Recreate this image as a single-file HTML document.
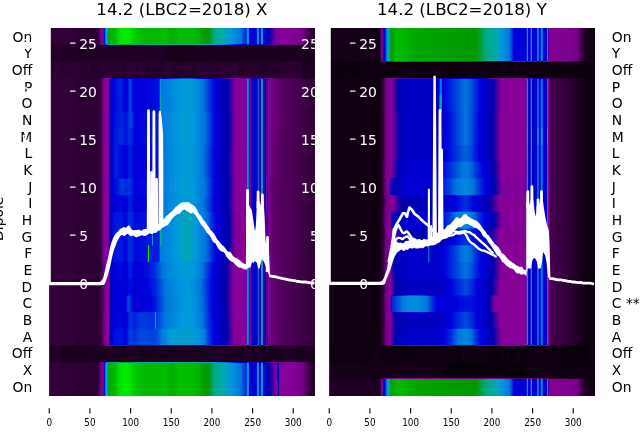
<!DOCTYPE html>
<html lang="en"><head><meta charset="utf-8"><title>14.2 (LBC2=2018)</title>
<style>html,body{margin:0;padding:0;background:#fff;overflow:hidden}svg{display:block}text{font-family:"DejaVu Sans","Liberation Sans",sans-serif}</style></head>
<body>
<svg width="640" height="440" viewBox="0 0 640 440"><defs><linearGradient id="a0" gradientUnits="userSpaceOnUse" x1="48.85" y1="0" x2="314.90" y2="0"><stop offset="0.0000" stop-color="#4c00a0"/><stop offset="0.0019" stop-color="#4c00a0"/><stop offset="0.0038" stop-color="#7b008c"/><stop offset="0.0056" stop-color="#310038"/><stop offset="0.0940" stop-color="#310038"/><stop offset="0.1034" stop-color="#2c0032"/><stop offset="0.1842" stop-color="#2c0032"/><stop offset="0.1917" stop-color="#51005c"/><stop offset="0.1955" stop-color="#770088"/><stop offset="0.2049" stop-color="#870098"/><stop offset="0.2068" stop-color="#2600a5"/><stop offset="0.2086" stop-color="#0000cd"/><stop offset="0.2105" stop-color="#0034dd"/><stop offset="0.2124" stop-color="#007ddd"/><stop offset="0.2143" stop-color="#0092dd"/><stop offset="0.2162" stop-color="#009ecd"/><stop offset="0.2180" stop-color="#00a7b2"/><stop offset="0.2218" stop-color="#00a980"/><stop offset="0.2237" stop-color="#009f2e"/><stop offset="0.2256" stop-color="#009e00"/><stop offset="0.2274" stop-color="#00ae00"/><stop offset="0.2368" stop-color="#00b700"/><stop offset="0.2481" stop-color="#00b800"/><stop offset="0.2650" stop-color="#00df00"/><stop offset="0.2838" stop-color="#00ea00"/><stop offset="0.3008" stop-color="#00e700"/><stop offset="0.3158" stop-color="#00d300"/><stop offset="0.3346" stop-color="#00c200"/><stop offset="0.3647" stop-color="#00b800"/><stop offset="0.3985" stop-color="#00b800"/><stop offset="0.4361" stop-color="#00be00"/><stop offset="0.4624" stop-color="#00ae00"/><stop offset="0.4925" stop-color="#00be00"/><stop offset="0.5376" stop-color="#00bb00"/><stop offset="0.5639" stop-color="#00b200"/><stop offset="0.5789" stop-color="#00a000"/><stop offset="0.5940" stop-color="#009900"/><stop offset="0.6053" stop-color="#009d22"/><stop offset="0.6165" stop-color="#00a66a"/><stop offset="0.6222" stop-color="#00aa84"/><stop offset="0.6241" stop-color="#00aa89"/><stop offset="0.6541" stop-color="#00aaab"/><stop offset="0.6729" stop-color="#009ecd"/><stop offset="0.6861" stop-color="#0098dd"/><stop offset="0.7199" stop-color="#0076dd"/><stop offset="0.7425" stop-color="#0025dd"/><stop offset="0.7444" stop-color="#0086dd"/><stop offset="0.7462" stop-color="#0099dd"/><stop offset="0.7500" stop-color="#0099dd"/><stop offset="0.7519" stop-color="#007add"/><stop offset="0.7538" stop-color="#0000dd"/><stop offset="0.7594" stop-color="#0000db"/><stop offset="0.7613" stop-color="#0000d3"/><stop offset="0.7801" stop-color="#0000d3"/><stop offset="0.7820" stop-color="#002cdd"/><stop offset="0.7838" stop-color="#0092dd"/><stop offset="0.7876" stop-color="#0092dd"/><stop offset="0.7895" stop-color="#006add"/><stop offset="0.7914" stop-color="#0000dd"/><stop offset="0.7951" stop-color="#0000dd"/><stop offset="0.7970" stop-color="#003bdd"/><stop offset="0.7989" stop-color="#0099dd"/><stop offset="0.8045" stop-color="#0099dd"/><stop offset="0.8064" stop-color="#0000ca"/><stop offset="0.8195" stop-color="#0000c9"/><stop offset="0.8308" stop-color="#0000ab"/><stop offset="0.8383" stop-color="#3300a4"/><stop offset="0.8534" stop-color="#79009b"/><stop offset="0.8797" stop-color="#880099"/><stop offset="0.9060" stop-color="#860097"/><stop offset="0.9530" stop-color="#770088"/><stop offset="0.9887" stop-color="#27002c"/><stop offset="1.0000" stop-color="#210026"/></linearGradient><linearGradient id="a1" gradientUnits="userSpaceOnUse" x1="48.85" y1="0" x2="314.90" y2="0"><stop offset="0.0000" stop-color="#4c00a0"/><stop offset="0.0019" stop-color="#4c00a0"/><stop offset="0.0038" stop-color="#7a008b"/><stop offset="0.0056" stop-color="#2d0033"/><stop offset="0.1842" stop-color="#29002e"/><stop offset="0.1917" stop-color="#44004e"/><stop offset="0.1974" stop-color="#710081"/><stop offset="0.1992" stop-color="#780089"/><stop offset="0.2049" stop-color="#800091"/><stop offset="0.2068" stop-color="#79009b"/><stop offset="0.2086" stop-color="#1600a7"/><stop offset="0.2105" stop-color="#0000be"/><stop offset="0.2124" stop-color="#0000db"/><stop offset="0.2162" stop-color="#0060dd"/><stop offset="0.2180" stop-color="#007edd"/><stop offset="0.2199" stop-color="#008ddd"/><stop offset="0.2218" stop-color="#009bd7"/><stop offset="0.2256" stop-color="#00a9ad"/><stop offset="0.2274" stop-color="#00aaa1"/><stop offset="0.2368" stop-color="#00aa9a"/><stop offset="0.2500" stop-color="#00aa96"/><stop offset="0.2575" stop-color="#00aa87"/><stop offset="0.2650" stop-color="#00a456"/><stop offset="0.2669" stop-color="#00a350"/><stop offset="0.2820" stop-color="#00a035"/><stop offset="0.2838" stop-color="#00a035"/><stop offset="0.3008" stop-color="#00a13e"/><stop offset="0.3158" stop-color="#00a879"/><stop offset="0.3195" stop-color="#00aa84"/><stop offset="0.3346" stop-color="#00aa91"/><stop offset="0.3665" stop-color="#00aa99"/><stop offset="0.4361" stop-color="#00aa94"/><stop offset="0.4624" stop-color="#00aaa1"/><stop offset="0.4925" stop-color="#00aa95"/><stop offset="0.5376" stop-color="#00aa97"/><stop offset="0.5639" stop-color="#00aa9d"/><stop offset="0.6053" stop-color="#00a4bd"/><stop offset="0.6165" stop-color="#009dd2"/><stop offset="0.6259" stop-color="#0099dd"/><stop offset="0.6654" stop-color="#0076dd"/><stop offset="0.6748" stop-color="#005add"/><stop offset="0.7124" stop-color="#0000dc"/><stop offset="0.7425" stop-color="#0000b9"/><stop offset="0.7444" stop-color="#0010dd"/><stop offset="0.7462" stop-color="#0042dd"/><stop offset="0.7500" stop-color="#0042dd"/><stop offset="0.7519" stop-color="#0000d7"/><stop offset="0.7538" stop-color="#0000ad"/><stop offset="0.7594" stop-color="#0000ac"/><stop offset="0.7613" stop-color="#0d00a8"/><stop offset="0.7801" stop-color="#0c00a9"/><stop offset="0.7820" stop-color="#0000bb"/><stop offset="0.7838" stop-color="#0031dd"/><stop offset="0.7876" stop-color="#0031dd"/><stop offset="0.7895" stop-color="#0000cf"/><stop offset="0.7914" stop-color="#0000ad"/><stop offset="0.7951" stop-color="#0000ad"/><stop offset="0.7970" stop-color="#0000c0"/><stop offset="0.7989" stop-color="#0043dd"/><stop offset="0.8045" stop-color="#0043dd"/><stop offset="0.8064" stop-color="#1d00a6"/><stop offset="0.8083" stop-color="#2100a6"/><stop offset="0.8195" stop-color="#2100a6"/><stop offset="0.8214" stop-color="#2600a5"/><stop offset="0.8233" stop-color="#3500a3"/><stop offset="0.8383" stop-color="#850099"/><stop offset="0.8402" stop-color="#870098"/><stop offset="0.8534" stop-color="#820093"/><stop offset="0.9060" stop-color="#7f0090"/><stop offset="0.9417" stop-color="#770088"/><stop offset="0.9624" stop-color="#4f005a"/><stop offset="0.9887" stop-color="#240029"/><stop offset="1.0000" stop-color="#200024"/></linearGradient><linearGradient id="a2" gradientUnits="userSpaceOnUse" x1="48.85" y1="0" x2="314.90" y2="0"><stop offset="0.0000" stop-color="#4c00a0"/><stop offset="0.0019" stop-color="#4c00a0"/><stop offset="0.0038" stop-color="#79008a"/><stop offset="0.0056" stop-color="#210025"/><stop offset="0.3214" stop-color="#200025"/><stop offset="0.3383" stop-color="#1e0022"/><stop offset="0.4323" stop-color="#200025"/><stop offset="0.4474" stop-color="#19001c"/><stop offset="0.4850" stop-color="#18001b"/><stop offset="0.5526" stop-color="#19001d"/><stop offset="0.5658" stop-color="#1d0021"/><stop offset="1.0000" stop-color="#1b001e"/></linearGradient><linearGradient id="a3" gradientUnits="userSpaceOnUse" x1="48.85" y1="0" x2="314.90" y2="0"><stop offset="0.0000" stop-color="#4c00a0"/><stop offset="0.0019" stop-color="#4c00a0"/><stop offset="0.0038" stop-color="#7a008b"/><stop offset="0.0056" stop-color="#26002c"/><stop offset="0.0395" stop-color="#28002e"/><stop offset="0.0714" stop-color="#240029"/><stop offset="0.0959" stop-color="#26002c"/><stop offset="0.1447" stop-color="#230028"/><stop offset="0.1466" stop-color="#27002c"/><stop offset="0.1541" stop-color="#27002c"/><stop offset="0.1560" stop-color="#220027"/><stop offset="0.1842" stop-color="#210026"/><stop offset="0.1974" stop-color="#210026"/><stop offset="0.2030" stop-color="#26002b"/><stop offset="0.2895" stop-color="#220027"/><stop offset="0.2914" stop-color="#220027"/><stop offset="0.2932" stop-color="#27002d"/><stop offset="0.3214" stop-color="#26002c"/><stop offset="0.3252" stop-color="#220027"/><stop offset="0.3346" stop-color="#220027"/><stop offset="0.3402" stop-color="#26002c"/><stop offset="0.3609" stop-color="#26002c"/><stop offset="0.3647" stop-color="#210026"/><stop offset="0.4342" stop-color="#220026"/><stop offset="0.4361" stop-color="#25002b"/><stop offset="0.4887" stop-color="#1e0023"/><stop offset="0.5526" stop-color="#1f0023"/><stop offset="0.5658" stop-color="#240029"/><stop offset="0.6372" stop-color="#200025"/><stop offset="0.6391" stop-color="#240029"/><stop offset="0.6654" stop-color="#240029"/><stop offset="0.6673" stop-color="#220026"/><stop offset="0.7068" stop-color="#240029"/><stop offset="0.7086" stop-color="#200024"/><stop offset="0.7368" stop-color="#1f0024"/><stop offset="0.7387" stop-color="#230028"/><stop offset="0.8177" stop-color="#1f0024"/><stop offset="0.9248" stop-color="#240029"/><stop offset="0.9436" stop-color="#240029"/><stop offset="0.9586" stop-color="#1a001e"/><stop offset="1.0000" stop-color="#1a001e"/></linearGradient><linearGradient id="a4" gradientUnits="userSpaceOnUse" x1="48.85" y1="0" x2="314.90" y2="0"><stop offset="0.0000" stop-color="#4c00a0"/><stop offset="0.0019" stop-color="#4c00a0"/><stop offset="0.0038" stop-color="#7a008b"/><stop offset="0.0056" stop-color="#2c0032"/><stop offset="0.0395" stop-color="#2f0035"/><stop offset="0.0414" stop-color="#2a0030"/><stop offset="0.0789" stop-color="#29002f"/><stop offset="0.0808" stop-color="#2d0033"/><stop offset="0.1109" stop-color="#2c0033"/><stop offset="0.1128" stop-color="#29002f"/><stop offset="0.1447" stop-color="#26002b"/><stop offset="0.1466" stop-color="#2d0034"/><stop offset="0.1541" stop-color="#2d0034"/><stop offset="0.1560" stop-color="#25002b"/><stop offset="0.1974" stop-color="#24002a"/><stop offset="0.1992" stop-color="#2c0032"/><stop offset="0.2105" stop-color="#2c0032"/><stop offset="0.2124" stop-color="#29002f"/><stop offset="0.2820" stop-color="#28002e"/><stop offset="0.2838" stop-color="#240029"/><stop offset="0.2914" stop-color="#240029"/><stop offset="0.2932" stop-color="#2e0034"/><stop offset="0.3233" stop-color="#2c0033"/><stop offset="0.3252" stop-color="#26002c"/><stop offset="0.3346" stop-color="#26002c"/><stop offset="0.3365" stop-color="#2d0033"/><stop offset="0.3609" stop-color="#2d0033"/><stop offset="0.3628" stop-color="#240029"/><stop offset="0.3778" stop-color="#240029"/><stop offset="0.3797" stop-color="#26002c"/><stop offset="0.4342" stop-color="#25002a"/><stop offset="0.4361" stop-color="#2c0032"/><stop offset="0.4605" stop-color="#2c0032"/><stop offset="0.4624" stop-color="#27002d"/><stop offset="0.4887" stop-color="#25002a"/><stop offset="0.5132" stop-color="#25002a"/><stop offset="0.5150" stop-color="#28002d"/><stop offset="0.5602" stop-color="#25002a"/><stop offset="0.5620" stop-color="#2b0032"/><stop offset="0.6372" stop-color="#25002b"/><stop offset="0.6391" stop-color="#2d0033"/><stop offset="0.6654" stop-color="#2d0033"/><stop offset="0.6673" stop-color="#28002d"/><stop offset="0.6917" stop-color="#28002d"/><stop offset="0.6936" stop-color="#2b0032"/><stop offset="0.7068" stop-color="#2b0032"/><stop offset="0.7086" stop-color="#240029"/><stop offset="0.7368" stop-color="#240029"/><stop offset="0.7387" stop-color="#2b0031"/><stop offset="0.7500" stop-color="#2b0031"/><stop offset="0.7519" stop-color="#26002b"/><stop offset="0.7951" stop-color="#27002c"/><stop offset="0.7970" stop-color="#230029"/><stop offset="0.8177" stop-color="#230028"/><stop offset="0.8195" stop-color="#28002e"/><stop offset="0.8741" stop-color="#25002a"/><stop offset="0.8759" stop-color="#2a0030"/><stop offset="0.9248" stop-color="#2c0032"/><stop offset="0.9436" stop-color="#2b0031"/><stop offset="0.9492" stop-color="#27002c"/><stop offset="0.9511" stop-color="#1e0023"/><stop offset="0.9586" stop-color="#1a001d"/><stop offset="1.0000" stop-color="#1a001e"/></linearGradient><linearGradient id="a5" gradientUnits="userSpaceOnUse" x1="48.85" y1="0" x2="314.90" y2="0"><stop offset="0.0000" stop-color="#4c00a0"/><stop offset="0.0019" stop-color="#4c00a0"/><stop offset="0.0038" stop-color="#7b008c"/><stop offset="0.0056" stop-color="#300036"/><stop offset="0.0940" stop-color="#300037"/><stop offset="0.1128" stop-color="#2b0031"/><stop offset="0.1842" stop-color="#2a0030"/><stop offset="0.1955" stop-color="#380040"/><stop offset="0.2030" stop-color="#5b0068"/><stop offset="0.2049" stop-color="#6e007e"/><stop offset="0.2068" stop-color="#79008a"/><stop offset="0.2124" stop-color="#800091"/><stop offset="0.2274" stop-color="#860097"/><stop offset="0.2293" stop-color="#7b009b"/><stop offset="0.2312" stop-color="#59009f"/><stop offset="0.2331" stop-color="#3d00a2"/><stop offset="0.2368" stop-color="#0e00a8"/><stop offset="0.2387" stop-color="#0300aa"/><stop offset="0.2406" stop-color="#0000ab"/><stop offset="0.2688" stop-color="#0000ba"/><stop offset="0.2744" stop-color="#0000b9"/><stop offset="0.2838" stop-color="#0000ad"/><stop offset="0.2914" stop-color="#0000ab"/><stop offset="0.2951" stop-color="#0000ae"/><stop offset="0.3008" stop-color="#0000c0"/><stop offset="0.3045" stop-color="#0000c6"/><stop offset="0.3064" stop-color="#0000c5"/><stop offset="0.3139" stop-color="#0000b5"/><stop offset="0.3252" stop-color="#0000ab"/><stop offset="0.4117" stop-color="#0000b3"/><stop offset="0.4154" stop-color="#0000b9"/><stop offset="0.4173" stop-color="#001cdd"/><stop offset="0.4192" stop-color="#002fdd"/><stop offset="0.4211" stop-color="#002fdd"/><stop offset="0.4229" stop-color="#0000da"/><stop offset="0.4248" stop-color="#0000d1"/><stop offset="0.4380" stop-color="#0000dd"/><stop offset="0.4850" stop-color="#0039dd"/><stop offset="0.5188" stop-color="#0058dd"/><stop offset="0.5489" stop-color="#0034dd"/><stop offset="0.5714" stop-color="#0000dc"/><stop offset="0.6259" stop-color="#0000ab"/><stop offset="0.6429" stop-color="#1a00a7"/><stop offset="0.6729" stop-color="#59009f"/><stop offset="0.6861" stop-color="#880099"/><stop offset="0.7030" stop-color="#810092"/><stop offset="0.7425" stop-color="#800091"/><stop offset="0.7444" stop-color="#0000c3"/><stop offset="0.7462" stop-color="#0034dd"/><stop offset="0.7500" stop-color="#0034dd"/><stop offset="0.7519" stop-color="#0000ad"/><stop offset="0.7538" stop-color="#810092"/><stop offset="0.7575" stop-color="#810092"/><stop offset="0.7594" stop-color="#860097"/><stop offset="0.7613" stop-color="#1400a8"/><stop offset="0.7820" stop-color="#1300a8"/><stop offset="0.7838" stop-color="#1700a7"/><stop offset="0.7857" stop-color="#0000dc"/><stop offset="0.7876" stop-color="#0000dc"/><stop offset="0.7895" stop-color="#0f00a8"/><stop offset="0.7914" stop-color="#84009a"/><stop offset="0.7951" stop-color="#84009a"/><stop offset="0.7970" stop-color="#4000a2"/><stop offset="0.7989" stop-color="#0033dd"/><stop offset="0.8045" stop-color="#0033dd"/><stop offset="0.8064" stop-color="#2900a5"/><stop offset="0.8083" stop-color="#3d00a2"/><stop offset="0.8102" stop-color="#7c009b"/><stop offset="0.8120" stop-color="#870098"/><stop offset="0.8139" stop-color="#71009c"/><stop offset="0.8158" stop-color="#3d00a2"/><stop offset="0.8177" stop-color="#850096"/><stop offset="0.8195" stop-color="#870098"/><stop offset="0.8214" stop-color="#3c00a3"/><stop offset="0.8233" stop-color="#820093"/><stop offset="0.8289" stop-color="#830094"/><stop offset="0.8327" stop-color="#710081"/><stop offset="0.8383" stop-color="#660074"/><stop offset="0.8684" stop-color="#4d0058"/><stop offset="1.0000" stop-color="#2a0030"/></linearGradient><linearGradient id="a6" gradientUnits="userSpaceOnUse" x1="48.85" y1="0" x2="314.90" y2="0"><stop offset="0.0000" stop-color="#4c00a0"/><stop offset="0.0019" stop-color="#4c00a0"/><stop offset="0.0038" stop-color="#7b008c"/><stop offset="0.0056" stop-color="#310038"/><stop offset="0.0940" stop-color="#310038"/><stop offset="0.1034" stop-color="#2c0032"/><stop offset="0.1842" stop-color="#2c0032"/><stop offset="0.1955" stop-color="#3e0047"/><stop offset="0.1974" stop-color="#480052"/><stop offset="0.2049" stop-color="#79008a"/><stop offset="0.2124" stop-color="#860097"/><stop offset="0.2218" stop-color="#880099"/><stop offset="0.2237" stop-color="#80009a"/><stop offset="0.2274" stop-color="#57009f"/><stop offset="0.2312" stop-color="#0000ab"/><stop offset="0.2368" stop-color="#0000d0"/><stop offset="0.2444" stop-color="#0001dd"/><stop offset="0.2613" stop-color="#001edd"/><stop offset="0.2688" stop-color="#0023dd"/><stop offset="0.2744" stop-color="#0020dd"/><stop offset="0.2820" stop-color="#0003dd"/><stop offset="0.2838" stop-color="#0000dc"/><stop offset="0.2932" stop-color="#0000d8"/><stop offset="0.2951" stop-color="#0000dc"/><stop offset="0.2970" stop-color="#000ddd"/><stop offset="0.2989" stop-color="#0023dd"/><stop offset="0.3008" stop-color="#0034dd"/><stop offset="0.3026" stop-color="#0041dd"/><stop offset="0.3045" stop-color="#0048dd"/><stop offset="0.3064" stop-color="#0046dd"/><stop offset="0.3139" stop-color="#0014dd"/><stop offset="0.3195" stop-color="#0000dc"/><stop offset="0.3233" stop-color="#0000d9"/><stop offset="0.3553" stop-color="#0000dd"/><stop offset="0.4117" stop-color="#000fdd"/><stop offset="0.4135" stop-color="#0012dd"/><stop offset="0.4154" stop-color="#0021dd"/><stop offset="0.4173" stop-color="#008add"/><stop offset="0.4192" stop-color="#0091dd"/><stop offset="0.4211" stop-color="#0091dd"/><stop offset="0.4229" stop-color="#007cdd"/><stop offset="0.4248" stop-color="#006edd"/><stop offset="0.4267" stop-color="#0078dd"/><stop offset="0.4549" stop-color="#0087dd"/><stop offset="0.4981" stop-color="#0099dd"/><stop offset="0.5188" stop-color="#009cd3"/><stop offset="0.5357" stop-color="#0099dd"/><stop offset="0.5489" stop-color="#0093dd"/><stop offset="0.5808" stop-color="#0076dd"/><stop offset="0.5977" stop-color="#004add"/><stop offset="0.6203" stop-color="#0003dd"/><stop offset="0.6222" stop-color="#0000dc"/><stop offset="0.6729" stop-color="#0000ab"/><stop offset="0.6748" stop-color="#0600a9"/><stop offset="0.6842" stop-color="#3300a4"/><stop offset="0.6955" stop-color="#6f009c"/><stop offset="0.7030" stop-color="#880099"/><stop offset="0.7425" stop-color="#870098"/><stop offset="0.7444" stop-color="#0040dd"/><stop offset="0.7462" stop-color="#0092dd"/><stop offset="0.7500" stop-color="#0092dd"/><stop offset="0.7519" stop-color="#0000db"/><stop offset="0.7538" stop-color="#880099"/><stop offset="0.7575" stop-color="#880099"/><stop offset="0.7594" stop-color="#4e00a0"/><stop offset="0.7613" stop-color="#0000ce"/><stop offset="0.7838" stop-color="#0000cc"/><stop offset="0.7857" stop-color="#007edd"/><stop offset="0.7876" stop-color="#007edd"/><stop offset="0.7895" stop-color="#0000d0"/><stop offset="0.7914" stop-color="#3600a3"/><stop offset="0.7951" stop-color="#3600a3"/><stop offset="0.7970" stop-color="#0000b8"/><stop offset="0.7989" stop-color="#0092dd"/><stop offset="0.8045" stop-color="#0092dd"/><stop offset="0.8064" stop-color="#0000c4"/><stop offset="0.8083" stop-color="#0000b9"/><stop offset="0.8102" stop-color="#2b00a5"/><stop offset="0.8120" stop-color="#4400a2"/><stop offset="0.8139" stop-color="#1c00a6"/><stop offset="0.8158" stop-color="#0000b9"/><stop offset="0.8177" stop-color="#5c009e"/><stop offset="0.8195" stop-color="#4700a1"/><stop offset="0.8214" stop-color="#0000b9"/><stop offset="0.8233" stop-color="#79009b"/><stop offset="0.8252" stop-color="#6d009c"/><stop offset="0.8289" stop-color="#6d009c"/><stop offset="0.8308" stop-color="#7c008d"/><stop offset="0.8402" stop-color="#770088"/><stop offset="0.8703" stop-color="#5a0066"/><stop offset="1.0000" stop-color="#300037"/></linearGradient><linearGradient id="a7" gradientUnits="userSpaceOnUse" x1="48.85" y1="0" x2="314.90" y2="0"><stop offset="0.0000" stop-color="#4c00a0"/><stop offset="0.0019" stop-color="#4c00a0"/><stop offset="0.0038" stop-color="#7b008c"/><stop offset="0.0056" stop-color="#310038"/><stop offset="0.0940" stop-color="#310038"/><stop offset="0.1034" stop-color="#2c0032"/><stop offset="0.1842" stop-color="#2c0032"/><stop offset="0.1955" stop-color="#3e0047"/><stop offset="0.1974" stop-color="#480052"/><stop offset="0.2049" stop-color="#79008a"/><stop offset="0.2124" stop-color="#860097"/><stop offset="0.2218" stop-color="#880099"/><stop offset="0.2237" stop-color="#80009a"/><stop offset="0.2274" stop-color="#57009f"/><stop offset="0.2312" stop-color="#0000ab"/><stop offset="0.2368" stop-color="#0000d0"/><stop offset="0.2444" stop-color="#0001dd"/><stop offset="0.2613" stop-color="#001ddd"/><stop offset="0.2688" stop-color="#0022dd"/><stop offset="0.2744" stop-color="#001fdd"/><stop offset="0.2820" stop-color="#0002dd"/><stop offset="0.2932" stop-color="#0000d8"/><stop offset="0.2951" stop-color="#0000dc"/><stop offset="0.2970" stop-color="#000ddd"/><stop offset="0.2989" stop-color="#0023dd"/><stop offset="0.3008" stop-color="#0034dd"/><stop offset="0.3026" stop-color="#0041dd"/><stop offset="0.3045" stop-color="#0048dd"/><stop offset="0.3064" stop-color="#0046dd"/><stop offset="0.3139" stop-color="#0014dd"/><stop offset="0.3195" stop-color="#0000dc"/><stop offset="0.3233" stop-color="#0000d9"/><stop offset="0.3553" stop-color="#0000dd"/><stop offset="0.4117" stop-color="#000fdd"/><stop offset="0.4135" stop-color="#0012dd"/><stop offset="0.4154" stop-color="#0021dd"/><stop offset="0.4173" stop-color="#0091dd"/><stop offset="0.4192" stop-color="#0099dc"/><stop offset="0.4211" stop-color="#0099dc"/><stop offset="0.4229" stop-color="#007fdd"/><stop offset="0.4248" stop-color="#006edd"/><stop offset="0.4267" stop-color="#0078dd"/><stop offset="0.4549" stop-color="#0087dd"/><stop offset="0.4981" stop-color="#0099dd"/><stop offset="0.5188" stop-color="#009cd3"/><stop offset="0.5357" stop-color="#0099dd"/><stop offset="0.5489" stop-color="#0093dd"/><stop offset="0.5808" stop-color="#0076dd"/><stop offset="0.5977" stop-color="#004add"/><stop offset="0.6203" stop-color="#0003dd"/><stop offset="0.6222" stop-color="#0000dc"/><stop offset="0.6729" stop-color="#0000ab"/><stop offset="0.6748" stop-color="#0600a9"/><stop offset="0.6842" stop-color="#3300a4"/><stop offset="0.6955" stop-color="#6f009c"/><stop offset="0.7030" stop-color="#880099"/><stop offset="0.7425" stop-color="#870098"/><stop offset="0.7444" stop-color="#0040dd"/><stop offset="0.7462" stop-color="#0092dd"/><stop offset="0.7500" stop-color="#0092dd"/><stop offset="0.7519" stop-color="#0000db"/><stop offset="0.7538" stop-color="#880099"/><stop offset="0.7575" stop-color="#880099"/><stop offset="0.7594" stop-color="#4e00a0"/><stop offset="0.7613" stop-color="#0000ce"/><stop offset="0.7838" stop-color="#0000cc"/><stop offset="0.7857" stop-color="#007edd"/><stop offset="0.7876" stop-color="#007edd"/><stop offset="0.7895" stop-color="#0000d0"/><stop offset="0.7914" stop-color="#3600a3"/><stop offset="0.7951" stop-color="#3600a3"/><stop offset="0.7970" stop-color="#0000b8"/><stop offset="0.7989" stop-color="#0092dd"/><stop offset="0.8045" stop-color="#0092dd"/><stop offset="0.8064" stop-color="#0000c4"/><stop offset="0.8083" stop-color="#0000b9"/><stop offset="0.8102" stop-color="#2b00a5"/><stop offset="0.8120" stop-color="#4400a2"/><stop offset="0.8139" stop-color="#1c00a6"/><stop offset="0.8158" stop-color="#0000b9"/><stop offset="0.8177" stop-color="#5c009e"/><stop offset="0.8195" stop-color="#4700a1"/><stop offset="0.8214" stop-color="#0000b9"/><stop offset="0.8233" stop-color="#79009b"/><stop offset="0.8252" stop-color="#6d009c"/><stop offset="0.8289" stop-color="#6d009c"/><stop offset="0.8308" stop-color="#7c008d"/><stop offset="0.8402" stop-color="#770088"/><stop offset="0.8703" stop-color="#5a0066"/><stop offset="1.0000" stop-color="#300037"/></linearGradient><linearGradient id="a8" gradientUnits="userSpaceOnUse" x1="48.85" y1="0" x2="314.90" y2="0"><stop offset="0.0000" stop-color="#4c00a0"/><stop offset="0.0019" stop-color="#4c00a0"/><stop offset="0.0038" stop-color="#7b008c"/><stop offset="0.0056" stop-color="#310038"/><stop offset="0.0940" stop-color="#310038"/><stop offset="0.1034" stop-color="#2c0032"/><stop offset="0.1842" stop-color="#2c0032"/><stop offset="0.1955" stop-color="#3e0047"/><stop offset="0.1974" stop-color="#480052"/><stop offset="0.2049" stop-color="#79008a"/><stop offset="0.2124" stop-color="#860097"/><stop offset="0.2218" stop-color="#880099"/><stop offset="0.2237" stop-color="#80009a"/><stop offset="0.2274" stop-color="#57009f"/><stop offset="0.2312" stop-color="#0000ab"/><stop offset="0.2368" stop-color="#0000d0"/><stop offset="0.2444" stop-color="#0001dd"/><stop offset="0.2613" stop-color="#001add"/><stop offset="0.2688" stop-color="#001edd"/><stop offset="0.2744" stop-color="#001cdd"/><stop offset="0.2820" stop-color="#0001dd"/><stop offset="0.2932" stop-color="#0000d8"/><stop offset="0.2951" stop-color="#0000dc"/><stop offset="0.2970" stop-color="#000ddd"/><stop offset="0.2989" stop-color="#0023dd"/><stop offset="0.3008" stop-color="#0034dd"/><stop offset="0.3026" stop-color="#0041dd"/><stop offset="0.3045" stop-color="#0048dd"/><stop offset="0.3064" stop-color="#0046dd"/><stop offset="0.3139" stop-color="#0014dd"/><stop offset="0.3195" stop-color="#0000dc"/><stop offset="0.3233" stop-color="#0000d9"/><stop offset="0.3553" stop-color="#0000dd"/><stop offset="0.4117" stop-color="#000fdd"/><stop offset="0.4135" stop-color="#0012dd"/><stop offset="0.4154" stop-color="#0021dd"/><stop offset="0.4173" stop-color="#00a7b2"/><stop offset="0.4192" stop-color="#00aaa0"/><stop offset="0.4211" stop-color="#00aaa0"/><stop offset="0.4229" stop-color="#008fdd"/><stop offset="0.4248" stop-color="#006edd"/><stop offset="0.4267" stop-color="#0078dd"/><stop offset="0.4981" stop-color="#0099dd"/><stop offset="0.5188" stop-color="#009cd3"/><stop offset="0.5357" stop-color="#0099dd"/><stop offset="0.5489" stop-color="#0093dd"/><stop offset="0.5808" stop-color="#0076dd"/><stop offset="0.5977" stop-color="#004add"/><stop offset="0.6203" stop-color="#0003dd"/><stop offset="0.6222" stop-color="#0000dc"/><stop offset="0.6729" stop-color="#0000ab"/><stop offset="0.6748" stop-color="#0600a9"/><stop offset="0.6842" stop-color="#3300a4"/><stop offset="0.6955" stop-color="#6f009c"/><stop offset="0.7030" stop-color="#880099"/><stop offset="0.7425" stop-color="#870098"/><stop offset="0.7444" stop-color="#0040dd"/><stop offset="0.7462" stop-color="#0092dd"/><stop offset="0.7500" stop-color="#0092dd"/><stop offset="0.7519" stop-color="#0000db"/><stop offset="0.7538" stop-color="#880099"/><stop offset="0.7575" stop-color="#880099"/><stop offset="0.7594" stop-color="#4e00a0"/><stop offset="0.7613" stop-color="#0000ce"/><stop offset="0.7838" stop-color="#0000cc"/><stop offset="0.7857" stop-color="#007edd"/><stop offset="0.7876" stop-color="#007edd"/><stop offset="0.7895" stop-color="#0000d0"/><stop offset="0.7914" stop-color="#3600a3"/><stop offset="0.7951" stop-color="#3600a3"/><stop offset="0.7970" stop-color="#0000b8"/><stop offset="0.7989" stop-color="#0092dd"/><stop offset="0.8045" stop-color="#0092dd"/><stop offset="0.8064" stop-color="#0000c4"/><stop offset="0.8083" stop-color="#0000b9"/><stop offset="0.8102" stop-color="#2b00a5"/><stop offset="0.8120" stop-color="#4400a2"/><stop offset="0.8139" stop-color="#1c00a6"/><stop offset="0.8158" stop-color="#0000b9"/><stop offset="0.8177" stop-color="#5c009e"/><stop offset="0.8195" stop-color="#4700a1"/><stop offset="0.8214" stop-color="#0000b9"/><stop offset="0.8233" stop-color="#79009b"/><stop offset="0.8252" stop-color="#6d009c"/><stop offset="0.8289" stop-color="#6d009c"/><stop offset="0.8308" stop-color="#7c008d"/><stop offset="0.8402" stop-color="#770088"/><stop offset="0.8703" stop-color="#5a0066"/><stop offset="1.0000" stop-color="#300037"/></linearGradient><linearGradient id="a9" gradientUnits="userSpaceOnUse" x1="48.85" y1="0" x2="314.90" y2="0"><stop offset="0.0000" stop-color="#4c00a0"/><stop offset="0.0019" stop-color="#4c00a0"/><stop offset="0.0038" stop-color="#7b008c"/><stop offset="0.0056" stop-color="#310038"/><stop offset="0.0940" stop-color="#310038"/><stop offset="0.1034" stop-color="#2c0032"/><stop offset="0.1842" stop-color="#2c0032"/><stop offset="0.1955" stop-color="#3e0047"/><stop offset="0.2049" stop-color="#79008a"/><stop offset="0.2124" stop-color="#860097"/><stop offset="0.2199" stop-color="#870099"/><stop offset="0.2218" stop-color="#860099"/><stop offset="0.2237" stop-color="#7e009a"/><stop offset="0.2274" stop-color="#55009f"/><stop offset="0.2312" stop-color="#0000ac"/><stop offset="0.2368" stop-color="#0000d2"/><stop offset="0.2425" stop-color="#0000dc"/><stop offset="0.2613" stop-color="#001add"/><stop offset="0.2726" stop-color="#0021dd"/><stop offset="0.2763" stop-color="#001cdd"/><stop offset="0.2820" stop-color="#000add"/><stop offset="0.2932" stop-color="#0001dd"/><stop offset="0.2951" stop-color="#000add"/><stop offset="0.2970" stop-color="#0018dd"/><stop offset="0.2989" stop-color="#002bdd"/><stop offset="0.3008" stop-color="#0038dd"/><stop offset="0.3045" stop-color="#0047dd"/><stop offset="0.3064" stop-color="#0047dd"/><stop offset="0.3083" stop-color="#0041dd"/><stop offset="0.3195" stop-color="#0005dd"/><stop offset="0.3214" stop-color="#0000db"/><stop offset="0.3440" stop-color="#0000dd"/><stop offset="0.4117" stop-color="#0013dd"/><stop offset="0.4135" stop-color="#0015dd"/><stop offset="0.4154" stop-color="#0025dd"/><stop offset="0.4173" stop-color="#009fcb"/><stop offset="0.4192" stop-color="#00a5b8"/><stop offset="0.4211" stop-color="#00a5b8"/><stop offset="0.4229" stop-color="#0088dd"/><stop offset="0.4248" stop-color="#0073dd"/><stop offset="0.4267" stop-color="#0079dd"/><stop offset="0.4944" stop-color="#0099dd"/><stop offset="0.5188" stop-color="#009dd0"/><stop offset="0.5376" stop-color="#0099dc"/><stop offset="0.5489" stop-color="#0094dd"/><stop offset="0.5827" stop-color="#0076dd"/><stop offset="0.5977" stop-color="#004edd"/><stop offset="0.6203" stop-color="#0006dd"/><stop offset="0.6241" stop-color="#0000dc"/><stop offset="0.6729" stop-color="#0000ac"/><stop offset="0.6748" stop-color="#0300aa"/><stop offset="0.6955" stop-color="#6d009c"/><stop offset="0.7030" stop-color="#880099"/><stop offset="0.7425" stop-color="#870098"/><stop offset="0.7444" stop-color="#0040dd"/><stop offset="0.7462" stop-color="#0092dd"/><stop offset="0.7500" stop-color="#0092dd"/><stop offset="0.7519" stop-color="#0000db"/><stop offset="0.7538" stop-color="#880099"/><stop offset="0.7575" stop-color="#880099"/><stop offset="0.7594" stop-color="#4d00a0"/><stop offset="0.7613" stop-color="#0000ce"/><stop offset="0.7838" stop-color="#0000cc"/><stop offset="0.7857" stop-color="#007edd"/><stop offset="0.7876" stop-color="#007edd"/><stop offset="0.7895" stop-color="#0000d0"/><stop offset="0.7914" stop-color="#3600a3"/><stop offset="0.7951" stop-color="#3600a3"/><stop offset="0.7970" stop-color="#0000b8"/><stop offset="0.7989" stop-color="#0092dd"/><stop offset="0.8045" stop-color="#0092dd"/><stop offset="0.8064" stop-color="#0000c4"/><stop offset="0.8083" stop-color="#0000b9"/><stop offset="0.8102" stop-color="#2b00a5"/><stop offset="0.8120" stop-color="#4400a2"/><stop offset="0.8139" stop-color="#1c00a7"/><stop offset="0.8158" stop-color="#0000b9"/><stop offset="0.8177" stop-color="#5c009f"/><stop offset="0.8195" stop-color="#4600a1"/><stop offset="0.8214" stop-color="#0000b9"/><stop offset="0.8233" stop-color="#79009b"/><stop offset="0.8252" stop-color="#6d009c"/><stop offset="0.8289" stop-color="#6d009c"/><stop offset="0.8308" stop-color="#7c008d"/><stop offset="0.8421" stop-color="#760087"/><stop offset="0.8703" stop-color="#5a0067"/><stop offset="1.0000" stop-color="#300037"/></linearGradient><linearGradient id="a10" gradientUnits="userSpaceOnUse" x1="48.85" y1="0" x2="314.90" y2="0"><stop offset="0.0000" stop-color="#4c00a0"/><stop offset="0.0019" stop-color="#4c00a0"/><stop offset="0.0038" stop-color="#7b008c"/><stop offset="0.0056" stop-color="#310038"/><stop offset="0.0940" stop-color="#310038"/><stop offset="0.1034" stop-color="#2c0032"/><stop offset="0.1842" stop-color="#2c0032"/><stop offset="0.1955" stop-color="#3f0047"/><stop offset="0.2049" stop-color="#79008a"/><stop offset="0.2086" stop-color="#820093"/><stop offset="0.2162" stop-color="#880099"/><stop offset="0.2218" stop-color="#83009a"/><stop offset="0.2237" stop-color="#7b009b"/><stop offset="0.2274" stop-color="#5200a0"/><stop offset="0.2293" stop-color="#2600a5"/><stop offset="0.2312" stop-color="#0000ad"/><stop offset="0.2368" stop-color="#0000d4"/><stop offset="0.2425" stop-color="#0003dd"/><stop offset="0.2462" stop-color="#000ddd"/><stop offset="0.2744" stop-color="#0027dd"/><stop offset="0.2820" stop-color="#0017dd"/><stop offset="0.2932" stop-color="#0012dd"/><stop offset="0.2951" stop-color="#001add"/><stop offset="0.2989" stop-color="#0037dd"/><stop offset="0.3008" stop-color="#003edd"/><stop offset="0.3083" stop-color="#0048dd"/><stop offset="0.3120" stop-color="#0042dd"/><stop offset="0.3214" stop-color="#0003dd"/><stop offset="0.3233" stop-color="#0000dd"/><stop offset="0.4117" stop-color="#0018dd"/><stop offset="0.4135" stop-color="#001bdd"/><stop offset="0.4154" stop-color="#002add"/><stop offset="0.4173" stop-color="#008edd"/><stop offset="0.4192" stop-color="#0096dd"/><stop offset="0.4211" stop-color="#0096dd"/><stop offset="0.4229" stop-color="#007fdd"/><stop offset="0.4248" stop-color="#0078dd"/><stop offset="0.4549" stop-color="#008add"/><stop offset="0.4868" stop-color="#0099dd"/><stop offset="0.5188" stop-color="#009ecd"/><stop offset="0.5432" stop-color="#0099dd"/><stop offset="0.5846" stop-color="#0077dd"/><stop offset="0.5977" stop-color="#0054dd"/><stop offset="0.6203" stop-color="#000bdd"/><stop offset="0.6259" stop-color="#0000dc"/><stop offset="0.6748" stop-color="#0000ab"/><stop offset="0.6842" stop-color="#2d00a4"/><stop offset="0.6955" stop-color="#6a009d"/><stop offset="0.7030" stop-color="#860099"/><stop offset="0.7425" stop-color="#870098"/><stop offset="0.7444" stop-color="#0041dd"/><stop offset="0.7462" stop-color="#0092dd"/><stop offset="0.7500" stop-color="#0092dd"/><stop offset="0.7519" stop-color="#0000dc"/><stop offset="0.7538" stop-color="#880099"/><stop offset="0.7575" stop-color="#880099"/><stop offset="0.7594" stop-color="#4d00a0"/><stop offset="0.7613" stop-color="#0000ce"/><stop offset="0.7838" stop-color="#0000cc"/><stop offset="0.7857" stop-color="#007edd"/><stop offset="0.7876" stop-color="#007edd"/><stop offset="0.7895" stop-color="#0000d0"/><stop offset="0.7914" stop-color="#3600a3"/><stop offset="0.7951" stop-color="#3600a3"/><stop offset="0.7970" stop-color="#0000b8"/><stop offset="0.7989" stop-color="#0092dd"/><stop offset="0.8045" stop-color="#0092dd"/><stop offset="0.8064" stop-color="#0000c4"/><stop offset="0.8083" stop-color="#0000b9"/><stop offset="0.8102" stop-color="#2a00a5"/><stop offset="0.8120" stop-color="#4400a2"/><stop offset="0.8139" stop-color="#1c00a7"/><stop offset="0.8158" stop-color="#0000b9"/><stop offset="0.8177" stop-color="#5c009f"/><stop offset="0.8195" stop-color="#4600a1"/><stop offset="0.8214" stop-color="#0000b9"/><stop offset="0.8233" stop-color="#79009b"/><stop offset="0.8252" stop-color="#6d009c"/><stop offset="0.8289" stop-color="#6d009c"/><stop offset="0.8308" stop-color="#7d008d"/><stop offset="0.8421" stop-color="#770088"/><stop offset="0.8703" stop-color="#5b0067"/><stop offset="1.0000" stop-color="#300037"/></linearGradient><linearGradient id="a11" gradientUnits="userSpaceOnUse" x1="48.85" y1="0" x2="314.90" y2="0"><stop offset="0.0000" stop-color="#4c00a0"/><stop offset="0.0019" stop-color="#4c00a0"/><stop offset="0.0038" stop-color="#7b008c"/><stop offset="0.0056" stop-color="#310038"/><stop offset="0.0940" stop-color="#310038"/><stop offset="0.1034" stop-color="#2c0032"/><stop offset="0.1842" stop-color="#2c0032"/><stop offset="0.1955" stop-color="#3f0047"/><stop offset="0.2049" stop-color="#79008a"/><stop offset="0.2086" stop-color="#820093"/><stop offset="0.2162" stop-color="#880099"/><stop offset="0.2218" stop-color="#83009a"/><stop offset="0.2237" stop-color="#7b009b"/><stop offset="0.2274" stop-color="#5200a0"/><stop offset="0.2293" stop-color="#2600a5"/><stop offset="0.2312" stop-color="#0000ad"/><stop offset="0.2368" stop-color="#0000d4"/><stop offset="0.2406" stop-color="#0000dd"/><stop offset="0.2462" stop-color="#0011dd"/><stop offset="0.2744" stop-color="#002bdd"/><stop offset="0.2820" stop-color="#0019dd"/><stop offset="0.2932" stop-color="#0011dd"/><stop offset="0.2951" stop-color="#0018dd"/><stop offset="0.2989" stop-color="#0030dd"/><stop offset="0.3008" stop-color="#0033dd"/><stop offset="0.3120" stop-color="#002edd"/><stop offset="0.3214" stop-color="#0001dd"/><stop offset="0.3233" stop-color="#0000dc"/><stop offset="0.4117" stop-color="#0018dd"/><stop offset="0.4135" stop-color="#001bdd"/><stop offset="0.4154" stop-color="#002add"/><stop offset="0.4173" stop-color="#0090dd"/><stop offset="0.4192" stop-color="#0098dd"/><stop offset="0.4211" stop-color="#0098dd"/><stop offset="0.4229" stop-color="#0080dd"/><stop offset="0.4248" stop-color="#0078dd"/><stop offset="0.4549" stop-color="#008add"/><stop offset="0.4868" stop-color="#0099dd"/><stop offset="0.5188" stop-color="#009ecd"/><stop offset="0.5432" stop-color="#0099dd"/><stop offset="0.5846" stop-color="#0077dd"/><stop offset="0.5977" stop-color="#0054dd"/><stop offset="0.6203" stop-color="#000bdd"/><stop offset="0.6259" stop-color="#0000dc"/><stop offset="0.6748" stop-color="#0000ab"/><stop offset="0.6842" stop-color="#2d00a4"/><stop offset="0.6955" stop-color="#6a009d"/><stop offset="0.7030" stop-color="#860099"/><stop offset="0.7425" stop-color="#870098"/><stop offset="0.7444" stop-color="#0041dd"/><stop offset="0.7462" stop-color="#0092dd"/><stop offset="0.7500" stop-color="#0092dd"/><stop offset="0.7519" stop-color="#0000dc"/><stop offset="0.7538" stop-color="#880099"/><stop offset="0.7575" stop-color="#880099"/><stop offset="0.7594" stop-color="#4d00a0"/><stop offset="0.7613" stop-color="#0000ce"/><stop offset="0.7838" stop-color="#0000cc"/><stop offset="0.7857" stop-color="#007edd"/><stop offset="0.7876" stop-color="#007edd"/><stop offset="0.7895" stop-color="#0000cf"/><stop offset="0.7914" stop-color="#3600a3"/><stop offset="0.7951" stop-color="#3600a3"/><stop offset="0.7970" stop-color="#0000b7"/><stop offset="0.7989" stop-color="#0092dd"/><stop offset="0.8045" stop-color="#0092dd"/><stop offset="0.8064" stop-color="#0000c3"/><stop offset="0.8083" stop-color="#0000b9"/><stop offset="0.8102" stop-color="#2c00a5"/><stop offset="0.8120" stop-color="#4400a2"/><stop offset="0.8139" stop-color="#1e00a6"/><stop offset="0.8158" stop-color="#0000b9"/><stop offset="0.8177" stop-color="#5e009e"/><stop offset="0.8195" stop-color="#4800a1"/><stop offset="0.8214" stop-color="#0000b9"/><stop offset="0.8233" stop-color="#7b009b"/><stop offset="0.8252" stop-color="#6d009c"/><stop offset="0.8289" stop-color="#6d009c"/><stop offset="0.8308" stop-color="#7b008c"/><stop offset="0.8365" stop-color="#770088"/><stop offset="0.8496" stop-color="#680076"/><stop offset="0.8684" stop-color="#590065"/><stop offset="1.0000" stop-color="#300037"/></linearGradient><linearGradient id="a12" gradientUnits="userSpaceOnUse" x1="48.85" y1="0" x2="314.90" y2="0"><stop offset="0.0000" stop-color="#4c00a0"/><stop offset="0.0019" stop-color="#4c00a0"/><stop offset="0.0038" stop-color="#7b008c"/><stop offset="0.0056" stop-color="#310038"/><stop offset="0.0940" stop-color="#310038"/><stop offset="0.1034" stop-color="#2c0032"/><stop offset="0.1842" stop-color="#2c0032"/><stop offset="0.1955" stop-color="#3f0047"/><stop offset="0.2049" stop-color="#79008a"/><stop offset="0.2086" stop-color="#820093"/><stop offset="0.2162" stop-color="#880099"/><stop offset="0.2218" stop-color="#83009a"/><stop offset="0.2237" stop-color="#7b009b"/><stop offset="0.2274" stop-color="#5200a0"/><stop offset="0.2293" stop-color="#2600a5"/><stop offset="0.2312" stop-color="#0000ad"/><stop offset="0.2368" stop-color="#0000d4"/><stop offset="0.2406" stop-color="#0000dd"/><stop offset="0.2444" stop-color="#000fdd"/><stop offset="0.2462" stop-color="#0013dd"/><stop offset="0.2632" stop-color="#0026dd"/><stop offset="0.2744" stop-color="#002edd"/><stop offset="0.2820" stop-color="#001add"/><stop offset="0.2932" stop-color="#0010dd"/><stop offset="0.2989" stop-color="#002cdd"/><stop offset="0.3008" stop-color="#002ddd"/><stop offset="0.3120" stop-color="#0025dd"/><stop offset="0.3214" stop-color="#0000dd"/><stop offset="0.4117" stop-color="#0018dd"/><stop offset="0.4135" stop-color="#001bdd"/><stop offset="0.4154" stop-color="#002add"/><stop offset="0.4173" stop-color="#0091dd"/><stop offset="0.4192" stop-color="#0099dd"/><stop offset="0.4211" stop-color="#0099dd"/><stop offset="0.4229" stop-color="#0081dd"/><stop offset="0.4248" stop-color="#0078dd"/><stop offset="0.4549" stop-color="#008add"/><stop offset="0.4868" stop-color="#0099dd"/><stop offset="0.5188" stop-color="#009ecd"/><stop offset="0.5432" stop-color="#0099dd"/><stop offset="0.5846" stop-color="#0077dd"/><stop offset="0.5977" stop-color="#0054dd"/><stop offset="0.6203" stop-color="#000bdd"/><stop offset="0.6259" stop-color="#0000dc"/><stop offset="0.6748" stop-color="#0000ab"/><stop offset="0.6842" stop-color="#2d00a4"/><stop offset="0.6955" stop-color="#6a009d"/><stop offset="0.7030" stop-color="#860099"/><stop offset="0.7425" stop-color="#870098"/><stop offset="0.7444" stop-color="#0041dd"/><stop offset="0.7462" stop-color="#0092dd"/><stop offset="0.7500" stop-color="#0092dd"/><stop offset="0.7519" stop-color="#0000dc"/><stop offset="0.7538" stop-color="#880099"/><stop offset="0.7575" stop-color="#880099"/><stop offset="0.7594" stop-color="#4e00a0"/><stop offset="0.7613" stop-color="#0000ce"/><stop offset="0.7838" stop-color="#0000cc"/><stop offset="0.7857" stop-color="#007edd"/><stop offset="0.7876" stop-color="#007edd"/><stop offset="0.7895" stop-color="#0000cf"/><stop offset="0.7914" stop-color="#3600a3"/><stop offset="0.7951" stop-color="#3600a3"/><stop offset="0.7970" stop-color="#0000b7"/><stop offset="0.7989" stop-color="#0092dd"/><stop offset="0.8045" stop-color="#0092dd"/><stop offset="0.8064" stop-color="#0000c3"/><stop offset="0.8083" stop-color="#0000b9"/><stop offset="0.8102" stop-color="#2d00a4"/><stop offset="0.8120" stop-color="#4400a2"/><stop offset="0.8139" stop-color="#1f00a6"/><stop offset="0.8158" stop-color="#0000b9"/><stop offset="0.8177" stop-color="#5f009e"/><stop offset="0.8195" stop-color="#4900a1"/><stop offset="0.8214" stop-color="#0000b9"/><stop offset="0.8233" stop-color="#7c009a"/><stop offset="0.8252" stop-color="#6d009c"/><stop offset="0.8289" stop-color="#6d009c"/><stop offset="0.8308" stop-color="#7b008c"/><stop offset="0.8496" stop-color="#640073"/><stop offset="0.8684" stop-color="#570064"/><stop offset="1.0000" stop-color="#300037"/></linearGradient><linearGradient id="a13" gradientUnits="userSpaceOnUse" x1="48.85" y1="0" x2="314.90" y2="0"><stop offset="0.0000" stop-color="#4c00a0"/><stop offset="0.0019" stop-color="#4c00a0"/><stop offset="0.0038" stop-color="#7b008c"/><stop offset="0.0056" stop-color="#310038"/><stop offset="0.0940" stop-color="#310038"/><stop offset="0.1034" stop-color="#2c0032"/><stop offset="0.1842" stop-color="#2c0032"/><stop offset="0.1955" stop-color="#3f0047"/><stop offset="0.2049" stop-color="#79008a"/><stop offset="0.2124" stop-color="#870098"/><stop offset="0.2180" stop-color="#870099"/><stop offset="0.2218" stop-color="#84009a"/><stop offset="0.2237" stop-color="#7c009b"/><stop offset="0.2274" stop-color="#5200a0"/><stop offset="0.2293" stop-color="#2600a5"/><stop offset="0.2312" stop-color="#0000ad"/><stop offset="0.2368" stop-color="#0000d4"/><stop offset="0.2406" stop-color="#0000dd"/><stop offset="0.2444" stop-color="#000fdd"/><stop offset="0.2462" stop-color="#0013dd"/><stop offset="0.2594" stop-color="#0021dd"/><stop offset="0.2744" stop-color="#002add"/><stop offset="0.2820" stop-color="#0017dd"/><stop offset="0.2932" stop-color="#000edd"/><stop offset="0.2989" stop-color="#002add"/><stop offset="0.3008" stop-color="#002cdd"/><stop offset="0.3120" stop-color="#0024dd"/><stop offset="0.3214" stop-color="#0000dd"/><stop offset="0.4117" stop-color="#0017dd"/><stop offset="0.4135" stop-color="#001add"/><stop offset="0.4154" stop-color="#002add"/><stop offset="0.4173" stop-color="#0091dd"/><stop offset="0.4192" stop-color="#0099dd"/><stop offset="0.4211" stop-color="#0099dd"/><stop offset="0.4229" stop-color="#0080dd"/><stop offset="0.4248" stop-color="#0077dd"/><stop offset="0.4549" stop-color="#008add"/><stop offset="0.4887" stop-color="#0099dd"/><stop offset="0.5188" stop-color="#009ecd"/><stop offset="0.5414" stop-color="#0099dc"/><stop offset="0.5489" stop-color="#0096dd"/><stop offset="0.5846" stop-color="#0076dd"/><stop offset="0.5977" stop-color="#0053dd"/><stop offset="0.6203" stop-color="#000bdd"/><stop offset="0.6259" stop-color="#0000dc"/><stop offset="0.6748" stop-color="#0000aa"/><stop offset="0.6842" stop-color="#2d00a4"/><stop offset="0.6955" stop-color="#6a009d"/><stop offset="0.7030" stop-color="#860099"/><stop offset="0.7425" stop-color="#870098"/><stop offset="0.7444" stop-color="#0041dd"/><stop offset="0.7462" stop-color="#0092dd"/><stop offset="0.7500" stop-color="#0092dd"/><stop offset="0.7519" stop-color="#0000db"/><stop offset="0.7538" stop-color="#880099"/><stop offset="0.7575" stop-color="#880099"/><stop offset="0.7594" stop-color="#4e00a0"/><stop offset="0.7613" stop-color="#0000ce"/><stop offset="0.7838" stop-color="#0000cc"/><stop offset="0.7857" stop-color="#007edd"/><stop offset="0.7876" stop-color="#007edd"/><stop offset="0.7895" stop-color="#0000cf"/><stop offset="0.7914" stop-color="#3600a3"/><stop offset="0.7951" stop-color="#3600a3"/><stop offset="0.7970" stop-color="#0000b7"/><stop offset="0.7989" stop-color="#0092dd"/><stop offset="0.8045" stop-color="#0092dd"/><stop offset="0.8064" stop-color="#0000c3"/><stop offset="0.8083" stop-color="#0000b9"/><stop offset="0.8102" stop-color="#2d00a4"/><stop offset="0.8120" stop-color="#4400a2"/><stop offset="0.8139" stop-color="#1f00a6"/><stop offset="0.8158" stop-color="#0000b9"/><stop offset="0.8177" stop-color="#5f009e"/><stop offset="0.8195" stop-color="#4900a1"/><stop offset="0.8214" stop-color="#0000b9"/><stop offset="0.8233" stop-color="#7c009a"/><stop offset="0.8252" stop-color="#6d009c"/><stop offset="0.8289" stop-color="#6d009c"/><stop offset="0.8308" stop-color="#7b008c"/><stop offset="0.8496" stop-color="#640072"/><stop offset="0.8684" stop-color="#570064"/><stop offset="1.0000" stop-color="#300037"/></linearGradient><linearGradient id="a14" gradientUnits="userSpaceOnUse" x1="48.85" y1="0" x2="314.90" y2="0"><stop offset="0.0000" stop-color="#4c00a0"/><stop offset="0.0019" stop-color="#4c00a0"/><stop offset="0.0038" stop-color="#7b008c"/><stop offset="0.0056" stop-color="#310038"/><stop offset="0.0940" stop-color="#310038"/><stop offset="0.1034" stop-color="#2c0032"/><stop offset="0.1842" stop-color="#2c0032"/><stop offset="0.1955" stop-color="#3e0047"/><stop offset="0.1974" stop-color="#480052"/><stop offset="0.2049" stop-color="#79008a"/><stop offset="0.2124" stop-color="#860097"/><stop offset="0.2218" stop-color="#870099"/><stop offset="0.2237" stop-color="#80009a"/><stop offset="0.2274" stop-color="#57009f"/><stop offset="0.2312" stop-color="#0000ab"/><stop offset="0.2368" stop-color="#0000d1"/><stop offset="0.2406" stop-color="#0000dc"/><stop offset="0.2425" stop-color="#0007dd"/><stop offset="0.2462" stop-color="#0017dd"/><stop offset="0.2538" stop-color="#001fdd"/><stop offset="0.2669" stop-color="#000ddd"/><stop offset="0.2744" stop-color="#000bdd"/><stop offset="0.2801" stop-color="#0000dc"/><stop offset="0.2932" stop-color="#0000d9"/><stop offset="0.2951" stop-color="#0000dd"/><stop offset="0.2989" stop-color="#0018dd"/><stop offset="0.3008" stop-color="#001bdd"/><stop offset="0.3120" stop-color="#001add"/><stop offset="0.3195" stop-color="#0000dd"/><stop offset="0.3233" stop-color="#0000d9"/><stop offset="0.3534" stop-color="#0000dd"/><stop offset="0.4117" stop-color="#0010dd"/><stop offset="0.4135" stop-color="#0012dd"/><stop offset="0.4154" stop-color="#0022dd"/><stop offset="0.4173" stop-color="#0090dd"/><stop offset="0.4192" stop-color="#0099dd"/><stop offset="0.4211" stop-color="#0099dd"/><stop offset="0.4229" stop-color="#007fdd"/><stop offset="0.4248" stop-color="#006fdd"/><stop offset="0.4267" stop-color="#0078dd"/><stop offset="0.4549" stop-color="#0087dd"/><stop offset="0.4962" stop-color="#0099dd"/><stop offset="0.5188" stop-color="#009dd2"/><stop offset="0.5357" stop-color="#0099dd"/><stop offset="0.5489" stop-color="#0093dd"/><stop offset="0.5808" stop-color="#0077dd"/><stop offset="0.5977" stop-color="#004bdd"/><stop offset="0.6222" stop-color="#0000dd"/><stop offset="0.6729" stop-color="#0000ab"/><stop offset="0.6748" stop-color="#0500a9"/><stop offset="0.6842" stop-color="#3200a4"/><stop offset="0.6955" stop-color="#6e009c"/><stop offset="0.7030" stop-color="#880099"/><stop offset="0.7425" stop-color="#870098"/><stop offset="0.7444" stop-color="#0040dd"/><stop offset="0.7462" stop-color="#0092dd"/><stop offset="0.7500" stop-color="#0092dd"/><stop offset="0.7519" stop-color="#0000db"/><stop offset="0.7538" stop-color="#880099"/><stop offset="0.7575" stop-color="#880099"/><stop offset="0.7594" stop-color="#4e00a0"/><stop offset="0.7613" stop-color="#0000ce"/><stop offset="0.7838" stop-color="#0000cc"/><stop offset="0.7857" stop-color="#007edd"/><stop offset="0.7876" stop-color="#007edd"/><stop offset="0.7895" stop-color="#0000cf"/><stop offset="0.7914" stop-color="#3600a3"/><stop offset="0.7951" stop-color="#3600a3"/><stop offset="0.7970" stop-color="#0000b7"/><stop offset="0.7989" stop-color="#0092dd"/><stop offset="0.8045" stop-color="#0092dd"/><stop offset="0.8064" stop-color="#0000c2"/><stop offset="0.8083" stop-color="#0000b9"/><stop offset="0.8102" stop-color="#2d00a4"/><stop offset="0.8120" stop-color="#4400a2"/><stop offset="0.8139" stop-color="#1f00a6"/><stop offset="0.8158" stop-color="#0000b9"/><stop offset="0.8177" stop-color="#5f009e"/><stop offset="0.8195" stop-color="#4900a1"/><stop offset="0.8214" stop-color="#0000b9"/><stop offset="0.8233" stop-color="#7d009a"/><stop offset="0.8252" stop-color="#6d009c"/><stop offset="0.8289" stop-color="#6d009c"/><stop offset="0.8308" stop-color="#7a008b"/><stop offset="0.8346" stop-color="#770088"/><stop offset="0.8402" stop-color="#6c007c"/><stop offset="0.8496" stop-color="#630071"/><stop offset="0.8684" stop-color="#570063"/><stop offset="1.0000" stop-color="#300037"/></linearGradient><linearGradient id="a15" gradientUnits="userSpaceOnUse" x1="48.85" y1="0" x2="314.90" y2="0"><stop offset="0.0000" stop-color="#4c00a0"/><stop offset="0.0019" stop-color="#4c00a0"/><stop offset="0.0038" stop-color="#7b008c"/><stop offset="0.0056" stop-color="#310038"/><stop offset="0.0940" stop-color="#310038"/><stop offset="0.1034" stop-color="#2c0032"/><stop offset="0.1842" stop-color="#2c0032"/><stop offset="0.1955" stop-color="#3e0047"/><stop offset="0.1974" stop-color="#480052"/><stop offset="0.2049" stop-color="#79008a"/><stop offset="0.2124" stop-color="#860097"/><stop offset="0.2218" stop-color="#880099"/><stop offset="0.2237" stop-color="#80009a"/><stop offset="0.2274" stop-color="#57009f"/><stop offset="0.2312" stop-color="#0000ab"/><stop offset="0.2368" stop-color="#0000d1"/><stop offset="0.2406" stop-color="#0000dc"/><stop offset="0.2425" stop-color="#0007dd"/><stop offset="0.2462" stop-color="#0017dd"/><stop offset="0.2519" stop-color="#001fdd"/><stop offset="0.2575" stop-color="#001cdd"/><stop offset="0.2688" stop-color="#0008dd"/><stop offset="0.2744" stop-color="#0008dd"/><stop offset="0.2782" stop-color="#0000dd"/><stop offset="0.2838" stop-color="#0000d8"/><stop offset="0.2932" stop-color="#0000d8"/><stop offset="0.2951" stop-color="#0000dc"/><stop offset="0.2989" stop-color="#0016dd"/><stop offset="0.3008" stop-color="#0019dd"/><stop offset="0.3120" stop-color="#0019dd"/><stop offset="0.3195" stop-color="#0000dc"/><stop offset="0.3233" stop-color="#0000d9"/><stop offset="0.3553" stop-color="#0000dd"/><stop offset="0.4117" stop-color="#000fdd"/><stop offset="0.4135" stop-color="#0012dd"/><stop offset="0.4154" stop-color="#0021dd"/><stop offset="0.4173" stop-color="#0090dd"/><stop offset="0.4192" stop-color="#0099dd"/><stop offset="0.4211" stop-color="#0099dd"/><stop offset="0.4229" stop-color="#007fdd"/><stop offset="0.4248" stop-color="#006edd"/><stop offset="0.4267" stop-color="#0078dd"/><stop offset="0.4549" stop-color="#0087dd"/><stop offset="0.4981" stop-color="#0099dd"/><stop offset="0.5188" stop-color="#009cd3"/><stop offset="0.5357" stop-color="#0099dd"/><stop offset="0.5489" stop-color="#0093dd"/><stop offset="0.5808" stop-color="#0076dd"/><stop offset="0.5977" stop-color="#004add"/><stop offset="0.6203" stop-color="#0003dd"/><stop offset="0.6222" stop-color="#0000dc"/><stop offset="0.6729" stop-color="#0000ab"/><stop offset="0.6748" stop-color="#0600a9"/><stop offset="0.6842" stop-color="#3300a4"/><stop offset="0.6955" stop-color="#6f009c"/><stop offset="0.7030" stop-color="#880099"/><stop offset="0.7425" stop-color="#870098"/><stop offset="0.7444" stop-color="#0040dd"/><stop offset="0.7462" stop-color="#0092dd"/><stop offset="0.7500" stop-color="#0092dd"/><stop offset="0.7519" stop-color="#0000db"/><stop offset="0.7538" stop-color="#880099"/><stop offset="0.7575" stop-color="#880099"/><stop offset="0.7594" stop-color="#4e00a0"/><stop offset="0.7613" stop-color="#0000ce"/><stop offset="0.7838" stop-color="#0000cc"/><stop offset="0.7857" stop-color="#007edd"/><stop offset="0.7876" stop-color="#007edd"/><stop offset="0.7895" stop-color="#0000cf"/><stop offset="0.7914" stop-color="#3600a3"/><stop offset="0.7951" stop-color="#3600a3"/><stop offset="0.7970" stop-color="#0000b7"/><stop offset="0.7989" stop-color="#0092dd"/><stop offset="0.8045" stop-color="#0092dd"/><stop offset="0.8064" stop-color="#0000c2"/><stop offset="0.8083" stop-color="#0000b9"/><stop offset="0.8102" stop-color="#2d00a4"/><stop offset="0.8120" stop-color="#4400a2"/><stop offset="0.8139" stop-color="#1f00a6"/><stop offset="0.8158" stop-color="#0000b9"/><stop offset="0.8177" stop-color="#5f009e"/><stop offset="0.8195" stop-color="#4a00a1"/><stop offset="0.8214" stop-color="#0000b9"/><stop offset="0.8233" stop-color="#7d009a"/><stop offset="0.8252" stop-color="#6d009c"/><stop offset="0.8289" stop-color="#6d009c"/><stop offset="0.8308" stop-color="#7a008b"/><stop offset="0.8346" stop-color="#770088"/><stop offset="0.8402" stop-color="#6c007c"/><stop offset="0.8496" stop-color="#630071"/><stop offset="0.8684" stop-color="#570063"/><stop offset="1.0000" stop-color="#300037"/></linearGradient><linearGradient id="a16" gradientUnits="userSpaceOnUse" x1="48.85" y1="0" x2="314.90" y2="0"><stop offset="0.0000" stop-color="#4c00a0"/><stop offset="0.0019" stop-color="#4c00a0"/><stop offset="0.0038" stop-color="#7b008c"/><stop offset="0.0056" stop-color="#310038"/><stop offset="0.0940" stop-color="#310038"/><stop offset="0.1034" stop-color="#2c0032"/><stop offset="0.1842" stop-color="#2c0032"/><stop offset="0.1955" stop-color="#3e0047"/><stop offset="0.2049" stop-color="#79008a"/><stop offset="0.2124" stop-color="#860097"/><stop offset="0.2199" stop-color="#870099"/><stop offset="0.2218" stop-color="#850099"/><stop offset="0.2237" stop-color="#7d009a"/><stop offset="0.2274" stop-color="#54009f"/><stop offset="0.2312" stop-color="#0000ac"/><stop offset="0.2368" stop-color="#0000d3"/><stop offset="0.2406" stop-color="#0000db"/><stop offset="0.2425" stop-color="#0004dd"/><stop offset="0.2462" stop-color="#000fdd"/><stop offset="0.2669" stop-color="#001ddd"/><stop offset="0.2744" stop-color="#0025dd"/><stop offset="0.2820" stop-color="#0017dd"/><stop offset="0.2932" stop-color="#000fdd"/><stop offset="0.2989" stop-color="#002add"/><stop offset="0.3008" stop-color="#002bdd"/><stop offset="0.3120" stop-color="#0020dd"/><stop offset="0.3195" stop-color="#0003dd"/><stop offset="0.3214" stop-color="#0000db"/><stop offset="0.3383" stop-color="#0000dd"/><stop offset="0.4117" stop-color="#0014dd"/><stop offset="0.4135" stop-color="#0017dd"/><stop offset="0.4154" stop-color="#0026dd"/><stop offset="0.4173" stop-color="#0091dd"/><stop offset="0.4192" stop-color="#0099dd"/><stop offset="0.4211" stop-color="#0099dd"/><stop offset="0.4229" stop-color="#0080dd"/><stop offset="0.4248" stop-color="#0074dd"/><stop offset="0.4267" stop-color="#007add"/><stop offset="0.4906" stop-color="#0099dd"/><stop offset="0.5188" stop-color="#009ecf"/><stop offset="0.5395" stop-color="#0099dd"/><stop offset="0.5489" stop-color="#0095dd"/><stop offset="0.5827" stop-color="#0077dd"/><stop offset="0.5977" stop-color="#0050dd"/><stop offset="0.6203" stop-color="#0008dd"/><stop offset="0.6241" stop-color="#0000dd"/><stop offset="0.6748" stop-color="#0100aa"/><stop offset="0.6955" stop-color="#6c009d"/><stop offset="0.7030" stop-color="#880099"/><stop offset="0.7425" stop-color="#870098"/><stop offset="0.7444" stop-color="#0040dd"/><stop offset="0.7462" stop-color="#0092dd"/><stop offset="0.7500" stop-color="#0092dd"/><stop offset="0.7519" stop-color="#0000db"/><stop offset="0.7538" stop-color="#880099"/><stop offset="0.7575" stop-color="#880099"/><stop offset="0.7594" stop-color="#4e00a0"/><stop offset="0.7613" stop-color="#0000ce"/><stop offset="0.7838" stop-color="#0000cc"/><stop offset="0.7857" stop-color="#007edd"/><stop offset="0.7876" stop-color="#007edd"/><stop offset="0.7895" stop-color="#0000cf"/><stop offset="0.7914" stop-color="#3600a3"/><stop offset="0.7951" stop-color="#3600a3"/><stop offset="0.7970" stop-color="#0000b7"/><stop offset="0.7989" stop-color="#0092dd"/><stop offset="0.8045" stop-color="#0092dd"/><stop offset="0.8064" stop-color="#0000c2"/><stop offset="0.8083" stop-color="#0000b9"/><stop offset="0.8102" stop-color="#2f00a4"/><stop offset="0.8120" stop-color="#4400a2"/><stop offset="0.8139" stop-color="#2100a6"/><stop offset="0.8158" stop-color="#0000b9"/><stop offset="0.8177" stop-color="#61009e"/><stop offset="0.8195" stop-color="#4b00a1"/><stop offset="0.8214" stop-color="#0000b9"/><stop offset="0.8233" stop-color="#7e009a"/><stop offset="0.8252" stop-color="#6d009c"/><stop offset="0.8289" stop-color="#6d009c"/><stop offset="0.8308" stop-color="#79008a"/><stop offset="0.8383" stop-color="#690077"/><stop offset="0.8496" stop-color="#5e006c"/><stop offset="0.8684" stop-color="#550061"/><stop offset="0.9060" stop-color="#4d0058"/><stop offset="1.0000" stop-color="#300037"/></linearGradient><linearGradient id="a17" gradientUnits="userSpaceOnUse" x1="48.85" y1="0" x2="314.90" y2="0"><stop offset="0.0000" stop-color="#4c00a0"/><stop offset="0.0019" stop-color="#4c00a0"/><stop offset="0.0038" stop-color="#7b008c"/><stop offset="0.0056" stop-color="#310038"/><stop offset="0.0940" stop-color="#310038"/><stop offset="0.1034" stop-color="#2c0032"/><stop offset="0.1842" stop-color="#2c0032"/><stop offset="0.1955" stop-color="#3f0047"/><stop offset="0.2049" stop-color="#79008a"/><stop offset="0.2086" stop-color="#820093"/><stop offset="0.2162" stop-color="#880099"/><stop offset="0.2218" stop-color="#83009a"/><stop offset="0.2237" stop-color="#7b009b"/><stop offset="0.2274" stop-color="#5200a0"/><stop offset="0.2293" stop-color="#2600a5"/><stop offset="0.2312" stop-color="#0000ad"/><stop offset="0.2368" stop-color="#0000d4"/><stop offset="0.2425" stop-color="#0002dd"/><stop offset="0.2444" stop-color="#0008dd"/><stop offset="0.2556" stop-color="#0012dd"/><stop offset="0.2744" stop-color="#003add"/><stop offset="0.2932" stop-color="#0022dd"/><stop offset="0.2989" stop-color="#0038dd"/><stop offset="0.3008" stop-color="#0037dd"/><stop offset="0.3120" stop-color="#0024dd"/><stop offset="0.3214" stop-color="#0000dd"/><stop offset="0.4117" stop-color="#0018dd"/><stop offset="0.4135" stop-color="#001bdd"/><stop offset="0.4154" stop-color="#002add"/><stop offset="0.4173" stop-color="#0091dd"/><stop offset="0.4192" stop-color="#0099dd"/><stop offset="0.4211" stop-color="#0099dd"/><stop offset="0.4229" stop-color="#0081dd"/><stop offset="0.4248" stop-color="#0078dd"/><stop offset="0.4549" stop-color="#008add"/><stop offset="0.4868" stop-color="#0099dd"/><stop offset="0.5188" stop-color="#009ecd"/><stop offset="0.5432" stop-color="#0099dd"/><stop offset="0.5846" stop-color="#0077dd"/><stop offset="0.5977" stop-color="#0054dd"/><stop offset="0.6203" stop-color="#000bdd"/><stop offset="0.6259" stop-color="#0000dc"/><stop offset="0.6748" stop-color="#0000ab"/><stop offset="0.6842" stop-color="#2d00a4"/><stop offset="0.6955" stop-color="#6a009d"/><stop offset="0.7030" stop-color="#860099"/><stop offset="0.7425" stop-color="#870098"/><stop offset="0.7444" stop-color="#0041dd"/><stop offset="0.7462" stop-color="#0092dd"/><stop offset="0.7500" stop-color="#0092dd"/><stop offset="0.7519" stop-color="#0000db"/><stop offset="0.7538" stop-color="#880099"/><stop offset="0.7575" stop-color="#880099"/><stop offset="0.7594" stop-color="#4e00a0"/><stop offset="0.7613" stop-color="#0000ce"/><stop offset="0.7838" stop-color="#0000cc"/><stop offset="0.7857" stop-color="#007edd"/><stop offset="0.7876" stop-color="#007edd"/><stop offset="0.7895" stop-color="#0000cf"/><stop offset="0.7914" stop-color="#3600a3"/><stop offset="0.7951" stop-color="#3600a3"/><stop offset="0.7970" stop-color="#0000b6"/><stop offset="0.7989" stop-color="#0092dd"/><stop offset="0.8045" stop-color="#0092dd"/><stop offset="0.8064" stop-color="#0000c1"/><stop offset="0.8083" stop-color="#0000b9"/><stop offset="0.8102" stop-color="#3000a4"/><stop offset="0.8120" stop-color="#4400a2"/><stop offset="0.8139" stop-color="#2200a6"/><stop offset="0.8158" stop-color="#0000b9"/><stop offset="0.8177" stop-color="#62009e"/><stop offset="0.8195" stop-color="#4c00a0"/><stop offset="0.8214" stop-color="#0000b9"/><stop offset="0.8233" stop-color="#80009a"/><stop offset="0.8252" stop-color="#6d009c"/><stop offset="0.8289" stop-color="#6d009c"/><stop offset="0.8308" stop-color="#79008a"/><stop offset="0.8327" stop-color="#6f007e"/><stop offset="0.8383" stop-color="#640072"/><stop offset="0.8496" stop-color="#5a0067"/><stop offset="0.8684" stop-color="#53005f"/><stop offset="0.9060" stop-color="#4d0058"/><stop offset="1.0000" stop-color="#300037"/></linearGradient><linearGradient id="a18" gradientUnits="userSpaceOnUse" x1="48.85" y1="0" x2="314.90" y2="0"><stop offset="0.0000" stop-color="#4c00a0"/><stop offset="0.0019" stop-color="#4c00a0"/><stop offset="0.0038" stop-color="#7b008c"/><stop offset="0.0056" stop-color="#310038"/><stop offset="0.0940" stop-color="#310038"/><stop offset="0.1034" stop-color="#2c0032"/><stop offset="0.1842" stop-color="#2c0032"/><stop offset="0.1955" stop-color="#3e0047"/><stop offset="0.1974" stop-color="#480052"/><stop offset="0.2049" stop-color="#79008a"/><stop offset="0.2124" stop-color="#860097"/><stop offset="0.2218" stop-color="#870099"/><stop offset="0.2237" stop-color="#7f009a"/><stop offset="0.2274" stop-color="#56009f"/><stop offset="0.2312" stop-color="#0000ab"/><stop offset="0.2368" stop-color="#0000d1"/><stop offset="0.2444" stop-color="#0001dd"/><stop offset="0.2744" stop-color="#0010dd"/><stop offset="0.2820" stop-color="#0000dd"/><stop offset="0.2932" stop-color="#0000dc"/><stop offset="0.2951" stop-color="#0005dd"/><stop offset="0.2989" stop-color="#001bdd"/><stop offset="0.3008" stop-color="#001edd"/><stop offset="0.3120" stop-color="#001bdd"/><stop offset="0.3195" stop-color="#0000dd"/><stop offset="0.3233" stop-color="#0000d9"/><stop offset="0.3515" stop-color="#0000dd"/><stop offset="0.4117" stop-color="#0011dd"/><stop offset="0.4135" stop-color="#0013dd"/><stop offset="0.4154" stop-color="#0023dd"/><stop offset="0.4173" stop-color="#0091dd"/><stop offset="0.4192" stop-color="#0099dd"/><stop offset="0.4211" stop-color="#0099dd"/><stop offset="0.4229" stop-color="#007fdd"/><stop offset="0.4248" stop-color="#0070dd"/><stop offset="0.4267" stop-color="#0078dd"/><stop offset="0.4549" stop-color="#0087dd"/><stop offset="0.4962" stop-color="#0099dd"/><stop offset="0.5188" stop-color="#009dd2"/><stop offset="0.5357" stop-color="#0099dd"/><stop offset="0.5489" stop-color="#0093dd"/><stop offset="0.5808" stop-color="#0077dd"/><stop offset="0.5977" stop-color="#004bdd"/><stop offset="0.6222" stop-color="#0000dd"/><stop offset="0.6729" stop-color="#0000ab"/><stop offset="0.6748" stop-color="#0400a9"/><stop offset="0.6842" stop-color="#3200a4"/><stop offset="0.6955" stop-color="#6e009c"/><stop offset="0.7030" stop-color="#880099"/><stop offset="0.7425" stop-color="#870098"/><stop offset="0.7444" stop-color="#0040dd"/><stop offset="0.7462" stop-color="#0092dd"/><stop offset="0.7500" stop-color="#0092dd"/><stop offset="0.7519" stop-color="#0000db"/><stop offset="0.7538" stop-color="#880099"/><stop offset="0.7575" stop-color="#880099"/><stop offset="0.7594" stop-color="#4f00a0"/><stop offset="0.7613" stop-color="#0000ce"/><stop offset="0.7838" stop-color="#0000cc"/><stop offset="0.7857" stop-color="#007edd"/><stop offset="0.7876" stop-color="#007edd"/><stop offset="0.7895" stop-color="#0000ce"/><stop offset="0.7914" stop-color="#3600a3"/><stop offset="0.7951" stop-color="#3600a3"/><stop offset="0.7970" stop-color="#0000b6"/><stop offset="0.7989" stop-color="#0092dd"/><stop offset="0.8045" stop-color="#0092dd"/><stop offset="0.8064" stop-color="#0000c1"/><stop offset="0.8083" stop-color="#0000b9"/><stop offset="0.8102" stop-color="#3000a4"/><stop offset="0.8120" stop-color="#4400a2"/><stop offset="0.8139" stop-color="#2200a6"/><stop offset="0.8158" stop-color="#0000b9"/><stop offset="0.8177" stop-color="#62009e"/><stop offset="0.8195" stop-color="#4c00a0"/><stop offset="0.8214" stop-color="#0000b9"/><stop offset="0.8233" stop-color="#80009a"/><stop offset="0.8252" stop-color="#6d009c"/><stop offset="0.8289" stop-color="#6d009c"/><stop offset="0.8308" stop-color="#79008a"/><stop offset="0.8327" stop-color="#6e007d"/><stop offset="0.8383" stop-color="#630071"/><stop offset="0.8496" stop-color="#5a0067"/><stop offset="0.8684" stop-color="#53005e"/><stop offset="0.9060" stop-color="#4c0057"/><stop offset="1.0000" stop-color="#300037"/></linearGradient><linearGradient id="a19" gradientUnits="userSpaceOnUse" x1="48.85" y1="0" x2="314.90" y2="0"><stop offset="0.0000" stop-color="#4c00a0"/><stop offset="0.0019" stop-color="#4c00a0"/><stop offset="0.0038" stop-color="#7b008c"/><stop offset="0.0056" stop-color="#310038"/><stop offset="0.0940" stop-color="#310038"/><stop offset="0.1034" stop-color="#2c0032"/><stop offset="0.1842" stop-color="#2c0032"/><stop offset="0.1955" stop-color="#3e0047"/><stop offset="0.1974" stop-color="#480052"/><stop offset="0.2049" stop-color="#79008a"/><stop offset="0.2124" stop-color="#860097"/><stop offset="0.2218" stop-color="#880099"/><stop offset="0.2237" stop-color="#80009a"/><stop offset="0.2274" stop-color="#57009f"/><stop offset="0.2312" stop-color="#0000ab"/><stop offset="0.2368" stop-color="#0000d0"/><stop offset="0.2444" stop-color="#0000dd"/><stop offset="0.2744" stop-color="#0008dd"/><stop offset="0.2782" stop-color="#0000dd"/><stop offset="0.2838" stop-color="#0000d8"/><stop offset="0.2932" stop-color="#0000d8"/><stop offset="0.2951" stop-color="#0000dc"/><stop offset="0.2989" stop-color="#0016dd"/><stop offset="0.3008" stop-color="#0019dd"/><stop offset="0.3120" stop-color="#0019dd"/><stop offset="0.3195" stop-color="#0000dc"/><stop offset="0.3233" stop-color="#0000d9"/><stop offset="0.3553" stop-color="#0000dd"/><stop offset="0.4117" stop-color="#000fdd"/><stop offset="0.4135" stop-color="#0012dd"/><stop offset="0.4154" stop-color="#0021dd"/><stop offset="0.4173" stop-color="#0090dd"/><stop offset="0.4192" stop-color="#0099dd"/><stop offset="0.4211" stop-color="#0099dd"/><stop offset="0.4229" stop-color="#007fdd"/><stop offset="0.4248" stop-color="#006edd"/><stop offset="0.4267" stop-color="#0078dd"/><stop offset="0.4549" stop-color="#0087dd"/><stop offset="0.4981" stop-color="#0099dd"/><stop offset="0.5188" stop-color="#009cd3"/><stop offset="0.5357" stop-color="#0099dd"/><stop offset="0.5489" stop-color="#0093dd"/><stop offset="0.5808" stop-color="#0076dd"/><stop offset="0.5977" stop-color="#004add"/><stop offset="0.6203" stop-color="#0003dd"/><stop offset="0.6222" stop-color="#0000dc"/><stop offset="0.6729" stop-color="#0000ab"/><stop offset="0.6748" stop-color="#0600a9"/><stop offset="0.6842" stop-color="#3300a4"/><stop offset="0.6955" stop-color="#6f009c"/><stop offset="0.7030" stop-color="#880099"/><stop offset="0.7425" stop-color="#870098"/><stop offset="0.7444" stop-color="#0040dd"/><stop offset="0.7462" stop-color="#0092dd"/><stop offset="0.7500" stop-color="#0092dd"/><stop offset="0.7519" stop-color="#0000db"/><stop offset="0.7538" stop-color="#880099"/><stop offset="0.7575" stop-color="#880099"/><stop offset="0.7594" stop-color="#4f00a0"/><stop offset="0.7613" stop-color="#0000ce"/><stop offset="0.7838" stop-color="#0000cc"/><stop offset="0.7857" stop-color="#007edd"/><stop offset="0.7876" stop-color="#007edd"/><stop offset="0.7895" stop-color="#0000ce"/><stop offset="0.7914" stop-color="#3600a3"/><stop offset="0.7951" stop-color="#3600a3"/><stop offset="0.7970" stop-color="#0000b6"/><stop offset="0.7989" stop-color="#0092dd"/><stop offset="0.8045" stop-color="#0092dd"/><stop offset="0.8064" stop-color="#0000c1"/><stop offset="0.8083" stop-color="#0000b9"/><stop offset="0.8102" stop-color="#3000a4"/><stop offset="0.8120" stop-color="#4400a2"/><stop offset="0.8139" stop-color="#2200a6"/><stop offset="0.8158" stop-color="#0000b9"/><stop offset="0.8177" stop-color="#62009e"/><stop offset="0.8195" stop-color="#4d00a0"/><stop offset="0.8214" stop-color="#0000b9"/><stop offset="0.8233" stop-color="#80009a"/><stop offset="0.8252" stop-color="#6d009c"/><stop offset="0.8289" stop-color="#6d009c"/><stop offset="0.8308" stop-color="#79008a"/><stop offset="0.8327" stop-color="#6d007d"/><stop offset="0.8383" stop-color="#630071"/><stop offset="0.8496" stop-color="#5a0066"/><stop offset="0.8684" stop-color="#52005e"/><stop offset="0.9060" stop-color="#4c0057"/><stop offset="1.0000" stop-color="#300037"/></linearGradient><linearGradient id="a20" gradientUnits="userSpaceOnUse" x1="48.85" y1="0" x2="314.90" y2="0"><stop offset="0.0000" stop-color="#4c00a0"/><stop offset="0.0019" stop-color="#4c00a0"/><stop offset="0.0038" stop-color="#7b008c"/><stop offset="0.0056" stop-color="#310038"/><stop offset="0.0940" stop-color="#310038"/><stop offset="0.1034" stop-color="#2c0032"/><stop offset="0.1842" stop-color="#2c0032"/><stop offset="0.1955" stop-color="#3e0047"/><stop offset="0.2049" stop-color="#79008a"/><stop offset="0.2124" stop-color="#860097"/><stop offset="0.2199" stop-color="#870099"/><stop offset="0.2218" stop-color="#850099"/><stop offset="0.2237" stop-color="#7e009a"/><stop offset="0.2274" stop-color="#55009f"/><stop offset="0.2312" stop-color="#0000ac"/><stop offset="0.2368" stop-color="#0000d2"/><stop offset="0.2425" stop-color="#0000dc"/><stop offset="0.2444" stop-color="#0004dd"/><stop offset="0.2744" stop-color="#000ddd"/><stop offset="0.2801" stop-color="#0000dd"/><stop offset="0.2932" stop-color="#0000da"/><stop offset="0.2951" stop-color="#0002dd"/><stop offset="0.2989" stop-color="#001add"/><stop offset="0.3008" stop-color="#001edd"/><stop offset="0.3120" stop-color="#001edd"/><stop offset="0.3195" stop-color="#0003dd"/><stop offset="0.3214" stop-color="#0000db"/><stop offset="0.3402" stop-color="#0000dd"/><stop offset="0.4117" stop-color="#0014dd"/><stop offset="0.4135" stop-color="#0016dd"/><stop offset="0.4154" stop-color="#0026dd"/><stop offset="0.4173" stop-color="#0091dd"/><stop offset="0.4192" stop-color="#0099dd"/><stop offset="0.4211" stop-color="#0099dd"/><stop offset="0.4229" stop-color="#0080dd"/><stop offset="0.4248" stop-color="#0073dd"/><stop offset="0.4267" stop-color="#0079dd"/><stop offset="0.4906" stop-color="#0099dd"/><stop offset="0.5188" stop-color="#009fca"/><stop offset="0.5414" stop-color="#0099dd"/><stop offset="0.5827" stop-color="#0077dd"/><stop offset="0.5977" stop-color="#004fdd"/><stop offset="0.6203" stop-color="#0007dd"/><stop offset="0.6241" stop-color="#0000dc"/><stop offset="0.6748" stop-color="#0200aa"/><stop offset="0.6955" stop-color="#6c009c"/><stop offset="0.7030" stop-color="#880099"/><stop offset="0.7425" stop-color="#870098"/><stop offset="0.7444" stop-color="#0040dd"/><stop offset="0.7462" stop-color="#0092dd"/><stop offset="0.7500" stop-color="#0092dd"/><stop offset="0.7519" stop-color="#0000db"/><stop offset="0.7538" stop-color="#880099"/><stop offset="0.7575" stop-color="#880099"/><stop offset="0.7594" stop-color="#4f00a0"/><stop offset="0.7613" stop-color="#0000ce"/><stop offset="0.7838" stop-color="#0000cc"/><stop offset="0.7857" stop-color="#007edd"/><stop offset="0.7876" stop-color="#007edd"/><stop offset="0.7895" stop-color="#0000ce"/><stop offset="0.7914" stop-color="#3600a3"/><stop offset="0.7951" stop-color="#3600a3"/><stop offset="0.7970" stop-color="#0000b6"/><stop offset="0.7989" stop-color="#0092dd"/><stop offset="0.8045" stop-color="#0092dd"/><stop offset="0.8064" stop-color="#0000c1"/><stop offset="0.8083" stop-color="#0000b9"/><stop offset="0.8102" stop-color="#3000a4"/><stop offset="0.8120" stop-color="#4400a2"/><stop offset="0.8139" stop-color="#2200a6"/><stop offset="0.8158" stop-color="#0000b9"/><stop offset="0.8177" stop-color="#62009e"/><stop offset="0.8195" stop-color="#4c00a0"/><stop offset="0.8214" stop-color="#0000b9"/><stop offset="0.8233" stop-color="#80009a"/><stop offset="0.8252" stop-color="#6d009c"/><stop offset="0.8289" stop-color="#6d009c"/><stop offset="0.8308" stop-color="#79008a"/><stop offset="0.8327" stop-color="#6e007e"/><stop offset="0.8383" stop-color="#640072"/><stop offset="0.8496" stop-color="#5a0067"/><stop offset="0.8684" stop-color="#53005f"/><stop offset="0.9060" stop-color="#4d0057"/><stop offset="1.0000" stop-color="#300037"/></linearGradient><linearGradient id="a21" gradientUnits="userSpaceOnUse" x1="48.85" y1="0" x2="314.90" y2="0"><stop offset="0.0000" stop-color="#4c00a0"/><stop offset="0.0019" stop-color="#4c00a0"/><stop offset="0.0038" stop-color="#7b008c"/><stop offset="0.0056" stop-color="#310038"/><stop offset="0.0940" stop-color="#310038"/><stop offset="0.1034" stop-color="#2c0032"/><stop offset="0.1842" stop-color="#2c0032"/><stop offset="0.1955" stop-color="#3f0048"/><stop offset="0.2049" stop-color="#79008a"/><stop offset="0.2124" stop-color="#870098"/><stop offset="0.2218" stop-color="#7f009a"/><stop offset="0.2237" stop-color="#77009b"/><stop offset="0.2274" stop-color="#4c00a0"/><stop offset="0.2293" stop-color="#1f00a6"/><stop offset="0.2312" stop-color="#0000b0"/><stop offset="0.2368" stop-color="#0000d7"/><stop offset="0.2406" stop-color="#0004dd"/><stop offset="0.2444" stop-color="#0011dd"/><stop offset="0.2462" stop-color="#0013dd"/><stop offset="0.2744" stop-color="#001add"/><stop offset="0.2820" stop-color="#0007dd"/><stop offset="0.2932" stop-color="#0006dd"/><stop offset="0.2989" stop-color="#0028dd"/><stop offset="0.3008" stop-color="#002bdd"/><stop offset="0.3120" stop-color="#002bdd"/><stop offset="0.3214" stop-color="#0008dd"/><stop offset="0.3233" stop-color="#0007dd"/><stop offset="0.4117" stop-color="#0021dd"/><stop offset="0.4135" stop-color="#0024dd"/><stop offset="0.4154" stop-color="#0034dd"/><stop offset="0.4173" stop-color="#0091dd"/><stop offset="0.4192" stop-color="#0099dd"/><stop offset="0.4211" stop-color="#0099dd"/><stop offset="0.4229" stop-color="#0083dd"/><stop offset="0.4248" stop-color="#007bdd"/><stop offset="0.4793" stop-color="#0099dd"/><stop offset="0.5188" stop-color="#00a7b2"/><stop offset="0.5282" stop-color="#00a4bb"/><stop offset="0.5508" stop-color="#0099dc"/><stop offset="0.5677" stop-color="#0087dd"/><stop offset="0.5883" stop-color="#0077dd"/><stop offset="0.5977" stop-color="#005edd"/><stop offset="0.6203" stop-color="#0014dd"/><stop offset="0.6297" stop-color="#0000dd"/><stop offset="0.6767" stop-color="#0100aa"/><stop offset="0.6955" stop-color="#65009d"/><stop offset="0.7030" stop-color="#82009a"/><stop offset="0.7425" stop-color="#880099"/><stop offset="0.7444" stop-color="#0042dd"/><stop offset="0.7462" stop-color="#0092dd"/><stop offset="0.7500" stop-color="#0092dd"/><stop offset="0.7519" stop-color="#0000dc"/><stop offset="0.7538" stop-color="#880099"/><stop offset="0.7575" stop-color="#880099"/><stop offset="0.7594" stop-color="#4e00a0"/><stop offset="0.7613" stop-color="#0000ce"/><stop offset="0.7838" stop-color="#0000cc"/><stop offset="0.7857" stop-color="#007edd"/><stop offset="0.7876" stop-color="#007edd"/><stop offset="0.7895" stop-color="#0000cf"/><stop offset="0.7914" stop-color="#3600a3"/><stop offset="0.7951" stop-color="#3600a3"/><stop offset="0.7970" stop-color="#0000b7"/><stop offset="0.7989" stop-color="#0092dd"/><stop offset="0.8045" stop-color="#0092dd"/><stop offset="0.8064" stop-color="#0000c2"/><stop offset="0.8083" stop-color="#0000b9"/><stop offset="0.8102" stop-color="#2f00a4"/><stop offset="0.8120" stop-color="#4400a2"/><stop offset="0.8139" stop-color="#2100a6"/><stop offset="0.8158" stop-color="#0000b9"/><stop offset="0.8177" stop-color="#62009e"/><stop offset="0.8195" stop-color="#4c00a1"/><stop offset="0.8214" stop-color="#0000b9"/><stop offset="0.8233" stop-color="#7f009a"/><stop offset="0.8252" stop-color="#6d009c"/><stop offset="0.8289" stop-color="#6d009c"/><stop offset="0.8308" stop-color="#79008a"/><stop offset="0.8327" stop-color="#700080"/><stop offset="0.8383" stop-color="#650074"/><stop offset="0.8496" stop-color="#5b0068"/><stop offset="0.8684" stop-color="#540060"/><stop offset="0.9060" stop-color="#4e0059"/><stop offset="1.0000" stop-color="#300037"/></linearGradient><linearGradient id="a22" gradientUnits="userSpaceOnUse" x1="48.85" y1="0" x2="314.90" y2="0"><stop offset="0.0000" stop-color="#4c00a0"/><stop offset="0.0019" stop-color="#4c00a0"/><stop offset="0.0038" stop-color="#7b008c"/><stop offset="0.0056" stop-color="#310038"/><stop offset="0.0940" stop-color="#310038"/><stop offset="0.1034" stop-color="#2c0032"/><stop offset="0.1842" stop-color="#2c0032"/><stop offset="0.1955" stop-color="#3f0048"/><stop offset="0.2049" stop-color="#79008a"/><stop offset="0.2124" stop-color="#870098"/><stop offset="0.2218" stop-color="#7f009a"/><stop offset="0.2237" stop-color="#77009b"/><stop offset="0.2274" stop-color="#4c00a0"/><stop offset="0.2293" stop-color="#1f00a6"/><stop offset="0.2312" stop-color="#0000b0"/><stop offset="0.2368" stop-color="#0000d7"/><stop offset="0.2406" stop-color="#0004dd"/><stop offset="0.2444" stop-color="#0011dd"/><stop offset="0.2462" stop-color="#0013dd"/><stop offset="0.2744" stop-color="#001add"/><stop offset="0.2820" stop-color="#0007dd"/><stop offset="0.2932" stop-color="#0006dd"/><stop offset="0.2989" stop-color="#0028dd"/><stop offset="0.3008" stop-color="#002bdd"/><stop offset="0.3120" stop-color="#002bdd"/><stop offset="0.3214" stop-color="#0008dd"/><stop offset="0.3233" stop-color="#0007dd"/><stop offset="0.4117" stop-color="#0021dd"/><stop offset="0.4135" stop-color="#0024dd"/><stop offset="0.4154" stop-color="#0034dd"/><stop offset="0.4173" stop-color="#009fcc"/><stop offset="0.4192" stop-color="#00a4bb"/><stop offset="0.4211" stop-color="#00a4bb"/><stop offset="0.4229" stop-color="#008bdd"/><stop offset="0.4248" stop-color="#007bdd"/><stop offset="0.4793" stop-color="#0099dd"/><stop offset="0.5188" stop-color="#00a7b2"/><stop offset="0.5282" stop-color="#00a4bb"/><stop offset="0.5508" stop-color="#0099dc"/><stop offset="0.5677" stop-color="#0087dd"/><stop offset="0.5883" stop-color="#0077dd"/><stop offset="0.5977" stop-color="#005edd"/><stop offset="0.6203" stop-color="#0014dd"/><stop offset="0.6297" stop-color="#0000dd"/><stop offset="0.6767" stop-color="#0100aa"/><stop offset="0.6955" stop-color="#65009d"/><stop offset="0.7030" stop-color="#82009a"/><stop offset="0.7425" stop-color="#880099"/><stop offset="0.7444" stop-color="#0042dd"/><stop offset="0.7462" stop-color="#0092dd"/><stop offset="0.7500" stop-color="#0092dd"/><stop offset="0.7519" stop-color="#0000dc"/><stop offset="0.7538" stop-color="#880099"/><stop offset="0.7575" stop-color="#880099"/><stop offset="0.7594" stop-color="#4e00a0"/><stop offset="0.7613" stop-color="#0000ce"/><stop offset="0.7838" stop-color="#0000cc"/><stop offset="0.7857" stop-color="#007edd"/><stop offset="0.7876" stop-color="#007edd"/><stop offset="0.7895" stop-color="#0000cf"/><stop offset="0.7914" stop-color="#3600a3"/><stop offset="0.7951" stop-color="#3600a3"/><stop offset="0.7970" stop-color="#0000b7"/><stop offset="0.7989" stop-color="#0092dd"/><stop offset="0.8045" stop-color="#0092dd"/><stop offset="0.8064" stop-color="#0000c2"/><stop offset="0.8083" stop-color="#0000b9"/><stop offset="0.8102" stop-color="#2f00a4"/><stop offset="0.8120" stop-color="#4400a2"/><stop offset="0.8139" stop-color="#2100a6"/><stop offset="0.8158" stop-color="#0000b9"/><stop offset="0.8177" stop-color="#62009e"/><stop offset="0.8195" stop-color="#4c00a1"/><stop offset="0.8214" stop-color="#0000b9"/><stop offset="0.8233" stop-color="#7f009a"/><stop offset="0.8252" stop-color="#6d009c"/><stop offset="0.8289" stop-color="#6d009c"/><stop offset="0.8308" stop-color="#79008a"/><stop offset="0.8327" stop-color="#700080"/><stop offset="0.8383" stop-color="#650074"/><stop offset="0.8496" stop-color="#5b0068"/><stop offset="0.8684" stop-color="#540060"/><stop offset="0.9060" stop-color="#4e0059"/><stop offset="1.0000" stop-color="#300037"/></linearGradient><linearGradient id="a23" gradientUnits="userSpaceOnUse" x1="48.85" y1="0" x2="314.90" y2="0"><stop offset="0.0000" stop-color="#4c00a0"/><stop offset="0.0019" stop-color="#4c00a0"/><stop offset="0.0038" stop-color="#7b008c"/><stop offset="0.0056" stop-color="#310038"/><stop offset="0.0940" stop-color="#310038"/><stop offset="0.1034" stop-color="#2c0032"/><stop offset="0.1842" stop-color="#2c0032"/><stop offset="0.1955" stop-color="#3f0048"/><stop offset="0.2049" stop-color="#79008a"/><stop offset="0.2124" stop-color="#870098"/><stop offset="0.2218" stop-color="#7f009a"/><stop offset="0.2237" stop-color="#77009b"/><stop offset="0.2274" stop-color="#4c00a0"/><stop offset="0.2293" stop-color="#1f00a6"/><stop offset="0.2312" stop-color="#0000b0"/><stop offset="0.2368" stop-color="#0000d7"/><stop offset="0.2387" stop-color="#0000dc"/><stop offset="0.2444" stop-color="#0011dd"/><stop offset="0.2462" stop-color="#0013dd"/><stop offset="0.2744" stop-color="#001add"/><stop offset="0.2820" stop-color="#0007dd"/><stop offset="0.2932" stop-color="#0006dd"/><stop offset="0.2989" stop-color="#0028dd"/><stop offset="0.3008" stop-color="#002bdd"/><stop offset="0.3120" stop-color="#002bdd"/><stop offset="0.3214" stop-color="#0008dd"/><stop offset="0.3233" stop-color="#0007dd"/><stop offset="0.4117" stop-color="#0021dd"/><stop offset="0.4135" stop-color="#0024dd"/><stop offset="0.4154" stop-color="#0034dd"/><stop offset="0.4173" stop-color="#00aaa6"/><stop offset="0.4192" stop-color="#00aa96"/><stop offset="0.4211" stop-color="#00aa96"/><stop offset="0.4229" stop-color="#0096dd"/><stop offset="0.4248" stop-color="#007bdd"/><stop offset="0.4793" stop-color="#0099dd"/><stop offset="0.5188" stop-color="#00a7b2"/><stop offset="0.5282" stop-color="#00a4bb"/><stop offset="0.5508" stop-color="#0099dc"/><stop offset="0.5677" stop-color="#0087dd"/><stop offset="0.5883" stop-color="#0077dd"/><stop offset="0.5977" stop-color="#005edd"/><stop offset="0.6203" stop-color="#0014dd"/><stop offset="0.6297" stop-color="#0000dd"/><stop offset="0.6767" stop-color="#0100aa"/><stop offset="0.6955" stop-color="#65009d"/><stop offset="0.7030" stop-color="#82009a"/><stop offset="0.7425" stop-color="#880099"/><stop offset="0.7444" stop-color="#0042dd"/><stop offset="0.7462" stop-color="#0092dd"/><stop offset="0.7500" stop-color="#0092dd"/><stop offset="0.7519" stop-color="#0000dc"/><stop offset="0.7538" stop-color="#880099"/><stop offset="0.7575" stop-color="#880099"/><stop offset="0.7594" stop-color="#4e00a0"/><stop offset="0.7613" stop-color="#0000ce"/><stop offset="0.7838" stop-color="#0000cc"/><stop offset="0.7857" stop-color="#007edd"/><stop offset="0.7876" stop-color="#007edd"/><stop offset="0.7895" stop-color="#0000cf"/><stop offset="0.7914" stop-color="#3600a3"/><stop offset="0.7951" stop-color="#3600a3"/><stop offset="0.7970" stop-color="#0000b7"/><stop offset="0.7989" stop-color="#0092dd"/><stop offset="0.8045" stop-color="#0092dd"/><stop offset="0.8064" stop-color="#0000c2"/><stop offset="0.8083" stop-color="#0000b9"/><stop offset="0.8102" stop-color="#2f00a4"/><stop offset="0.8120" stop-color="#4400a2"/><stop offset="0.8139" stop-color="#2100a6"/><stop offset="0.8158" stop-color="#0000b9"/><stop offset="0.8177" stop-color="#62009e"/><stop offset="0.8195" stop-color="#4c00a1"/><stop offset="0.8214" stop-color="#0000b9"/><stop offset="0.8233" stop-color="#7f009a"/><stop offset="0.8252" stop-color="#6d009c"/><stop offset="0.8289" stop-color="#6d009c"/><stop offset="0.8308" stop-color="#79008a"/><stop offset="0.8327" stop-color="#700080"/><stop offset="0.8383" stop-color="#650074"/><stop offset="0.8496" stop-color="#5b0068"/><stop offset="0.8684" stop-color="#540060"/><stop offset="0.9060" stop-color="#4e0059"/><stop offset="1.0000" stop-color="#300037"/></linearGradient><linearGradient id="a24" gradientUnits="userSpaceOnUse" x1="48.85" y1="0" x2="314.90" y2="0"><stop offset="0.0000" stop-color="#4c00a0"/><stop offset="0.0019" stop-color="#4c00a0"/><stop offset="0.0038" stop-color="#7b008c"/><stop offset="0.0056" stop-color="#310038"/><stop offset="0.0940" stop-color="#310038"/><stop offset="0.1034" stop-color="#2c0032"/><stop offset="0.1842" stop-color="#2c0032"/><stop offset="0.1955" stop-color="#3f0048"/><stop offset="0.2049" stop-color="#79008a"/><stop offset="0.2124" stop-color="#870098"/><stop offset="0.2218" stop-color="#7f009a"/><stop offset="0.2237" stop-color="#77009b"/><stop offset="0.2274" stop-color="#4c00a0"/><stop offset="0.2293" stop-color="#1f00a6"/><stop offset="0.2312" stop-color="#0000b0"/><stop offset="0.2368" stop-color="#0000d7"/><stop offset="0.2406" stop-color="#0004dd"/><stop offset="0.2444" stop-color="#0011dd"/><stop offset="0.2462" stop-color="#0013dd"/><stop offset="0.2744" stop-color="#001add"/><stop offset="0.2820" stop-color="#0007dd"/><stop offset="0.2932" stop-color="#0006dd"/><stop offset="0.2989" stop-color="#0028dd"/><stop offset="0.3008" stop-color="#002bdd"/><stop offset="0.3120" stop-color="#002bdd"/><stop offset="0.3214" stop-color="#0008dd"/><stop offset="0.3233" stop-color="#0007dd"/><stop offset="0.4117" stop-color="#0021dd"/><stop offset="0.4135" stop-color="#0024dd"/><stop offset="0.4154" stop-color="#0034dd"/><stop offset="0.4173" stop-color="#0091dd"/><stop offset="0.4192" stop-color="#0099dd"/><stop offset="0.4211" stop-color="#0099dd"/><stop offset="0.4229" stop-color="#0083dd"/><stop offset="0.4248" stop-color="#007bdd"/><stop offset="0.4793" stop-color="#0099dd"/><stop offset="0.5188" stop-color="#00a7b2"/><stop offset="0.5282" stop-color="#00a4bb"/><stop offset="0.5508" stop-color="#0099dc"/><stop offset="0.5677" stop-color="#0087dd"/><stop offset="0.5883" stop-color="#0077dd"/><stop offset="0.5977" stop-color="#005edd"/><stop offset="0.6203" stop-color="#0014dd"/><stop offset="0.6297" stop-color="#0000dd"/><stop offset="0.6767" stop-color="#0100aa"/><stop offset="0.6955" stop-color="#65009d"/><stop offset="0.7030" stop-color="#82009a"/><stop offset="0.7425" stop-color="#880099"/><stop offset="0.7444" stop-color="#0042dd"/><stop offset="0.7462" stop-color="#0092dd"/><stop offset="0.7500" stop-color="#0092dd"/><stop offset="0.7519" stop-color="#0000dc"/><stop offset="0.7538" stop-color="#880099"/><stop offset="0.7575" stop-color="#880099"/><stop offset="0.7594" stop-color="#4e00a0"/><stop offset="0.7613" stop-color="#0000ce"/><stop offset="0.7838" stop-color="#0000cc"/><stop offset="0.7857" stop-color="#007edd"/><stop offset="0.7876" stop-color="#007edd"/><stop offset="0.7895" stop-color="#0000cf"/><stop offset="0.7914" stop-color="#3600a3"/><stop offset="0.7951" stop-color="#3600a3"/><stop offset="0.7970" stop-color="#0000b7"/><stop offset="0.7989" stop-color="#0092dd"/><stop offset="0.8045" stop-color="#0092dd"/><stop offset="0.8064" stop-color="#0000c2"/><stop offset="0.8083" stop-color="#0000b9"/><stop offset="0.8102" stop-color="#2f00a4"/><stop offset="0.8120" stop-color="#4400a2"/><stop offset="0.8139" stop-color="#2100a6"/><stop offset="0.8158" stop-color="#0000b9"/><stop offset="0.8177" stop-color="#62009e"/><stop offset="0.8195" stop-color="#4c00a1"/><stop offset="0.8214" stop-color="#0000b9"/><stop offset="0.8233" stop-color="#7f009a"/><stop offset="0.8252" stop-color="#6d009c"/><stop offset="0.8289" stop-color="#6d009c"/><stop offset="0.8308" stop-color="#79008a"/><stop offset="0.8327" stop-color="#700080"/><stop offset="0.8383" stop-color="#650074"/><stop offset="0.8496" stop-color="#5b0068"/><stop offset="0.8684" stop-color="#540060"/><stop offset="0.9060" stop-color="#4e0059"/><stop offset="1.0000" stop-color="#300037"/></linearGradient><linearGradient id="a25" gradientUnits="userSpaceOnUse" x1="48.85" y1="0" x2="314.90" y2="0"><stop offset="0.0000" stop-color="#4c00a0"/><stop offset="0.0019" stop-color="#4c00a0"/><stop offset="0.0038" stop-color="#7b008c"/><stop offset="0.0056" stop-color="#310038"/><stop offset="0.0940" stop-color="#310038"/><stop offset="0.1034" stop-color="#2c0032"/><stop offset="0.1842" stop-color="#2c0032"/><stop offset="0.1955" stop-color="#3f0048"/><stop offset="0.2049" stop-color="#79008a"/><stop offset="0.2124" stop-color="#870098"/><stop offset="0.2218" stop-color="#7f009a"/><stop offset="0.2237" stop-color="#77009b"/><stop offset="0.2274" stop-color="#4c00a0"/><stop offset="0.2293" stop-color="#1f00a6"/><stop offset="0.2312" stop-color="#0000b0"/><stop offset="0.2368" stop-color="#0000d7"/><stop offset="0.2406" stop-color="#0004dd"/><stop offset="0.2444" stop-color="#0011dd"/><stop offset="0.2462" stop-color="#0013dd"/><stop offset="0.2744" stop-color="#001add"/><stop offset="0.2820" stop-color="#0007dd"/><stop offset="0.2932" stop-color="#0006dd"/><stop offset="0.2989" stop-color="#0028dd"/><stop offset="0.3008" stop-color="#002bdd"/><stop offset="0.3120" stop-color="#002bdd"/><stop offset="0.3214" stop-color="#0008dd"/><stop offset="0.3233" stop-color="#0007dd"/><stop offset="0.4117" stop-color="#0021dd"/><stop offset="0.4135" stop-color="#0024dd"/><stop offset="0.4154" stop-color="#0034dd"/><stop offset="0.4173" stop-color="#007add"/><stop offset="0.4192" stop-color="#007edd"/><stop offset="0.4229" stop-color="#0079dd"/><stop offset="0.4267" stop-color="#007edd"/><stop offset="0.4793" stop-color="#0099dd"/><stop offset="0.5188" stop-color="#00a7b2"/><stop offset="0.5282" stop-color="#00a4bb"/><stop offset="0.5508" stop-color="#0099dc"/><stop offset="0.5677" stop-color="#0087dd"/><stop offset="0.5883" stop-color="#0077dd"/><stop offset="0.5977" stop-color="#005edd"/><stop offset="0.6203" stop-color="#0014dd"/><stop offset="0.6297" stop-color="#0000dd"/><stop offset="0.6767" stop-color="#0100aa"/><stop offset="0.6955" stop-color="#65009d"/><stop offset="0.7030" stop-color="#82009a"/><stop offset="0.7425" stop-color="#880099"/><stop offset="0.7444" stop-color="#0042dd"/><stop offset="0.7462" stop-color="#0092dd"/><stop offset="0.7500" stop-color="#0092dd"/><stop offset="0.7519" stop-color="#0000dc"/><stop offset="0.7538" stop-color="#880099"/><stop offset="0.7575" stop-color="#880099"/><stop offset="0.7594" stop-color="#4e00a0"/><stop offset="0.7613" stop-color="#0000ce"/><stop offset="0.7838" stop-color="#0000cc"/><stop offset="0.7857" stop-color="#007edd"/><stop offset="0.7876" stop-color="#007edd"/><stop offset="0.7895" stop-color="#0000cf"/><stop offset="0.7914" stop-color="#3600a3"/><stop offset="0.7951" stop-color="#3600a3"/><stop offset="0.7970" stop-color="#0000b7"/><stop offset="0.7989" stop-color="#0092dd"/><stop offset="0.8045" stop-color="#0092dd"/><stop offset="0.8064" stop-color="#0000c2"/><stop offset="0.8083" stop-color="#0000b9"/><stop offset="0.8102" stop-color="#2f00a4"/><stop offset="0.8120" stop-color="#4400a2"/><stop offset="0.8139" stop-color="#2100a6"/><stop offset="0.8158" stop-color="#0000b9"/><stop offset="0.8177" stop-color="#62009e"/><stop offset="0.8195" stop-color="#4c00a1"/><stop offset="0.8214" stop-color="#0000b9"/><stop offset="0.8233" stop-color="#7f009a"/><stop offset="0.8252" stop-color="#6d009c"/><stop offset="0.8289" stop-color="#6d009c"/><stop offset="0.8308" stop-color="#79008a"/><stop offset="0.8327" stop-color="#700080"/><stop offset="0.8383" stop-color="#650074"/><stop offset="0.8496" stop-color="#5b0068"/><stop offset="0.8684" stop-color="#540060"/><stop offset="0.9060" stop-color="#4e0059"/><stop offset="1.0000" stop-color="#300037"/></linearGradient><linearGradient id="a26" gradientUnits="userSpaceOnUse" x1="48.85" y1="0" x2="314.90" y2="0"><stop offset="0.0000" stop-color="#4c00a0"/><stop offset="0.0019" stop-color="#4c00a0"/><stop offset="0.0038" stop-color="#7b008c"/><stop offset="0.0056" stop-color="#310038"/><stop offset="0.0940" stop-color="#310038"/><stop offset="0.1034" stop-color="#2c0032"/><stop offset="0.1842" stop-color="#2c0032"/><stop offset="0.1955" stop-color="#3e0047"/><stop offset="0.2049" stop-color="#79008a"/><stop offset="0.2124" stop-color="#860097"/><stop offset="0.2180" stop-color="#870099"/><stop offset="0.2218" stop-color="#82009a"/><stop offset="0.2237" stop-color="#79009b"/><stop offset="0.2274" stop-color="#4e00a0"/><stop offset="0.2293" stop-color="#2100a6"/><stop offset="0.2312" stop-color="#0000af"/><stop offset="0.2368" stop-color="#0000d6"/><stop offset="0.2406" stop-color="#0003dd"/><stop offset="0.2444" stop-color="#000fdd"/><stop offset="0.2462" stop-color="#0011dd"/><stop offset="0.2744" stop-color="#0018dd"/><stop offset="0.2820" stop-color="#0006dd"/><stop offset="0.2932" stop-color="#0005dd"/><stop offset="0.2989" stop-color="#0026dd"/><stop offset="0.3008" stop-color="#002add"/><stop offset="0.3120" stop-color="#002add"/><stop offset="0.3214" stop-color="#0007dd"/><stop offset="0.3233" stop-color="#0005dd"/><stop offset="0.4117" stop-color="#0025dd"/><stop offset="0.4135" stop-color="#0027dd"/><stop offset="0.4154" stop-color="#0037dd"/><stop offset="0.4173" stop-color="#0079dd"/><stop offset="0.4192" stop-color="#007ddd"/><stop offset="0.4229" stop-color="#0078dd"/><stop offset="0.4267" stop-color="#007ddd"/><stop offset="0.4793" stop-color="#0099dd"/><stop offset="0.5188" stop-color="#00a6b5"/><stop offset="0.5282" stop-color="#00a3be"/><stop offset="0.5508" stop-color="#0099dd"/><stop offset="0.5865" stop-color="#0078dd"/><stop offset="0.5977" stop-color="#005bdd"/><stop offset="0.6203" stop-color="#0012dd"/><stop offset="0.6278" stop-color="#0001dd"/><stop offset="0.6748" stop-color="#0000ac"/><stop offset="0.6767" stop-color="#0400a9"/><stop offset="0.6955" stop-color="#67009d"/><stop offset="0.7030" stop-color="#83009a"/><stop offset="0.7425" stop-color="#880099"/><stop offset="0.7444" stop-color="#0042dd"/><stop offset="0.7462" stop-color="#0092dd"/><stop offset="0.7500" stop-color="#0092dd"/><stop offset="0.7519" stop-color="#0000dc"/><stop offset="0.7538" stop-color="#880099"/><stop offset="0.7575" stop-color="#880099"/><stop offset="0.7594" stop-color="#4e00a0"/><stop offset="0.7613" stop-color="#0000ce"/><stop offset="0.7838" stop-color="#0000cc"/><stop offset="0.7857" stop-color="#007edd"/><stop offset="0.7876" stop-color="#007edd"/><stop offset="0.7895" stop-color="#0000cf"/><stop offset="0.7914" stop-color="#3600a3"/><stop offset="0.7951" stop-color="#3600a3"/><stop offset="0.7970" stop-color="#0000b7"/><stop offset="0.7989" stop-color="#0092dd"/><stop offset="0.8045" stop-color="#0092dd"/><stop offset="0.8064" stop-color="#0000c2"/><stop offset="0.8083" stop-color="#0000b9"/><stop offset="0.8102" stop-color="#2f00a4"/><stop offset="0.8120" stop-color="#4400a2"/><stop offset="0.8139" stop-color="#2100a6"/><stop offset="0.8158" stop-color="#0000b9"/><stop offset="0.8177" stop-color="#61009e"/><stop offset="0.8195" stop-color="#4c00a1"/><stop offset="0.8214" stop-color="#0000b9"/><stop offset="0.8233" stop-color="#7f009a"/><stop offset="0.8252" stop-color="#6d009c"/><stop offset="0.8289" stop-color="#6d009c"/><stop offset="0.8308" stop-color="#79008a"/><stop offset="0.8327" stop-color="#710081"/><stop offset="0.8383" stop-color="#660074"/><stop offset="0.8515" stop-color="#5b0068"/><stop offset="0.8684" stop-color="#540060"/><stop offset="0.9060" stop-color="#4d0058"/><stop offset="1.0000" stop-color="#300037"/></linearGradient><linearGradient id="a27" gradientUnits="userSpaceOnUse" x1="48.85" y1="0" x2="314.90" y2="0"><stop offset="0.0000" stop-color="#4c00a0"/><stop offset="0.0019" stop-color="#4c00a0"/><stop offset="0.0038" stop-color="#7b008c"/><stop offset="0.0056" stop-color="#310038"/><stop offset="0.0940" stop-color="#310038"/><stop offset="0.1034" stop-color="#2c0032"/><stop offset="0.1842" stop-color="#2c0032"/><stop offset="0.1880" stop-color="#2e0035"/><stop offset="0.1955" stop-color="#3a0042"/><stop offset="0.2030" stop-color="#5b0068"/><stop offset="0.2068" stop-color="#750085"/><stop offset="0.2237" stop-color="#870098"/><stop offset="0.2256" stop-color="#7e009a"/><stop offset="0.2274" stop-color="#63009e"/><stop offset="0.2293" stop-color="#3700a3"/><stop offset="0.2312" stop-color="#0100aa"/><stop offset="0.2368" stop-color="#0000d1"/><stop offset="0.2444" stop-color="#0001dd"/><stop offset="0.2744" stop-color="#000add"/><stop offset="0.2801" stop-color="#0000dc"/><stop offset="0.2932" stop-color="#0000d9"/><stop offset="0.2951" stop-color="#0000dd"/><stop offset="0.2989" stop-color="#0017dd"/><stop offset="0.3008" stop-color="#001bdd"/><stop offset="0.3120" stop-color="#001bdd"/><stop offset="0.3195" stop-color="#0000dd"/><stop offset="0.3233" stop-color="#0000d9"/><stop offset="0.3477" stop-color="#0001dd"/><stop offset="0.3722" stop-color="#0010dd"/><stop offset="0.3985" stop-color="#002fdd"/><stop offset="0.4135" stop-color="#004edd"/><stop offset="0.4154" stop-color="#0053dd"/><stop offset="0.4173" stop-color="#005edd"/><stop offset="0.4286" stop-color="#0078dd"/><stop offset="0.4568" stop-color="#008bdd"/><stop offset="0.4925" stop-color="#0099dd"/><stop offset="0.5188" stop-color="#009dd0"/><stop offset="0.5376" stop-color="#0099dd"/><stop offset="0.5489" stop-color="#0093dd"/><stop offset="0.5789" stop-color="#0077dd"/><stop offset="0.6147" stop-color="#0006dd"/><stop offset="0.6184" stop-color="#0000dc"/><stop offset="0.6673" stop-color="#0000ac"/><stop offset="0.6692" stop-color="#0300aa"/><stop offset="0.6786" stop-color="#3000a4"/><stop offset="0.6898" stop-color="#6b009d"/><stop offset="0.6974" stop-color="#880099"/><stop offset="0.7425" stop-color="#870098"/><stop offset="0.7444" stop-color="#0040dd"/><stop offset="0.7462" stop-color="#0092dd"/><stop offset="0.7500" stop-color="#0092dd"/><stop offset="0.7519" stop-color="#0000db"/><stop offset="0.7538" stop-color="#880099"/><stop offset="0.7575" stop-color="#880099"/><stop offset="0.7594" stop-color="#4f00a0"/><stop offset="0.7613" stop-color="#0000ce"/><stop offset="0.7838" stop-color="#0000cc"/><stop offset="0.7857" stop-color="#007edd"/><stop offset="0.7876" stop-color="#007edd"/><stop offset="0.7895" stop-color="#0000cf"/><stop offset="0.7914" stop-color="#3600a3"/><stop offset="0.7951" stop-color="#3600a3"/><stop offset="0.7970" stop-color="#0000b7"/><stop offset="0.7989" stop-color="#0092dd"/><stop offset="0.8045" stop-color="#0092dd"/><stop offset="0.8064" stop-color="#0000c2"/><stop offset="0.8083" stop-color="#0000b9"/><stop offset="0.8102" stop-color="#2e00a4"/><stop offset="0.8120" stop-color="#4400a2"/><stop offset="0.8139" stop-color="#2000a6"/><stop offset="0.8158" stop-color="#0000b9"/><stop offset="0.8177" stop-color="#60009e"/><stop offset="0.8195" stop-color="#4a00a1"/><stop offset="0.8214" stop-color="#0000b9"/><stop offset="0.8233" stop-color="#7e009a"/><stop offset="0.8252" stop-color="#6d009c"/><stop offset="0.8289" stop-color="#6d009c"/><stop offset="0.8308" stop-color="#7a008b"/><stop offset="0.8402" stop-color="#690078"/><stop offset="0.8684" stop-color="#550062"/><stop offset="1.0000" stop-color="#300037"/></linearGradient><linearGradient id="a28" gradientUnits="userSpaceOnUse" x1="48.85" y1="0" x2="314.90" y2="0"><stop offset="0.0000" stop-color="#4c00a0"/><stop offset="0.0019" stop-color="#4c00a0"/><stop offset="0.0038" stop-color="#7b008c"/><stop offset="0.0056" stop-color="#310038"/><stop offset="0.0940" stop-color="#310038"/><stop offset="0.1034" stop-color="#2c0032"/><stop offset="0.1861" stop-color="#2c0032"/><stop offset="0.1955" stop-color="#3a0042"/><stop offset="0.2030" stop-color="#590066"/><stop offset="0.2068" stop-color="#700080"/><stop offset="0.2086" stop-color="#780089"/><stop offset="0.2237" stop-color="#870098"/><stop offset="0.2256" stop-color="#80009a"/><stop offset="0.2274" stop-color="#65009d"/><stop offset="0.2293" stop-color="#3900a3"/><stop offset="0.2312" stop-color="#0300aa"/><stop offset="0.2368" stop-color="#0000d0"/><stop offset="0.2444" stop-color="#0000dd"/><stop offset="0.2744" stop-color="#0008dd"/><stop offset="0.2782" stop-color="#0000dd"/><stop offset="0.2838" stop-color="#0000d8"/><stop offset="0.2932" stop-color="#0000d8"/><stop offset="0.2951" stop-color="#0000dc"/><stop offset="0.2989" stop-color="#0016dd"/><stop offset="0.3008" stop-color="#0019dd"/><stop offset="0.3120" stop-color="#0019dd"/><stop offset="0.3195" stop-color="#0000dc"/><stop offset="0.3233" stop-color="#0000d9"/><stop offset="0.3496" stop-color="#0001dd"/><stop offset="0.3722" stop-color="#000fdd"/><stop offset="0.3985" stop-color="#0030dd"/><stop offset="0.4286" stop-color="#0077dd"/><stop offset="0.4680" stop-color="#0090dd"/><stop offset="0.4962" stop-color="#0099dd"/><stop offset="0.5188" stop-color="#009cd3"/><stop offset="0.5357" stop-color="#0099dd"/><stop offset="0.5489" stop-color="#0093dd"/><stop offset="0.5771" stop-color="#0078dd"/><stop offset="0.6147" stop-color="#0003dd"/><stop offset="0.6165" stop-color="#0000dc"/><stop offset="0.6673" stop-color="#0000ab"/><stop offset="0.6692" stop-color="#0600a9"/><stop offset="0.6786" stop-color="#3300a4"/><stop offset="0.6898" stop-color="#6f009c"/><stop offset="0.6974" stop-color="#880099"/><stop offset="0.7425" stop-color="#870098"/><stop offset="0.7444" stop-color="#0040dd"/><stop offset="0.7462" stop-color="#0092dd"/><stop offset="0.7500" stop-color="#0092dd"/><stop offset="0.7519" stop-color="#0000db"/><stop offset="0.7538" stop-color="#880099"/><stop offset="0.7575" stop-color="#880099"/><stop offset="0.7594" stop-color="#4f00a0"/><stop offset="0.7613" stop-color="#0000ce"/><stop offset="0.7838" stop-color="#0000cc"/><stop offset="0.7857" stop-color="#007edd"/><stop offset="0.7876" stop-color="#007edd"/><stop offset="0.7895" stop-color="#0000cf"/><stop offset="0.7914" stop-color="#3600a3"/><stop offset="0.7951" stop-color="#3600a3"/><stop offset="0.7970" stop-color="#0000b7"/><stop offset="0.7989" stop-color="#0092dd"/><stop offset="0.8045" stop-color="#0092dd"/><stop offset="0.8064" stop-color="#0000c2"/><stop offset="0.8083" stop-color="#0000b9"/><stop offset="0.8102" stop-color="#2e00a4"/><stop offset="0.8120" stop-color="#4400a2"/><stop offset="0.8139" stop-color="#2000a6"/><stop offset="0.8158" stop-color="#0000b9"/><stop offset="0.8177" stop-color="#60009e"/><stop offset="0.8195" stop-color="#4a00a1"/><stop offset="0.8214" stop-color="#0000b9"/><stop offset="0.8233" stop-color="#7e009a"/><stop offset="0.8252" stop-color="#6d009c"/><stop offset="0.8289" stop-color="#6d009c"/><stop offset="0.8308" stop-color="#7a008b"/><stop offset="0.8402" stop-color="#6a0079"/><stop offset="0.8684" stop-color="#560062"/><stop offset="1.0000" stop-color="#300037"/></linearGradient><linearGradient id="a29" gradientUnits="userSpaceOnUse" x1="48.85" y1="0" x2="314.90" y2="0"><stop offset="0.0000" stop-color="#4c00a0"/><stop offset="0.0019" stop-color="#4c00a0"/><stop offset="0.0038" stop-color="#7b008c"/><stop offset="0.0056" stop-color="#310038"/><stop offset="0.0940" stop-color="#310038"/><stop offset="0.1034" stop-color="#2c0032"/><stop offset="0.1861" stop-color="#2c0032"/><stop offset="0.1955" stop-color="#390042"/><stop offset="0.2030" stop-color="#590066"/><stop offset="0.2086" stop-color="#780089"/><stop offset="0.2237" stop-color="#870098"/><stop offset="0.2256" stop-color="#83009a"/><stop offset="0.2274" stop-color="#67009d"/><stop offset="0.2293" stop-color="#3c00a2"/><stop offset="0.2312" stop-color="#0600a9"/><stop offset="0.2331" stop-color="#0000b7"/><stop offset="0.2368" stop-color="#0000ce"/><stop offset="0.2444" stop-color="#0000db"/><stop offset="0.2744" stop-color="#0004dd"/><stop offset="0.2763" stop-color="#0000dd"/><stop offset="0.2838" stop-color="#0000d7"/><stop offset="0.2932" stop-color="#0000d7"/><stop offset="0.2951" stop-color="#0000da"/><stop offset="0.2970" stop-color="#0005dd"/><stop offset="0.2989" stop-color="#0011dd"/><stop offset="0.3008" stop-color="#0014dd"/><stop offset="0.3120" stop-color="#0014dd"/><stop offset="0.3177" stop-color="#0001dd"/><stop offset="0.3195" stop-color="#0000da"/><stop offset="0.3233" stop-color="#0000d7"/><stop offset="0.3553" stop-color="#0000dd"/><stop offset="0.3722" stop-color="#000bdd"/><stop offset="0.3985" stop-color="#002cdd"/><stop offset="0.4323" stop-color="#0078dd"/><stop offset="0.4699" stop-color="#008fdd"/><stop offset="0.5038" stop-color="#0099dd"/><stop offset="0.5188" stop-color="#009bd6"/><stop offset="0.5320" stop-color="#0098dd"/><stop offset="0.5489" stop-color="#0091dd"/><stop offset="0.5752" stop-color="#0078dd"/><stop offset="0.6147" stop-color="#0000dc"/><stop offset="0.6673" stop-color="#0100aa"/><stop offset="0.6786" stop-color="#3600a3"/><stop offset="0.6898" stop-color="#71009c"/><stop offset="0.6955" stop-color="#860099"/><stop offset="0.7425" stop-color="#870098"/><stop offset="0.7444" stop-color="#003fdd"/><stop offset="0.7462" stop-color="#0092dd"/><stop offset="0.7500" stop-color="#0092dd"/><stop offset="0.7519" stop-color="#0000db"/><stop offset="0.7538" stop-color="#880099"/><stop offset="0.7575" stop-color="#880099"/><stop offset="0.7594" stop-color="#4f00a0"/><stop offset="0.7613" stop-color="#0000ce"/><stop offset="0.7838" stop-color="#0000cc"/><stop offset="0.7857" stop-color="#007edd"/><stop offset="0.7876" stop-color="#007edd"/><stop offset="0.7895" stop-color="#0000cf"/><stop offset="0.7914" stop-color="#3600a3"/><stop offset="0.7951" stop-color="#3600a3"/><stop offset="0.7970" stop-color="#0000b7"/><stop offset="0.7989" stop-color="#0092dd"/><stop offset="0.8045" stop-color="#0092dd"/><stop offset="0.8064" stop-color="#0000c2"/><stop offset="0.8083" stop-color="#0000b9"/><stop offset="0.8102" stop-color="#2e00a4"/><stop offset="0.8120" stop-color="#4400a2"/><stop offset="0.8139" stop-color="#2000a6"/><stop offset="0.8158" stop-color="#0000b9"/><stop offset="0.8177" stop-color="#60009e"/><stop offset="0.8195" stop-color="#4a00a1"/><stop offset="0.8214" stop-color="#0000b9"/><stop offset="0.8233" stop-color="#7e009a"/><stop offset="0.8252" stop-color="#6d009c"/><stop offset="0.8289" stop-color="#6d009c"/><stop offset="0.8308" stop-color="#7a008b"/><stop offset="0.8402" stop-color="#690078"/><stop offset="0.8684" stop-color="#550061"/><stop offset="1.0000" stop-color="#300036"/></linearGradient><linearGradient id="a30" gradientUnits="userSpaceOnUse" x1="48.85" y1="0" x2="314.90" y2="0"><stop offset="0.0000" stop-color="#4c00a0"/><stop offset="0.0019" stop-color="#4c00a0"/><stop offset="0.0038" stop-color="#7b008c"/><stop offset="0.0056" stop-color="#310038"/><stop offset="0.0940" stop-color="#310038"/><stop offset="0.1034" stop-color="#2c0032"/><stop offset="0.1861" stop-color="#2c0032"/><stop offset="0.1955" stop-color="#390041"/><stop offset="0.2030" stop-color="#580064"/><stop offset="0.2086" stop-color="#770088"/><stop offset="0.2256" stop-color="#870099"/><stop offset="0.2274" stop-color="#6d009c"/><stop offset="0.2293" stop-color="#4200a2"/><stop offset="0.2312" stop-color="#0d00a8"/><stop offset="0.2331" stop-color="#0000b4"/><stop offset="0.2368" stop-color="#0000cb"/><stop offset="0.2444" stop-color="#0000d7"/><stop offset="0.2744" stop-color="#0000db"/><stop offset="0.2820" stop-color="#0000d4"/><stop offset="0.2932" stop-color="#0000d3"/><stop offset="0.2970" stop-color="#0000dc"/><stop offset="0.2989" stop-color="#0008dd"/><stop offset="0.3008" stop-color="#000bdd"/><stop offset="0.3120" stop-color="#000bdd"/><stop offset="0.3158" stop-color="#0000dd"/><stop offset="0.3233" stop-color="#0000d3"/><stop offset="0.3703" stop-color="#0001dd"/><stop offset="0.4004" stop-color="#0025dd"/><stop offset="0.4380" stop-color="#0078dd"/><stop offset="0.4718" stop-color="#008add"/><stop offset="0.5188" stop-color="#009adc"/><stop offset="0.5489" stop-color="#008ddd"/><stop offset="0.5733" stop-color="#0075dd"/><stop offset="0.6109" stop-color="#0001dd"/><stop offset="0.6128" stop-color="#0000db"/><stop offset="0.6635" stop-color="#0000ab"/><stop offset="0.6673" stop-color="#0800a9"/><stop offset="0.6692" stop-color="#1000a8"/><stop offset="0.6898" stop-color="#76009b"/><stop offset="0.6955" stop-color="#880099"/><stop offset="0.7425" stop-color="#860097"/><stop offset="0.7444" stop-color="#003edd"/><stop offset="0.7462" stop-color="#0092dd"/><stop offset="0.7500" stop-color="#0092dd"/><stop offset="0.7519" stop-color="#0000db"/><stop offset="0.7538" stop-color="#880099"/><stop offset="0.7575" stop-color="#880099"/><stop offset="0.7594" stop-color="#5000a0"/><stop offset="0.7613" stop-color="#0000ce"/><stop offset="0.7838" stop-color="#0000cc"/><stop offset="0.7857" stop-color="#007edd"/><stop offset="0.7876" stop-color="#007edd"/><stop offset="0.7895" stop-color="#0000cf"/><stop offset="0.7914" stop-color="#3600a3"/><stop offset="0.7951" stop-color="#3600a3"/><stop offset="0.7970" stop-color="#0000b6"/><stop offset="0.7989" stop-color="#0092dd"/><stop offset="0.8045" stop-color="#0092dd"/><stop offset="0.8064" stop-color="#0000c2"/><stop offset="0.8083" stop-color="#0000b9"/><stop offset="0.8102" stop-color="#2f00a4"/><stop offset="0.8120" stop-color="#4400a2"/><stop offset="0.8139" stop-color="#2100a6"/><stop offset="0.8158" stop-color="#0000b9"/><stop offset="0.8177" stop-color="#61009e"/><stop offset="0.8195" stop-color="#4b00a1"/><stop offset="0.8214" stop-color="#0000b9"/><stop offset="0.8233" stop-color="#7e009a"/><stop offset="0.8252" stop-color="#6d009c"/><stop offset="0.8289" stop-color="#6d009c"/><stop offset="0.8308" stop-color="#7a008b"/><stop offset="0.8383" stop-color="#6a0079"/><stop offset="0.8496" stop-color="#5f006d"/><stop offset="0.8684" stop-color="#540060"/><stop offset="1.0000" stop-color="#300036"/></linearGradient><linearGradient id="a31" gradientUnits="userSpaceOnUse" x1="48.85" y1="0" x2="314.90" y2="0"><stop offset="0.0000" stop-color="#4c00a0"/><stop offset="0.0019" stop-color="#4c00a0"/><stop offset="0.0038" stop-color="#7b008c"/><stop offset="0.0056" stop-color="#310038"/><stop offset="0.0940" stop-color="#310038"/><stop offset="0.1034" stop-color="#2c0032"/><stop offset="0.1861" stop-color="#2c0032"/><stop offset="0.1955" stop-color="#390041"/><stop offset="0.2030" stop-color="#580065"/><stop offset="0.2086" stop-color="#770088"/><stop offset="0.2256" stop-color="#860099"/><stop offset="0.2274" stop-color="#6b009d"/><stop offset="0.2293" stop-color="#4000a2"/><stop offset="0.2312" stop-color="#0b00a9"/><stop offset="0.2331" stop-color="#0000b5"/><stop offset="0.2368" stop-color="#0000cc"/><stop offset="0.2444" stop-color="#0000d8"/><stop offset="0.2744" stop-color="#0000dc"/><stop offset="0.2838" stop-color="#0000d4"/><stop offset="0.2914" stop-color="#0001dd"/><stop offset="0.2932" stop-color="#0007dd"/><stop offset="0.2989" stop-color="#002ddd"/><stop offset="0.3008" stop-color="#002cdd"/><stop offset="0.3083" stop-color="#0015dd"/><stop offset="0.3177" stop-color="#0000db"/><stop offset="0.3233" stop-color="#0000d4"/><stop offset="0.3759" stop-color="#0000dd"/><stop offset="0.3985" stop-color="#001bdd"/><stop offset="0.4398" stop-color="#0077dd"/><stop offset="0.4850" stop-color="#008fdd"/><stop offset="0.5132" stop-color="#0099dd"/><stop offset="0.5188" stop-color="#009ada"/><stop offset="0.5244" stop-color="#0099dd"/><stop offset="0.5489" stop-color="#008edd"/><stop offset="0.5733" stop-color="#0078dd"/><stop offset="0.6128" stop-color="#0000dc"/><stop offset="0.6654" stop-color="#0100aa"/><stop offset="0.6692" stop-color="#0e00a8"/><stop offset="0.6786" stop-color="#3a00a3"/><stop offset="0.6898" stop-color="#75009b"/><stop offset="0.6955" stop-color="#880099"/><stop offset="0.7425" stop-color="#860097"/><stop offset="0.7444" stop-color="#003edd"/><stop offset="0.7462" stop-color="#0092dd"/><stop offset="0.7500" stop-color="#0092dd"/><stop offset="0.7519" stop-color="#0000db"/><stop offset="0.7538" stop-color="#880099"/><stop offset="0.7575" stop-color="#880099"/><stop offset="0.7594" stop-color="#5000a0"/><stop offset="0.7613" stop-color="#0000ce"/><stop offset="0.7838" stop-color="#0000cc"/><stop offset="0.7857" stop-color="#007edd"/><stop offset="0.7876" stop-color="#007edd"/><stop offset="0.7895" stop-color="#0000cf"/><stop offset="0.7914" stop-color="#3600a3"/><stop offset="0.7951" stop-color="#3600a3"/><stop offset="0.7970" stop-color="#0000b7"/><stop offset="0.7989" stop-color="#0092dd"/><stop offset="0.8045" stop-color="#0092dd"/><stop offset="0.8064" stop-color="#0000c2"/><stop offset="0.8083" stop-color="#0000b9"/><stop offset="0.8102" stop-color="#2f00a4"/><stop offset="0.8120" stop-color="#4400a2"/><stop offset="0.8139" stop-color="#2000a6"/><stop offset="0.8158" stop-color="#0000b9"/><stop offset="0.8177" stop-color="#61009e"/><stop offset="0.8195" stop-color="#4b00a1"/><stop offset="0.8214" stop-color="#0000b9"/><stop offset="0.8233" stop-color="#7e009a"/><stop offset="0.8252" stop-color="#6d009c"/><stop offset="0.8289" stop-color="#6d009c"/><stop offset="0.8308" stop-color="#7a008b"/><stop offset="0.8383" stop-color="#6a0079"/><stop offset="0.8496" stop-color="#5f006d"/><stop offset="0.8684" stop-color="#550061"/><stop offset="1.0000" stop-color="#300036"/></linearGradient><linearGradient id="a32" gradientUnits="userSpaceOnUse" x1="48.85" y1="0" x2="314.90" y2="0"><stop offset="0.0000" stop-color="#4c00a0"/><stop offset="0.0019" stop-color="#4c00a0"/><stop offset="0.0038" stop-color="#7b008c"/><stop offset="0.0056" stop-color="#310038"/><stop offset="0.0940" stop-color="#310038"/><stop offset="0.1034" stop-color="#2c0032"/><stop offset="0.1861" stop-color="#2c0032"/><stop offset="0.1955" stop-color="#390041"/><stop offset="0.2030" stop-color="#580065"/><stop offset="0.2086" stop-color="#770088"/><stop offset="0.2237" stop-color="#860097"/><stop offset="0.2256" stop-color="#850099"/><stop offset="0.2274" stop-color="#6a009d"/><stop offset="0.2293" stop-color="#3f00a2"/><stop offset="0.2312" stop-color="#0a00a9"/><stop offset="0.2331" stop-color="#0000b6"/><stop offset="0.2368" stop-color="#0000cd"/><stop offset="0.2444" stop-color="#0000d9"/><stop offset="0.2744" stop-color="#0000dd"/><stop offset="0.2838" stop-color="#0000d5"/><stop offset="0.2876" stop-color="#0000dc"/><stop offset="0.2932" stop-color="#001ddd"/><stop offset="0.2970" stop-color="#003cdd"/><stop offset="0.2989" stop-color="#0047dd"/><stop offset="0.3008" stop-color="#0044dd"/><stop offset="0.3102" stop-color="#0014dd"/><stop offset="0.3177" stop-color="#0000dc"/><stop offset="0.3233" stop-color="#0000d5"/><stop offset="0.3816" stop-color="#0000dd"/><stop offset="0.3985" stop-color="#0016dd"/><stop offset="0.4417" stop-color="#0077dd"/><stop offset="0.5113" stop-color="#0099dd"/><stop offset="0.5188" stop-color="#009ad9"/><stop offset="0.5263" stop-color="#0099dd"/><stop offset="0.5489" stop-color="#008fdd"/><stop offset="0.5752" stop-color="#0075dd"/><stop offset="0.6128" stop-color="#0000dd"/><stop offset="0.6654" stop-color="#0000aa"/><stop offset="0.6692" stop-color="#0d00a8"/><stop offset="0.6898" stop-color="#74009c"/><stop offset="0.6955" stop-color="#880099"/><stop offset="0.7425" stop-color="#860097"/><stop offset="0.7444" stop-color="#003fdd"/><stop offset="0.7462" stop-color="#0092dd"/><stop offset="0.7500" stop-color="#0092dd"/><stop offset="0.7519" stop-color="#0000db"/><stop offset="0.7538" stop-color="#880099"/><stop offset="0.7575" stop-color="#880099"/><stop offset="0.7594" stop-color="#4f00a0"/><stop offset="0.7613" stop-color="#0000ce"/><stop offset="0.7838" stop-color="#0000cc"/><stop offset="0.7857" stop-color="#007edd"/><stop offset="0.7876" stop-color="#007edd"/><stop offset="0.7895" stop-color="#0000cf"/><stop offset="0.7914" stop-color="#3600a3"/><stop offset="0.7951" stop-color="#3600a3"/><stop offset="0.7970" stop-color="#0000b7"/><stop offset="0.7989" stop-color="#0092dd"/><stop offset="0.8045" stop-color="#0092dd"/><stop offset="0.8064" stop-color="#0000c2"/><stop offset="0.8083" stop-color="#0000b9"/><stop offset="0.8102" stop-color="#2f00a4"/><stop offset="0.8120" stop-color="#4400a2"/><stop offset="0.8139" stop-color="#2000a6"/><stop offset="0.8158" stop-color="#0000b9"/><stop offset="0.8177" stop-color="#60009e"/><stop offset="0.8195" stop-color="#4b00a1"/><stop offset="0.8214" stop-color="#0000b9"/><stop offset="0.8233" stop-color="#7e009a"/><stop offset="0.8252" stop-color="#6d009c"/><stop offset="0.8289" stop-color="#6d009c"/><stop offset="0.8308" stop-color="#7a008b"/><stop offset="0.8383" stop-color="#6a007a"/><stop offset="0.8496" stop-color="#60006d"/><stop offset="0.8684" stop-color="#550061"/><stop offset="1.0000" stop-color="#300036"/></linearGradient><linearGradient id="a33" gradientUnits="userSpaceOnUse" x1="48.85" y1="0" x2="314.90" y2="0"><stop offset="0.0000" stop-color="#4c00a0"/><stop offset="0.0019" stop-color="#4c00a0"/><stop offset="0.0038" stop-color="#7b008c"/><stop offset="0.0056" stop-color="#310038"/><stop offset="0.0940" stop-color="#310038"/><stop offset="0.1034" stop-color="#2c0032"/><stop offset="0.1861" stop-color="#2c0032"/><stop offset="0.1955" stop-color="#390042"/><stop offset="0.2030" stop-color="#590066"/><stop offset="0.2068" stop-color="#700080"/><stop offset="0.2086" stop-color="#780089"/><stop offset="0.2237" stop-color="#870098"/><stop offset="0.2256" stop-color="#81009a"/><stop offset="0.2274" stop-color="#66009d"/><stop offset="0.2293" stop-color="#3a00a3"/><stop offset="0.2312" stop-color="#0400aa"/><stop offset="0.2331" stop-color="#0000b8"/><stop offset="0.2368" stop-color="#0000d0"/><stop offset="0.2444" stop-color="#0000dc"/><stop offset="0.2744" stop-color="#0007dd"/><stop offset="0.2782" stop-color="#0000dc"/><stop offset="0.2838" stop-color="#0000d8"/><stop offset="0.2932" stop-color="#0000dd"/><stop offset="0.2989" stop-color="#0026dd"/><stop offset="0.3008" stop-color="#002add"/><stop offset="0.3120" stop-color="#002edd"/><stop offset="0.3214" stop-color="#0017dd"/><stop offset="0.3365" stop-color="#0027dd"/><stop offset="0.3496" stop-color="#0030dd"/><stop offset="0.3590" stop-color="#0031dd"/><stop offset="0.3741" stop-color="#002bdd"/><stop offset="0.3966" stop-color="#002fdd"/><stop offset="0.4079" stop-color="#003edd"/><stop offset="0.4380" stop-color="#0077dd"/><stop offset="0.5019" stop-color="#0099dd"/><stop offset="0.5188" stop-color="#009cd4"/><stop offset="0.5338" stop-color="#0099dd"/><stop offset="0.5489" stop-color="#0092dd"/><stop offset="0.5771" stop-color="#0077dd"/><stop offset="0.6147" stop-color="#0001dd"/><stop offset="0.6165" stop-color="#0000dc"/><stop offset="0.6673" stop-color="#0000ab"/><stop offset="0.6786" stop-color="#3400a4"/><stop offset="0.6898" stop-color="#6f009c"/><stop offset="0.6955" stop-color="#840099"/><stop offset="0.6974" stop-color="#880099"/><stop offset="0.7425" stop-color="#870098"/><stop offset="0.7444" stop-color="#0040dd"/><stop offset="0.7462" stop-color="#0092dd"/><stop offset="0.7500" stop-color="#0092dd"/><stop offset="0.7519" stop-color="#0000db"/><stop offset="0.7538" stop-color="#880099"/><stop offset="0.7575" stop-color="#880099"/><stop offset="0.7594" stop-color="#4f00a0"/><stop offset="0.7613" stop-color="#0000ce"/><stop offset="0.7838" stop-color="#0000cc"/><stop offset="0.7857" stop-color="#007edd"/><stop offset="0.7876" stop-color="#007edd"/><stop offset="0.7895" stop-color="#0000cf"/><stop offset="0.7914" stop-color="#3600a3"/><stop offset="0.7951" stop-color="#3600a3"/><stop offset="0.7970" stop-color="#0000b7"/><stop offset="0.7989" stop-color="#0092dd"/><stop offset="0.8045" stop-color="#0092dd"/><stop offset="0.8064" stop-color="#0000c2"/><stop offset="0.8083" stop-color="#0000b9"/><stop offset="0.8102" stop-color="#2e00a4"/><stop offset="0.8120" stop-color="#4400a2"/><stop offset="0.8139" stop-color="#2000a6"/><stop offset="0.8158" stop-color="#0000b9"/><stop offset="0.8177" stop-color="#60009e"/><stop offset="0.8195" stop-color="#4a00a1"/><stop offset="0.8214" stop-color="#0000b9"/><stop offset="0.8233" stop-color="#7e009a"/><stop offset="0.8252" stop-color="#6d009c"/><stop offset="0.8289" stop-color="#6d009c"/><stop offset="0.8308" stop-color="#7a008b"/><stop offset="0.8402" stop-color="#690078"/><stop offset="0.8684" stop-color="#550062"/><stop offset="1.0000" stop-color="#300036"/></linearGradient><linearGradient id="a34" gradientUnits="userSpaceOnUse" x1="48.85" y1="0" x2="314.90" y2="0"><stop offset="0.0000" stop-color="#4c00a0"/><stop offset="0.0019" stop-color="#4c00a0"/><stop offset="0.0038" stop-color="#7b008c"/><stop offset="0.0056" stop-color="#310038"/><stop offset="0.0940" stop-color="#310038"/><stop offset="0.1034" stop-color="#2c0032"/><stop offset="0.1861" stop-color="#2c0032"/><stop offset="0.1955" stop-color="#3a0042"/><stop offset="0.2030" stop-color="#590066"/><stop offset="0.2068" stop-color="#700080"/><stop offset="0.2086" stop-color="#780089"/><stop offset="0.2237" stop-color="#870098"/><stop offset="0.2256" stop-color="#80009a"/><stop offset="0.2274" stop-color="#65009d"/><stop offset="0.2293" stop-color="#3900a3"/><stop offset="0.2312" stop-color="#0300aa"/><stop offset="0.2368" stop-color="#0000d0"/><stop offset="0.2444" stop-color="#0000dd"/><stop offset="0.2744" stop-color="#0008dd"/><stop offset="0.2782" stop-color="#0000dd"/><stop offset="0.2838" stop-color="#0000d8"/><stop offset="0.2932" stop-color="#0000da"/><stop offset="0.2951" stop-color="#0004dd"/><stop offset="0.2989" stop-color="#0020dd"/><stop offset="0.3008" stop-color="#0025dd"/><stop offset="0.3120" stop-color="#0033dd"/><stop offset="0.3214" stop-color="#001fdd"/><stop offset="0.3365" stop-color="#0032dd"/><stop offset="0.3496" stop-color="#003cdd"/><stop offset="0.3590" stop-color="#003cdd"/><stop offset="0.3741" stop-color="#0035dd"/><stop offset="0.3985" stop-color="#0035dd"/><stop offset="0.4098" stop-color="#0044dd"/><stop offset="0.4361" stop-color="#0077dd"/><stop offset="0.5019" stop-color="#0099dd"/><stop offset="0.5188" stop-color="#009cd3"/><stop offset="0.5357" stop-color="#0099dd"/><stop offset="0.5489" stop-color="#0093dd"/><stop offset="0.5771" stop-color="#0078dd"/><stop offset="0.6147" stop-color="#0003dd"/><stop offset="0.6165" stop-color="#0000dc"/><stop offset="0.6673" stop-color="#0000ab"/><stop offset="0.6692" stop-color="#0600a9"/><stop offset="0.6786" stop-color="#3300a4"/><stop offset="0.6898" stop-color="#6f009c"/><stop offset="0.6974" stop-color="#880099"/><stop offset="0.7425" stop-color="#870098"/><stop offset="0.7444" stop-color="#0040dd"/><stop offset="0.7462" stop-color="#0092dd"/><stop offset="0.7500" stop-color="#0092dd"/><stop offset="0.7519" stop-color="#0000db"/><stop offset="0.7538" stop-color="#880099"/><stop offset="0.7575" stop-color="#880099"/><stop offset="0.7594" stop-color="#4f00a0"/><stop offset="0.7613" stop-color="#0000ce"/><stop offset="0.7838" stop-color="#0000cc"/><stop offset="0.7857" stop-color="#007edd"/><stop offset="0.7876" stop-color="#007edd"/><stop offset="0.7895" stop-color="#0000cf"/><stop offset="0.7914" stop-color="#3600a3"/><stop offset="0.7951" stop-color="#3600a3"/><stop offset="0.7970" stop-color="#0000b7"/><stop offset="0.7989" stop-color="#0092dd"/><stop offset="0.8045" stop-color="#0092dd"/><stop offset="0.8064" stop-color="#0000c2"/><stop offset="0.8083" stop-color="#0000b9"/><stop offset="0.8102" stop-color="#2e00a4"/><stop offset="0.8120" stop-color="#4400a2"/><stop offset="0.8139" stop-color="#2000a6"/><stop offset="0.8158" stop-color="#0000b9"/><stop offset="0.8177" stop-color="#60009e"/><stop offset="0.8195" stop-color="#4a00a1"/><stop offset="0.8214" stop-color="#0000b9"/><stop offset="0.8233" stop-color="#7e009a"/><stop offset="0.8252" stop-color="#6d009c"/><stop offset="0.8289" stop-color="#6d009c"/><stop offset="0.8308" stop-color="#7a008b"/><stop offset="0.8402" stop-color="#6a0079"/><stop offset="0.8684" stop-color="#560062"/><stop offset="1.0000" stop-color="#300037"/></linearGradient><linearGradient id="a35" gradientUnits="userSpaceOnUse" x1="48.85" y1="0" x2="314.90" y2="0"><stop offset="0.0000" stop-color="#4c00a0"/><stop offset="0.0019" stop-color="#4c00a0"/><stop offset="0.0038" stop-color="#7b008c"/><stop offset="0.0056" stop-color="#310038"/><stop offset="0.0940" stop-color="#310038"/><stop offset="0.1034" stop-color="#2c0032"/><stop offset="0.1861" stop-color="#2c0032"/><stop offset="0.1955" stop-color="#3a0042"/><stop offset="0.2030" stop-color="#5a0066"/><stop offset="0.2068" stop-color="#710081"/><stop offset="0.2086" stop-color="#780089"/><stop offset="0.2237" stop-color="#870098"/><stop offset="0.2256" stop-color="#7f009a"/><stop offset="0.2274" stop-color="#63009e"/><stop offset="0.2293" stop-color="#3700a3"/><stop offset="0.2312" stop-color="#0000aa"/><stop offset="0.2331" stop-color="#0000ba"/><stop offset="0.2368" stop-color="#0000d1"/><stop offset="0.2444" stop-color="#0003dd"/><stop offset="0.2744" stop-color="#000cdd"/><stop offset="0.2801" stop-color="#0000dc"/><stop offset="0.2932" stop-color="#0000dc"/><stop offset="0.2951" stop-color="#0007dd"/><stop offset="0.2989" stop-color="#0023dd"/><stop offset="0.3120" stop-color="#0037dd"/><stop offset="0.3214" stop-color="#0022dd"/><stop offset="0.3365" stop-color="#0035dd"/><stop offset="0.3496" stop-color="#003fdd"/><stop offset="0.3590" stop-color="#0040dd"/><stop offset="0.3741" stop-color="#0038dd"/><stop offset="0.3985" stop-color="#0039dd"/><stop offset="0.4117" stop-color="#004cdd"/><stop offset="0.4323" stop-color="#0078dd"/><stop offset="0.4624" stop-color="#008cdd"/><stop offset="0.4925" stop-color="#0099dd"/><stop offset="0.5188" stop-color="#009dd0"/><stop offset="0.5376" stop-color="#0099dd"/><stop offset="0.5489" stop-color="#0095dd"/><stop offset="0.5808" stop-color="#0078dd"/><stop offset="0.5959" stop-color="#0042dd"/><stop offset="0.6147" stop-color="#0006dd"/><stop offset="0.6184" stop-color="#0000dc"/><stop offset="0.6673" stop-color="#0000ac"/><stop offset="0.6692" stop-color="#0300aa"/><stop offset="0.6898" stop-color="#6d009c"/><stop offset="0.6974" stop-color="#880099"/><stop offset="0.7425" stop-color="#870098"/><stop offset="0.7444" stop-color="#0040dd"/><stop offset="0.7462" stop-color="#0092dd"/><stop offset="0.7500" stop-color="#0092dd"/><stop offset="0.7519" stop-color="#0000db"/><stop offset="0.7538" stop-color="#880099"/><stop offset="0.7575" stop-color="#880099"/><stop offset="0.7594" stop-color="#4e00a0"/><stop offset="0.7613" stop-color="#0000ce"/><stop offset="0.7838" stop-color="#0000cc"/><stop offset="0.7857" stop-color="#007edd"/><stop offset="0.7876" stop-color="#007edd"/><stop offset="0.7895" stop-color="#0000cf"/><stop offset="0.7914" stop-color="#3600a3"/><stop offset="0.7951" stop-color="#3600a3"/><stop offset="0.7970" stop-color="#0000b7"/><stop offset="0.7989" stop-color="#0092dd"/><stop offset="0.8045" stop-color="#0092dd"/><stop offset="0.8064" stop-color="#0000c2"/><stop offset="0.8083" stop-color="#0000b9"/><stop offset="0.8102" stop-color="#2e00a4"/><stop offset="0.8120" stop-color="#4400a2"/><stop offset="0.8139" stop-color="#2000a6"/><stop offset="0.8158" stop-color="#0000b9"/><stop offset="0.8177" stop-color="#60009e"/><stop offset="0.8195" stop-color="#4a00a1"/><stop offset="0.8214" stop-color="#0000b9"/><stop offset="0.8233" stop-color="#7d009a"/><stop offset="0.8252" stop-color="#6d009c"/><stop offset="0.8289" stop-color="#6d009c"/><stop offset="0.8308" stop-color="#7a008b"/><stop offset="0.8402" stop-color="#6a0079"/><stop offset="0.8684" stop-color="#560062"/><stop offset="1.0000" stop-color="#300037"/></linearGradient><linearGradient id="a36" gradientUnits="userSpaceOnUse" x1="48.85" y1="0" x2="314.90" y2="0"><stop offset="0.0000" stop-color="#4c00a0"/><stop offset="0.0019" stop-color="#4c00a0"/><stop offset="0.0038" stop-color="#7b008c"/><stop offset="0.0056" stop-color="#310038"/><stop offset="0.0940" stop-color="#310038"/><stop offset="0.1034" stop-color="#2c0032"/><stop offset="0.1861" stop-color="#2c0032"/><stop offset="0.1955" stop-color="#3a0042"/><stop offset="0.2030" stop-color="#5b0068"/><stop offset="0.2068" stop-color="#720082"/><stop offset="0.2086" stop-color="#780089"/><stop offset="0.2237" stop-color="#880099"/><stop offset="0.2256" stop-color="#79009b"/><stop offset="0.2274" stop-color="#5d009e"/><stop offset="0.2312" stop-color="#0000ad"/><stop offset="0.2331" stop-color="#0000bd"/><stop offset="0.2368" stop-color="#0000d5"/><stop offset="0.2406" stop-color="#0000dd"/><stop offset="0.2444" stop-color="#000cdd"/><stop offset="0.2462" stop-color="#000fdd"/><stop offset="0.2744" stop-color="#0015dd"/><stop offset="0.2820" stop-color="#0003dd"/><stop offset="0.2932" stop-color="#0006dd"/><stop offset="0.2989" stop-color="#002ddd"/><stop offset="0.3008" stop-color="#0033dd"/><stop offset="0.3120" stop-color="#0041dd"/><stop offset="0.3214" stop-color="#002bdd"/><stop offset="0.3365" stop-color="#003fdd"/><stop offset="0.3496" stop-color="#0049dd"/><stop offset="0.3590" stop-color="#0049dd"/><stop offset="0.3741" stop-color="#0042dd"/><stop offset="0.3985" stop-color="#0044dd"/><stop offset="0.4117" stop-color="#0057dd"/><stop offset="0.4229" stop-color="#0076dd"/><stop offset="0.4549" stop-color="#009adb"/><stop offset="0.4643" stop-color="#009dd2"/><stop offset="0.4737" stop-color="#009ecd"/><stop offset="0.5056" stop-color="#009ecf"/><stop offset="0.5188" stop-color="#009fca"/><stop offset="0.5395" stop-color="#009bd7"/><stop offset="0.5602" stop-color="#0098dd"/><stop offset="0.5771" stop-color="#0087dd"/><stop offset="0.5865" stop-color="#0078dd"/><stop offset="0.5977" stop-color="#0047dd"/><stop offset="0.6147" stop-color="#0010dd"/><stop offset="0.6222" stop-color="#0000dd"/><stop offset="0.6692" stop-color="#0000ac"/><stop offset="0.6711" stop-color="#0400a9"/><stop offset="0.6786" stop-color="#2a00a5"/><stop offset="0.6898" stop-color="#67009d"/><stop offset="0.6974" stop-color="#84009a"/><stop offset="0.7425" stop-color="#880099"/><stop offset="0.7444" stop-color="#0042dd"/><stop offset="0.7462" stop-color="#0092dd"/><stop offset="0.7500" stop-color="#0092dd"/><stop offset="0.7519" stop-color="#0000dc"/><stop offset="0.7538" stop-color="#880099"/><stop offset="0.7575" stop-color="#880099"/><stop offset="0.7594" stop-color="#4d00a0"/><stop offset="0.7613" stop-color="#0000ce"/><stop offset="0.7838" stop-color="#0000cc"/><stop offset="0.7857" stop-color="#007edd"/><stop offset="0.7876" stop-color="#007edd"/><stop offset="0.7895" stop-color="#0000cf"/><stop offset="0.7914" stop-color="#3600a3"/><stop offset="0.7951" stop-color="#3600a3"/><stop offset="0.7970" stop-color="#0000b7"/><stop offset="0.7989" stop-color="#0092dd"/><stop offset="0.8045" stop-color="#0092dd"/><stop offset="0.8064" stop-color="#0000c2"/><stop offset="0.8083" stop-color="#0000b9"/><stop offset="0.8102" stop-color="#2d00a4"/><stop offset="0.8120" stop-color="#4400a2"/><stop offset="0.8139" stop-color="#1f00a6"/><stop offset="0.8158" stop-color="#0000b9"/><stop offset="0.8177" stop-color="#5f009e"/><stop offset="0.8195" stop-color="#4a00a1"/><stop offset="0.8214" stop-color="#0000b9"/><stop offset="0.8233" stop-color="#7d009a"/><stop offset="0.8252" stop-color="#6d009c"/><stop offset="0.8289" stop-color="#6d009c"/><stop offset="0.8308" stop-color="#7a008b"/><stop offset="0.8383" stop-color="#6e007d"/><stop offset="0.8496" stop-color="#620070"/><stop offset="0.8684" stop-color="#570063"/><stop offset="1.0000" stop-color="#300037"/></linearGradient><linearGradient id="a37" gradientUnits="userSpaceOnUse" x1="48.85" y1="0" x2="314.90" y2="0"><stop offset="0.0000" stop-color="#4c00a0"/><stop offset="0.0019" stop-color="#4c00a0"/><stop offset="0.0038" stop-color="#7a008b"/><stop offset="0.0056" stop-color="#27002d"/><stop offset="0.0940" stop-color="#27002d"/><stop offset="0.1147" stop-color="#230028"/><stop offset="0.1861" stop-color="#240029"/><stop offset="0.1955" stop-color="#2b0031"/><stop offset="0.2030" stop-color="#3b0043"/><stop offset="0.2199" stop-color="#750085"/><stop offset="0.2350" stop-color="#870098"/><stop offset="0.2387" stop-color="#79009b"/><stop offset="0.2444" stop-color="#71009c"/><stop offset="0.2519" stop-color="#6e009c"/><stop offset="0.2744" stop-color="#6d009c"/><stop offset="0.2820" stop-color="#77009b"/><stop offset="0.2914" stop-color="#76009b"/><stop offset="0.2951" stop-color="#6c009c"/><stop offset="0.2989" stop-color="#5c009f"/><stop offset="0.3120" stop-color="#5100a0"/><stop offset="0.3214" stop-color="#5d009e"/><stop offset="0.3402" stop-color="#5000a0"/><stop offset="0.3421" stop-color="#5300a0"/><stop offset="0.3590" stop-color="#4e00a0"/><stop offset="0.3778" stop-color="#5300a0"/><stop offset="0.4004" stop-color="#5100a0"/><stop offset="0.4192" stop-color="#3b00a3"/><stop offset="0.4474" stop-color="#0000ab"/><stop offset="0.4699" stop-color="#0000b8"/><stop offset="0.5188" stop-color="#0000b9"/><stop offset="0.5357" stop-color="#0000b4"/><stop offset="0.5508" stop-color="#0000b3"/><stop offset="0.5695" stop-color="#0000aa"/><stop offset="0.5752" stop-color="#0d00a8"/><stop offset="0.5902" stop-color="#3b00a3"/><stop offset="0.5977" stop-color="#4e00a0"/><stop offset="0.6147" stop-color="#6d009c"/><stop offset="0.6372" stop-color="#880099"/><stop offset="0.6974" stop-color="#79008a"/><stop offset="0.7425" stop-color="#79008a"/><stop offset="0.7444" stop-color="#5000a0"/><stop offset="0.7462" stop-color="#0000ac"/><stop offset="0.7500" stop-color="#0000ac"/><stop offset="0.7519" stop-color="#77009b"/><stop offset="0.7538" stop-color="#79008a"/><stop offset="0.7575" stop-color="#79008a"/><stop offset="0.7594" stop-color="#7d008e"/><stop offset="0.7613" stop-color="#870098"/><stop offset="0.7838" stop-color="#870098"/><stop offset="0.7857" stop-color="#2400a6"/><stop offset="0.7876" stop-color="#2400a6"/><stop offset="0.7895" stop-color="#880099"/><stop offset="0.7914" stop-color="#7e008f"/><stop offset="0.7951" stop-color="#7e008f"/><stop offset="0.7970" stop-color="#840095"/><stop offset="0.7989" stop-color="#0000aa"/><stop offset="0.8045" stop-color="#0000aa"/><stop offset="0.8064" stop-color="#850096"/><stop offset="0.8120" stop-color="#7d008e"/><stop offset="0.8158" stop-color="#840095"/><stop offset="0.8177" stop-color="#7c008d"/><stop offset="0.8195" stop-color="#7d008e"/><stop offset="0.8214" stop-color="#840095"/><stop offset="0.8233" stop-color="#7a008b"/><stop offset="0.8289" stop-color="#7b008c"/><stop offset="0.8308" stop-color="#550061"/><stop offset="0.8327" stop-color="#4b0056"/><stop offset="0.8402" stop-color="#44004d"/><stop offset="0.8684" stop-color="#390042"/><stop offset="0.9023" stop-color="#37003f"/><stop offset="0.9305" stop-color="#300037"/><stop offset="1.0000" stop-color="#26002c"/></linearGradient><linearGradient id="a38" gradientUnits="userSpaceOnUse" x1="48.85" y1="0" x2="314.90" y2="0"><stop offset="0.0000" stop-color="#4c00a0"/><stop offset="0.0019" stop-color="#4c00a0"/><stop offset="0.0038" stop-color="#79008a"/><stop offset="0.0056" stop-color="#1e0022"/><stop offset="0.0320" stop-color="#1e0022"/><stop offset="0.0338" stop-color="#1a001e"/><stop offset="0.0808" stop-color="#1a001d"/><stop offset="0.0827" stop-color="#1d0021"/><stop offset="0.1429" stop-color="#1a001d"/><stop offset="0.1447" stop-color="#1d0021"/><stop offset="0.1579" stop-color="#1e0023"/><stop offset="0.2237" stop-color="#1a001e"/><stop offset="0.2256" stop-color="#200025"/><stop offset="0.2387" stop-color="#200025"/><stop offset="0.2406" stop-color="#1b001f"/><stop offset="0.2650" stop-color="#1d0021"/><stop offset="0.2669" stop-color="#19001d"/><stop offset="0.2726" stop-color="#19001d"/><stop offset="0.2914" stop-color="#1a001e"/><stop offset="0.2932" stop-color="#200025"/><stop offset="0.3177" stop-color="#200025"/><stop offset="0.3402" stop-color="#1f0023"/><stop offset="0.3421" stop-color="#19001d"/><stop offset="0.3571" stop-color="#19001d"/><stop offset="0.3590" stop-color="#1c0020"/><stop offset="0.4004" stop-color="#1a001e"/><stop offset="0.4023" stop-color="#200025"/><stop offset="0.4305" stop-color="#1b001f"/><stop offset="0.4605" stop-color="#1b001f"/><stop offset="0.4624" stop-color="#1f0023"/><stop offset="0.4718" stop-color="#1f0023"/><stop offset="0.5357" stop-color="#19001d"/><stop offset="0.5376" stop-color="#210026"/><stop offset="0.5508" stop-color="#210026"/><stop offset="0.5526" stop-color="#1d0021"/><stop offset="0.6523" stop-color="#200025"/><stop offset="0.6541" stop-color="#1d0021"/><stop offset="0.7030" stop-color="#1d0021"/><stop offset="0.7049" stop-color="#1a001d"/><stop offset="0.7293" stop-color="#1a001d"/><stop offset="0.7312" stop-color="#200025"/><stop offset="0.7519" stop-color="#200025"/><stop offset="0.7538" stop-color="#1a001e"/><stop offset="0.7838" stop-color="#1a001e"/><stop offset="0.7857" stop-color="#200025"/><stop offset="0.7970" stop-color="#200025"/><stop offset="0.7989" stop-color="#19001d"/><stop offset="0.8139" stop-color="#19001d"/><stop offset="0.8158" stop-color="#1c0020"/><stop offset="0.8872" stop-color="#1c0020"/><stop offset="0.8891" stop-color="#200025"/><stop offset="0.9286" stop-color="#1f0024"/><stop offset="0.9305" stop-color="#1a001e"/><stop offset="0.9586" stop-color="#1a001e"/><stop offset="0.9605" stop-color="#200024"/><stop offset="1.0000" stop-color="#1d0021"/></linearGradient><linearGradient id="a39" gradientUnits="userSpaceOnUse" x1="48.85" y1="0" x2="314.90" y2="0"><stop offset="0.0000" stop-color="#4c00a0"/><stop offset="0.0019" stop-color="#4c00a0"/><stop offset="0.0038" stop-color="#7a008b"/><stop offset="0.0056" stop-color="#2c0032"/><stop offset="0.1842" stop-color="#28002e"/><stop offset="0.1917" stop-color="#44004d"/><stop offset="0.1974" stop-color="#700080"/><stop offset="0.1992" stop-color="#780089"/><stop offset="0.2049" stop-color="#800091"/><stop offset="0.2068" stop-color="#7b009b"/><stop offset="0.2086" stop-color="#1800a7"/><stop offset="0.2105" stop-color="#0000be"/><stop offset="0.2124" stop-color="#0000da"/><stop offset="0.2162" stop-color="#005fdd"/><stop offset="0.2180" stop-color="#007edd"/><stop offset="0.2199" stop-color="#008ddd"/><stop offset="0.2218" stop-color="#009bd8"/><stop offset="0.2256" stop-color="#00a9ad"/><stop offset="0.2274" stop-color="#00aaa1"/><stop offset="0.2368" stop-color="#00aa9a"/><stop offset="0.2500" stop-color="#00aa97"/><stop offset="0.2575" stop-color="#00aa88"/><stop offset="0.2650" stop-color="#00a457"/><stop offset="0.2820" stop-color="#00a037"/><stop offset="0.2838" stop-color="#00a036"/><stop offset="0.3008" stop-color="#00a13e"/><stop offset="0.3158" stop-color="#00a879"/><stop offset="0.3195" stop-color="#00aa85"/><stop offset="0.3346" stop-color="#00aa91"/><stop offset="0.3665" stop-color="#00aa9a"/><stop offset="0.4361" stop-color="#00aa95"/><stop offset="0.4624" stop-color="#00aaa1"/><stop offset="0.4925" stop-color="#00aa94"/><stop offset="0.5376" stop-color="#00aa97"/><stop offset="0.5639" stop-color="#00aa9d"/><stop offset="0.6053" stop-color="#00a4bd"/><stop offset="0.6165" stop-color="#009dd1"/><stop offset="0.6259" stop-color="#0099dd"/><stop offset="0.6654" stop-color="#0077dd"/><stop offset="0.6748" stop-color="#005add"/><stop offset="0.7030" stop-color="#0017dd"/><stop offset="0.7105" stop-color="#0002dd"/><stop offset="0.7124" stop-color="#0000db"/><stop offset="0.7425" stop-color="#0000b9"/><stop offset="0.7444" stop-color="#0012dd"/><stop offset="0.7462" stop-color="#0044dd"/><stop offset="0.7500" stop-color="#0044dd"/><stop offset="0.7519" stop-color="#0000d7"/><stop offset="0.7538" stop-color="#0000ad"/><stop offset="0.7594" stop-color="#0000ac"/><stop offset="0.7613" stop-color="#0d00a8"/><stop offset="0.7801" stop-color="#0d00a8"/><stop offset="0.7820" stop-color="#0000bb"/><stop offset="0.7838" stop-color="#0030dd"/><stop offset="0.7857" stop-color="#0032dd"/><stop offset="0.7876" stop-color="#0032dd"/><stop offset="0.7895" stop-color="#0000d0"/><stop offset="0.7914" stop-color="#0000ad"/><stop offset="0.7951" stop-color="#0000ad"/><stop offset="0.7970" stop-color="#0000c1"/><stop offset="0.7989" stop-color="#0042dd"/><stop offset="0.8045" stop-color="#0042dd"/><stop offset="0.8064" stop-color="#1e00a6"/><stop offset="0.8083" stop-color="#2200a6"/><stop offset="0.8195" stop-color="#2100a6"/><stop offset="0.8214" stop-color="#2600a5"/><stop offset="0.8233" stop-color="#3500a3"/><stop offset="0.8383" stop-color="#850099"/><stop offset="0.8402" stop-color="#880099"/><stop offset="0.8553" stop-color="#820093"/><stop offset="0.8571" stop-color="#860097"/><stop offset="0.8590" stop-color="#3500a3"/><stop offset="0.8628" stop-color="#3500a3"/><stop offset="0.8647" stop-color="#5c009e"/><stop offset="0.8665" stop-color="#810092"/><stop offset="0.9060" stop-color="#7f0090"/><stop offset="0.9417" stop-color="#770088"/><stop offset="0.9586" stop-color="#560063"/><stop offset="0.9887" stop-color="#25002a"/><stop offset="1.0000" stop-color="#200025"/></linearGradient><linearGradient id="a40" gradientUnits="userSpaceOnUse" x1="48.85" y1="0" x2="314.90" y2="0"><stop offset="0.0000" stop-color="#4c00a0"/><stop offset="0.0019" stop-color="#4c00a0"/><stop offset="0.0038" stop-color="#7b008c"/><stop offset="0.0056" stop-color="#310038"/><stop offset="0.0940" stop-color="#310038"/><stop offset="0.1034" stop-color="#2c0032"/><stop offset="0.1842" stop-color="#2c0032"/><stop offset="0.1917" stop-color="#51005c"/><stop offset="0.1955" stop-color="#770088"/><stop offset="0.2049" stop-color="#870098"/><stop offset="0.2068" stop-color="#2600a5"/><stop offset="0.2086" stop-color="#0000cd"/><stop offset="0.2105" stop-color="#0034dd"/><stop offset="0.2124" stop-color="#007ddd"/><stop offset="0.2143" stop-color="#0092dd"/><stop offset="0.2162" stop-color="#009ecd"/><stop offset="0.2180" stop-color="#00a7b2"/><stop offset="0.2218" stop-color="#00a980"/><stop offset="0.2237" stop-color="#009f2e"/><stop offset="0.2256" stop-color="#009e00"/><stop offset="0.2274" stop-color="#00ae00"/><stop offset="0.2368" stop-color="#00b700"/><stop offset="0.2481" stop-color="#00b800"/><stop offset="0.2650" stop-color="#00df00"/><stop offset="0.2838" stop-color="#00ea00"/><stop offset="0.3008" stop-color="#00e700"/><stop offset="0.3158" stop-color="#00d300"/><stop offset="0.3346" stop-color="#00c200"/><stop offset="0.3647" stop-color="#00b800"/><stop offset="0.3985" stop-color="#00b800"/><stop offset="0.4361" stop-color="#00be00"/><stop offset="0.4624" stop-color="#00ae00"/><stop offset="0.4925" stop-color="#00be00"/><stop offset="0.5376" stop-color="#00bb00"/><stop offset="0.5639" stop-color="#00b200"/><stop offset="0.5789" stop-color="#00a000"/><stop offset="0.5940" stop-color="#009900"/><stop offset="0.6053" stop-color="#009d22"/><stop offset="0.6165" stop-color="#00a66a"/><stop offset="0.6222" stop-color="#00aa84"/><stop offset="0.6241" stop-color="#00aa89"/><stop offset="0.6541" stop-color="#00aaab"/><stop offset="0.6729" stop-color="#009ecd"/><stop offset="0.6861" stop-color="#0098dd"/><stop offset="0.7199" stop-color="#0076dd"/><stop offset="0.7425" stop-color="#0025dd"/><stop offset="0.7444" stop-color="#0086dd"/><stop offset="0.7462" stop-color="#0099dd"/><stop offset="0.7500" stop-color="#0099dd"/><stop offset="0.7519" stop-color="#007add"/><stop offset="0.7538" stop-color="#0000dd"/><stop offset="0.7594" stop-color="#0000db"/><stop offset="0.7613" stop-color="#0000d3"/><stop offset="0.7801" stop-color="#0000d3"/><stop offset="0.7820" stop-color="#002cdd"/><stop offset="0.7838" stop-color="#0092dd"/><stop offset="0.7876" stop-color="#0092dd"/><stop offset="0.7895" stop-color="#006add"/><stop offset="0.7914" stop-color="#0000dd"/><stop offset="0.7951" stop-color="#0000dd"/><stop offset="0.7970" stop-color="#003bdd"/><stop offset="0.7989" stop-color="#0099dd"/><stop offset="0.8045" stop-color="#0099dd"/><stop offset="0.8064" stop-color="#0000ca"/><stop offset="0.8195" stop-color="#0000c9"/><stop offset="0.8308" stop-color="#0000ab"/><stop offset="0.8383" stop-color="#3300a4"/><stop offset="0.8402" stop-color="#3d00a2"/><stop offset="0.8534" stop-color="#79009b"/><stop offset="0.8553" stop-color="#7b009b"/><stop offset="0.8571" stop-color="#4900a1"/><stop offset="0.8590" stop-color="#0000be"/><stop offset="0.8628" stop-color="#0000be"/><stop offset="0.8647" stop-color="#0000ab"/><stop offset="0.8665" stop-color="#81009a"/><stop offset="0.8797" stop-color="#880099"/><stop offset="0.9060" stop-color="#860097"/><stop offset="0.9530" stop-color="#770088"/><stop offset="0.9887" stop-color="#27002c"/><stop offset="1.0000" stop-color="#210026"/></linearGradient><linearGradient id="a41" gradientUnits="userSpaceOnUse" x1="48.85" y1="0" x2="314.90" y2="0"><stop offset="0.0000" stop-color="#4c00a0"/><stop offset="0.0019" stop-color="#4c00a0"/><stop offset="0.0038" stop-color="#7b008c"/><stop offset="0.0056" stop-color="#310038"/><stop offset="0.0940" stop-color="#310038"/><stop offset="0.1034" stop-color="#2c0032"/><stop offset="0.1842" stop-color="#2c0032"/><stop offset="0.1917" stop-color="#51005c"/><stop offset="0.1955" stop-color="#770088"/><stop offset="0.2049" stop-color="#870098"/><stop offset="0.2068" stop-color="#2600a5"/><stop offset="0.2086" stop-color="#0000cd"/><stop offset="0.2105" stop-color="#0034dd"/><stop offset="0.2124" stop-color="#007ddd"/><stop offset="0.2143" stop-color="#0092dd"/><stop offset="0.2162" stop-color="#009ecd"/><stop offset="0.2180" stop-color="#00a7b2"/><stop offset="0.2218" stop-color="#00a980"/><stop offset="0.2237" stop-color="#009f2e"/><stop offset="0.2256" stop-color="#009e00"/><stop offset="0.2274" stop-color="#00ae00"/><stop offset="0.2368" stop-color="#00b700"/><stop offset="0.2481" stop-color="#00b800"/><stop offset="0.2650" stop-color="#00df00"/><stop offset="0.2838" stop-color="#00ea00"/><stop offset="0.3008" stop-color="#00e700"/><stop offset="0.3158" stop-color="#00d300"/><stop offset="0.3346" stop-color="#00c200"/><stop offset="0.3647" stop-color="#00b800"/><stop offset="0.3985" stop-color="#00b800"/><stop offset="0.4361" stop-color="#00be00"/><stop offset="0.4624" stop-color="#00ae00"/><stop offset="0.4925" stop-color="#00be00"/><stop offset="0.5376" stop-color="#00bb00"/><stop offset="0.5639" stop-color="#00b200"/><stop offset="0.5789" stop-color="#00a000"/><stop offset="0.5940" stop-color="#009900"/><stop offset="0.6053" stop-color="#009d22"/><stop offset="0.6165" stop-color="#00a66a"/><stop offset="0.6222" stop-color="#00aa84"/><stop offset="0.6241" stop-color="#00aa89"/><stop offset="0.6541" stop-color="#00aaab"/><stop offset="0.6729" stop-color="#009ecd"/><stop offset="0.6861" stop-color="#0098dd"/><stop offset="0.7199" stop-color="#0076dd"/><stop offset="0.7425" stop-color="#0025dd"/><stop offset="0.7444" stop-color="#0086dd"/><stop offset="0.7462" stop-color="#0099dd"/><stop offset="0.7500" stop-color="#0099dd"/><stop offset="0.7519" stop-color="#007add"/><stop offset="0.7538" stop-color="#0000dd"/><stop offset="0.7594" stop-color="#0000db"/><stop offset="0.7613" stop-color="#0000d3"/><stop offset="0.7801" stop-color="#0000d3"/><stop offset="0.7820" stop-color="#002cdd"/><stop offset="0.7838" stop-color="#0092dd"/><stop offset="0.7876" stop-color="#0092dd"/><stop offset="0.7895" stop-color="#006add"/><stop offset="0.7914" stop-color="#0000dd"/><stop offset="0.7951" stop-color="#0000dd"/><stop offset="0.7970" stop-color="#003bdd"/><stop offset="0.7989" stop-color="#0099dd"/><stop offset="0.8045" stop-color="#0099dd"/><stop offset="0.8064" stop-color="#0000ca"/><stop offset="0.8195" stop-color="#0000c9"/><stop offset="0.8308" stop-color="#0000ab"/><stop offset="0.8383" stop-color="#3300a4"/><stop offset="0.8402" stop-color="#3d00a2"/><stop offset="0.8534" stop-color="#79009b"/><stop offset="0.8553" stop-color="#7b009b"/><stop offset="0.8571" stop-color="#5200a0"/><stop offset="0.8590" stop-color="#0000b3"/><stop offset="0.8628" stop-color="#0000bb"/><stop offset="0.8647" stop-color="#0400a9"/><stop offset="0.8665" stop-color="#81009a"/><stop offset="0.8797" stop-color="#880099"/><stop offset="0.9060" stop-color="#860097"/><stop offset="0.9530" stop-color="#770088"/><stop offset="0.9887" stop-color="#27002c"/><stop offset="1.0000" stop-color="#210026"/></linearGradient><linearGradient id="a42" gradientUnits="userSpaceOnUse" x1="48.85" y1="0" x2="314.90" y2="0"><stop offset="0.0000" stop-color="#4c00a0"/><stop offset="0.0019" stop-color="#4c00a0"/><stop offset="0.0038" stop-color="#7b008c"/><stop offset="0.0056" stop-color="#310038"/><stop offset="0.0940" stop-color="#310038"/><stop offset="0.1034" stop-color="#2c0032"/><stop offset="0.1842" stop-color="#2c0032"/><stop offset="0.1917" stop-color="#51005c"/><stop offset="0.1955" stop-color="#770088"/><stop offset="0.2049" stop-color="#870098"/><stop offset="0.2068" stop-color="#2600a5"/><stop offset="0.2086" stop-color="#0000cd"/><stop offset="0.2105" stop-color="#0034dd"/><stop offset="0.2124" stop-color="#007ddd"/><stop offset="0.2143" stop-color="#0092dd"/><stop offset="0.2162" stop-color="#009ecd"/><stop offset="0.2180" stop-color="#00a7b2"/><stop offset="0.2218" stop-color="#00a980"/><stop offset="0.2237" stop-color="#009f2e"/><stop offset="0.2256" stop-color="#009e00"/><stop offset="0.2274" stop-color="#00ae00"/><stop offset="0.2368" stop-color="#00b700"/><stop offset="0.2481" stop-color="#00b800"/><stop offset="0.2650" stop-color="#00df00"/><stop offset="0.2838" stop-color="#00ea00"/><stop offset="0.3008" stop-color="#00e700"/><stop offset="0.3158" stop-color="#00d300"/><stop offset="0.3346" stop-color="#00c200"/><stop offset="0.3647" stop-color="#00b800"/><stop offset="0.3985" stop-color="#00b800"/><stop offset="0.4361" stop-color="#00be00"/><stop offset="0.4624" stop-color="#00ae00"/><stop offset="0.4925" stop-color="#00be00"/><stop offset="0.5376" stop-color="#00bb00"/><stop offset="0.5639" stop-color="#00b200"/><stop offset="0.5789" stop-color="#00a000"/><stop offset="0.5940" stop-color="#009900"/><stop offset="0.6053" stop-color="#009d22"/><stop offset="0.6165" stop-color="#00a66a"/><stop offset="0.6222" stop-color="#00aa84"/><stop offset="0.6241" stop-color="#00aa89"/><stop offset="0.6541" stop-color="#00aaab"/><stop offset="0.6729" stop-color="#009ecd"/><stop offset="0.6861" stop-color="#0098dd"/><stop offset="0.7199" stop-color="#0076dd"/><stop offset="0.7425" stop-color="#0025dd"/><stop offset="0.7444" stop-color="#0086dd"/><stop offset="0.7462" stop-color="#0099dd"/><stop offset="0.7500" stop-color="#0099dd"/><stop offset="0.7519" stop-color="#007add"/><stop offset="0.7538" stop-color="#0000dd"/><stop offset="0.7594" stop-color="#0000db"/><stop offset="0.7613" stop-color="#0000d3"/><stop offset="0.7801" stop-color="#0000d3"/><stop offset="0.7820" stop-color="#002cdd"/><stop offset="0.7838" stop-color="#0092dd"/><stop offset="0.7876" stop-color="#0092dd"/><stop offset="0.7895" stop-color="#006add"/><stop offset="0.7914" stop-color="#0000dd"/><stop offset="0.7951" stop-color="#0000dd"/><stop offset="0.7970" stop-color="#003bdd"/><stop offset="0.7989" stop-color="#0099dd"/><stop offset="0.8045" stop-color="#0099dd"/><stop offset="0.8064" stop-color="#0000ca"/><stop offset="0.8195" stop-color="#0000c9"/><stop offset="0.8308" stop-color="#0000ab"/><stop offset="0.8383" stop-color="#3300a4"/><stop offset="0.8534" stop-color="#79009b"/><stop offset="0.8590" stop-color="#7d009a"/><stop offset="0.8609" stop-color="#5a009f"/><stop offset="0.8628" stop-color="#0000aa"/><stop offset="0.8647" stop-color="#2500a5"/><stop offset="0.8665" stop-color="#81009a"/><stop offset="0.8797" stop-color="#880099"/><stop offset="0.9060" stop-color="#860097"/><stop offset="0.9530" stop-color="#770088"/><stop offset="0.9887" stop-color="#27002c"/><stop offset="1.0000" stop-color="#210026"/></linearGradient><clipPath id="cL"><rect x="48.85" y="28.10" width="266.05" height="367.50"/></clipPath><linearGradient id="b0" gradientUnits="userSpaceOnUse" x1="328.85" y1="0" x2="594.90" y2="0"><stop offset="0.0000" stop-color="#4c00a0"/><stop offset="0.0019" stop-color="#4c00a0"/><stop offset="0.0038" stop-color="#780089"/><stop offset="0.0056" stop-color="#140017"/><stop offset="0.1917" stop-color="#150018"/><stop offset="0.1936" stop-color="#2d0034"/><stop offset="0.1974" stop-color="#720083"/><stop offset="0.2011" stop-color="#870098"/><stop offset="0.2030" stop-color="#5100a0"/><stop offset="0.2049" stop-color="#1600a7"/><stop offset="0.2068" stop-color="#0000b8"/><stop offset="0.2105" stop-color="#0000d9"/><stop offset="0.2124" stop-color="#001add"/><stop offset="0.2143" stop-color="#003ddd"/><stop offset="0.2162" stop-color="#006add"/><stop offset="0.2180" stop-color="#0081dd"/><stop offset="0.2199" stop-color="#008edd"/><stop offset="0.2218" stop-color="#009bd6"/><stop offset="0.2256" stop-color="#00aaa8"/><stop offset="0.2274" stop-color="#00aa95"/><stop offset="0.2293" stop-color="#00a76c"/><stop offset="0.2312" stop-color="#009e26"/><stop offset="0.2331" stop-color="#009c00"/><stop offset="0.2350" stop-color="#00a100"/><stop offset="0.2575" stop-color="#00b800"/><stop offset="0.2782" stop-color="#00b800"/><stop offset="0.3064" stop-color="#00aa00"/><stop offset="0.3609" stop-color="#00a300"/><stop offset="0.5526" stop-color="#009900"/><stop offset="0.5714" stop-color="#00a035"/><stop offset="0.5902" stop-color="#00aa86"/><stop offset="0.6090" stop-color="#00aa95"/><stop offset="0.6278" stop-color="#00aaaa"/><stop offset="0.6429" stop-color="#009dd2"/><stop offset="0.6504" stop-color="#0098dd"/><stop offset="0.6729" stop-color="#007edd"/><stop offset="0.6786" stop-color="#0073dd"/><stop offset="0.6842" stop-color="#0056dd"/><stop offset="0.6955" stop-color="#0003dd"/><stop offset="0.6974" stop-color="#0000dd"/><stop offset="0.7406" stop-color="#0000d6"/><stop offset="0.7425" stop-color="#0000dd"/><stop offset="0.7444" stop-color="#0099dd"/><stop offset="0.7481" stop-color="#0099dd"/><stop offset="0.7500" stop-color="#0000dd"/><stop offset="0.7556" stop-color="#0000dd"/><stop offset="0.7575" stop-color="#000edd"/><stop offset="0.7594" stop-color="#0099dd"/><stop offset="0.7632" stop-color="#0099dd"/><stop offset="0.7650" stop-color="#0000d7"/><stop offset="0.7820" stop-color="#0000d8"/><stop offset="0.7838" stop-color="#0081dd"/><stop offset="0.7857" stop-color="#008bdd"/><stop offset="0.7876" stop-color="#008bdd"/><stop offset="0.7895" stop-color="#0000d9"/><stop offset="0.7914" stop-color="#0000dd"/><stop offset="0.7951" stop-color="#0000dd"/><stop offset="0.7970" stop-color="#0086dd"/><stop offset="0.7989" stop-color="#0092dd"/><stop offset="0.8008" stop-color="#0092dd"/><stop offset="0.8026" stop-color="#0085dd"/><stop offset="0.8045" stop-color="#0000d3"/><stop offset="0.8177" stop-color="#0000d3"/><stop offset="0.8195" stop-color="#0000dc"/><stop offset="0.8214" stop-color="#008bdd"/><stop offset="0.8233" stop-color="#008bdd"/><stop offset="0.8252" stop-color="#5000a0"/><stop offset="0.8271" stop-color="#5200a0"/><stop offset="0.8308" stop-color="#870098"/><stop offset="0.8402" stop-color="#810092"/><stop offset="0.9060" stop-color="#7e008f"/><stop offset="0.9286" stop-color="#79008a"/><stop offset="0.9323" stop-color="#770088"/><stop offset="0.9342" stop-color="#720083"/><stop offset="0.9624" stop-color="#1e0022"/><stop offset="1.0000" stop-color="#0e0010"/></linearGradient><linearGradient id="b1" gradientUnits="userSpaceOnUse" x1="328.85" y1="0" x2="594.90" y2="0"><stop offset="0.0000" stop-color="#4c00a0"/><stop offset="0.0019" stop-color="#4c00a0"/><stop offset="0.0038" stop-color="#780089"/><stop offset="0.0056" stop-color="#120014"/><stop offset="0.0244" stop-color="#0f0011"/><stop offset="0.0583" stop-color="#120015"/><stop offset="0.0808" stop-color="#120015"/><stop offset="0.0827" stop-color="#0f0011"/><stop offset="0.1917" stop-color="#110014"/><stop offset="0.1936" stop-color="#1d0021"/><stop offset="0.1974" stop-color="#400049"/><stop offset="0.2011" stop-color="#780089"/><stop offset="0.2105" stop-color="#880099"/><stop offset="0.2143" stop-color="#5f009e"/><stop offset="0.2199" stop-color="#1000a8"/><stop offset="0.2218" stop-color="#0000b0"/><stop offset="0.2274" stop-color="#0000d5"/><stop offset="0.2293" stop-color="#0011dd"/><stop offset="0.2312" stop-color="#0030dd"/><stop offset="0.2331" stop-color="#0046dd"/><stop offset="0.2350" stop-color="#004edd"/><stop offset="0.2556" stop-color="#0074dd"/><stop offset="0.2782" stop-color="#0077dd"/><stop offset="0.3045" stop-color="#0060dd"/><stop offset="0.3553" stop-color="#0055dd"/><stop offset="0.5526" stop-color="#0043dd"/><stop offset="0.5714" stop-color="#002bdd"/><stop offset="0.5959" stop-color="#0001dd"/><stop offset="0.6278" stop-color="#0000c6"/><stop offset="0.6523" stop-color="#0000aa"/><stop offset="0.6711" stop-color="#2a00a5"/><stop offset="0.6842" stop-color="#5200a0"/><stop offset="0.6917" stop-color="#71009c"/><stop offset="0.6955" stop-color="#7d009a"/><stop offset="0.7312" stop-color="#880099"/><stop offset="0.7406" stop-color="#880099"/><stop offset="0.7425" stop-color="#80009a"/><stop offset="0.7444" stop-color="#0000ad"/><stop offset="0.7481" stop-color="#0000ad"/><stop offset="0.7500" stop-color="#80009a"/><stop offset="0.7556" stop-color="#81009a"/><stop offset="0.7575" stop-color="#79009b"/><stop offset="0.7594" stop-color="#0000ad"/><stop offset="0.7632" stop-color="#0000ad"/><stop offset="0.7650" stop-color="#880099"/><stop offset="0.7820" stop-color="#880099"/><stop offset="0.7838" stop-color="#2a00a5"/><stop offset="0.7857" stop-color="#1500a7"/><stop offset="0.7876" stop-color="#1500a7"/><stop offset="0.7895" stop-color="#870099"/><stop offset="0.7914" stop-color="#81009a"/><stop offset="0.7951" stop-color="#81009a"/><stop offset="0.7970" stop-color="#1f00a6"/><stop offset="0.7989" stop-color="#0700a9"/><stop offset="0.8008" stop-color="#0600a9"/><stop offset="0.8026" stop-color="#2100a6"/><stop offset="0.8045" stop-color="#870098"/><stop offset="0.8177" stop-color="#870098"/><stop offset="0.8195" stop-color="#82009a"/><stop offset="0.8214" stop-color="#1300a8"/><stop offset="0.8233" stop-color="#1300a8"/><stop offset="0.8252" stop-color="#7b008c"/><stop offset="0.8327" stop-color="#750086"/><stop offset="0.8383" stop-color="#670076"/><stop offset="0.8440" stop-color="#640072"/><stop offset="0.9041" stop-color="#5d006b"/><stop offset="0.9286" stop-color="#480052"/><stop offset="0.9624" stop-color="#140017"/><stop offset="1.0000" stop-color="#0e0010"/></linearGradient><linearGradient id="b2" gradientUnits="userSpaceOnUse" x1="328.85" y1="0" x2="594.90" y2="0"><stop offset="0.0000" stop-color="#4c00a0"/><stop offset="0.0019" stop-color="#4c00a0"/><stop offset="0.0038" stop-color="#780089"/><stop offset="0.0056" stop-color="#0f0011"/><stop offset="0.0226" stop-color="#0d000f"/><stop offset="0.0244" stop-color="#0a000b"/><stop offset="0.0583" stop-color="#0f0011"/><stop offset="0.0808" stop-color="#0f0011"/><stop offset="0.0827" stop-color="#0a000b"/><stop offset="0.1147" stop-color="#0a000b"/><stop offset="0.1165" stop-color="#0e000f"/><stop offset="0.1635" stop-color="#0d000f"/><stop offset="0.1654" stop-color="#100012"/><stop offset="0.2049" stop-color="#0d000f"/><stop offset="0.2068" stop-color="#0a000b"/><stop offset="0.2519" stop-color="#09000a"/><stop offset="0.2744" stop-color="#0b000c"/><stop offset="0.2763" stop-color="#0d000f"/><stop offset="0.4060" stop-color="#0b000c"/><stop offset="0.4079" stop-color="#0f0011"/><stop offset="0.4380" stop-color="#0f0011"/><stop offset="0.4492" stop-color="#0d000f"/><stop offset="0.4511" stop-color="#09000a"/><stop offset="0.4831" stop-color="#09000a"/><stop offset="0.4850" stop-color="#0e0010"/><stop offset="0.5320" stop-color="#100012"/><stop offset="0.5771" stop-color="#0d000f"/><stop offset="0.5789" stop-color="#100012"/><stop offset="0.5959" stop-color="#100012"/><stop offset="0.5977" stop-color="#0a000b"/><stop offset="0.6372" stop-color="#0a000b"/><stop offset="0.6391" stop-color="#0e0010"/><stop offset="0.6504" stop-color="#0e0010"/><stop offset="0.6711" stop-color="#0d000e"/><stop offset="0.6729" stop-color="#09000a"/><stop offset="0.6917" stop-color="#09000a"/><stop offset="0.6936" stop-color="#100012"/><stop offset="0.7086" stop-color="#100012"/><stop offset="0.7105" stop-color="#0d000f"/><stop offset="0.7500" stop-color="#0f0011"/><stop offset="0.7707" stop-color="#0b000c"/><stop offset="0.8214" stop-color="#0e000f"/><stop offset="0.8853" stop-color="#0b000d"/><stop offset="0.8872" stop-color="#0f0011"/><stop offset="0.9041" stop-color="#0f0011"/><stop offset="0.9060" stop-color="#0b000d"/><stop offset="1.0000" stop-color="#0d000f"/></linearGradient><linearGradient id="b3" gradientUnits="userSpaceOnUse" x1="328.85" y1="0" x2="594.90" y2="0"><stop offset="0.0000" stop-color="#4c00a0"/><stop offset="0.0019" stop-color="#4c00a0"/><stop offset="0.0038" stop-color="#780089"/><stop offset="0.0056" stop-color="#100012"/><stop offset="0.1880" stop-color="#0f0012"/><stop offset="0.1955" stop-color="#160019"/><stop offset="0.2030" stop-color="#27002d"/><stop offset="0.2105" stop-color="#45004f"/><stop offset="0.2180" stop-color="#70007f"/><stop offset="0.2199" stop-color="#770088"/><stop offset="0.2519" stop-color="#870099"/><stop offset="0.2669" stop-color="#4e00a0"/><stop offset="0.2820" stop-color="#3200a4"/><stop offset="0.2970" stop-color="#2c00a5"/><stop offset="0.3308" stop-color="#3500a3"/><stop offset="0.3553" stop-color="#3500a3"/><stop offset="0.4060" stop-color="#2600a5"/><stop offset="0.4135" stop-color="#1e00a6"/><stop offset="0.4154" stop-color="#0000ae"/><stop offset="0.4173" stop-color="#0000d9"/><stop offset="0.4229" stop-color="#0000d9"/><stop offset="0.4248" stop-color="#0000b9"/><stop offset="0.4267" stop-color="#0500a9"/><stop offset="0.4323" stop-color="#0000ab"/><stop offset="0.5150" stop-color="#0000d1"/><stop offset="0.5752" stop-color="#0000aa"/><stop offset="0.5959" stop-color="#2600a5"/><stop offset="0.6128" stop-color="#54009f"/><stop offset="0.6297" stop-color="#880099"/><stop offset="0.6560" stop-color="#7f0090"/><stop offset="0.7387" stop-color="#7f0090"/><stop offset="0.7425" stop-color="#830094"/><stop offset="0.7444" stop-color="#002ddd"/><stop offset="0.7481" stop-color="#002ddd"/><stop offset="0.7500" stop-color="#2200a6"/><stop offset="0.7519" stop-color="#1100a8"/><stop offset="0.7575" stop-color="#0f00a8"/><stop offset="0.7594" stop-color="#002ddd"/><stop offset="0.7632" stop-color="#002ddd"/><stop offset="0.7650" stop-color="#2b00a5"/><stop offset="0.7669" stop-color="#1b00a7"/><stop offset="0.7820" stop-color="#1b00a7"/><stop offset="0.7838" stop-color="#0000cb"/><stop offset="0.7857" stop-color="#0000d9"/><stop offset="0.7876" stop-color="#0000d9"/><stop offset="0.7895" stop-color="#1f00a6"/><stop offset="0.7914" stop-color="#0000ab"/><stop offset="0.7951" stop-color="#0000ab"/><stop offset="0.7970" stop-color="#0000d2"/><stop offset="0.7989" stop-color="#0009dd"/><stop offset="0.8008" stop-color="#0009dd"/><stop offset="0.8026" stop-color="#0000d1"/><stop offset="0.8045" stop-color="#2500a5"/><stop offset="0.8177" stop-color="#2500a5"/><stop offset="0.8195" stop-color="#1b00a7"/><stop offset="0.8214" stop-color="#0000d9"/><stop offset="0.8233" stop-color="#0000d9"/><stop offset="0.8252" stop-color="#800091"/><stop offset="0.8289" stop-color="#7f0090"/><stop offset="0.8308" stop-color="#390041"/><stop offset="0.9323" stop-color="#1d0021"/><stop offset="0.9586" stop-color="#0e0010"/><stop offset="1.0000" stop-color="#0c000e"/></linearGradient><linearGradient id="b4" gradientUnits="userSpaceOnUse" x1="328.85" y1="0" x2="594.90" y2="0"><stop offset="0.0000" stop-color="#4c00a0"/><stop offset="0.0019" stop-color="#4c00a0"/><stop offset="0.0038" stop-color="#780089"/><stop offset="0.0056" stop-color="#100012"/><stop offset="0.1880" stop-color="#100012"/><stop offset="0.1955" stop-color="#19001d"/><stop offset="0.2030" stop-color="#300037"/><stop offset="0.2105" stop-color="#590066"/><stop offset="0.2143" stop-color="#750086"/><stop offset="0.2331" stop-color="#880099"/><stop offset="0.2350" stop-color="#840099"/><stop offset="0.2387" stop-color="#74009b"/><stop offset="0.2613" stop-color="#0000aa"/><stop offset="0.2688" stop-color="#0000b7"/><stop offset="0.2838" stop-color="#0000c3"/><stop offset="0.2970" stop-color="#0000c5"/><stop offset="0.3534" stop-color="#0000c1"/><stop offset="0.4098" stop-color="#0000c9"/><stop offset="0.4135" stop-color="#0000cc"/><stop offset="0.4154" stop-color="#0008dd"/><stop offset="0.4173" stop-color="#007edd"/><stop offset="0.4229" stop-color="#007edd"/><stop offset="0.4248" stop-color="#002add"/><stop offset="0.4267" stop-color="#0000d8"/><stop offset="0.4342" stop-color="#0000dd"/><stop offset="0.4850" stop-color="#004ddd"/><stop offset="0.5150" stop-color="#0076dd"/><stop offset="0.5376" stop-color="#004fdd"/><stop offset="0.5526" stop-color="#0029dd"/><stop offset="0.5733" stop-color="#0000dd"/><stop offset="0.5977" stop-color="#0000c6"/><stop offset="0.6165" stop-color="#0000ac"/><stop offset="0.6184" stop-color="#0300aa"/><stop offset="0.6241" stop-color="#1a00a7"/><stop offset="0.6353" stop-color="#5000a0"/><stop offset="0.6466" stop-color="#7f009a"/><stop offset="0.6504" stop-color="#880099"/><stop offset="0.7406" stop-color="#870098"/><stop offset="0.7425" stop-color="#6a009d"/><stop offset="0.7444" stop-color="#0092dd"/><stop offset="0.7481" stop-color="#0092dd"/><stop offset="0.7500" stop-color="#0000ca"/><stop offset="0.7519" stop-color="#0000d3"/><stop offset="0.7575" stop-color="#0000d4"/><stop offset="0.7594" stop-color="#0092dd"/><stop offset="0.7632" stop-color="#0092dd"/><stop offset="0.7650" stop-color="#0000c5"/><stop offset="0.7669" stop-color="#0000ce"/><stop offset="0.7820" stop-color="#0000ce"/><stop offset="0.7838" stop-color="#0062dd"/><stop offset="0.7857" stop-color="#007edd"/><stop offset="0.7876" stop-color="#007edd"/><stop offset="0.7895" stop-color="#0000cc"/><stop offset="0.7914" stop-color="#0000dd"/><stop offset="0.7951" stop-color="#0000dd"/><stop offset="0.7970" stop-color="#0077dd"/><stop offset="0.7989" stop-color="#0085dd"/><stop offset="0.8008" stop-color="#0085dd"/><stop offset="0.8026" stop-color="#0076dd"/><stop offset="0.8045" stop-color="#0000c9"/><stop offset="0.8177" stop-color="#0000c9"/><stop offset="0.8195" stop-color="#0000cd"/><stop offset="0.8214" stop-color="#007edd"/><stop offset="0.8233" stop-color="#007edd"/><stop offset="0.8252" stop-color="#840099"/><stop offset="0.8271" stop-color="#880099"/><stop offset="0.8289" stop-color="#870098"/><stop offset="0.8308" stop-color="#470051"/><stop offset="0.9154" stop-color="#2a0030"/><stop offset="0.9323" stop-color="#230028"/><stop offset="0.9586" stop-color="#0f0011"/><stop offset="1.0000" stop-color="#0c000e"/></linearGradient><linearGradient id="b5" gradientUnits="userSpaceOnUse" x1="328.85" y1="0" x2="594.90" y2="0"><stop offset="0.0000" stop-color="#4c00a0"/><stop offset="0.0019" stop-color="#4c00a0"/><stop offset="0.0038" stop-color="#780089"/><stop offset="0.0056" stop-color="#100012"/><stop offset="0.1880" stop-color="#100012"/><stop offset="0.1955" stop-color="#19001d"/><stop offset="0.2030" stop-color="#300037"/><stop offset="0.2105" stop-color="#590066"/><stop offset="0.2143" stop-color="#750086"/><stop offset="0.2331" stop-color="#880099"/><stop offset="0.2350" stop-color="#840099"/><stop offset="0.2387" stop-color="#74009b"/><stop offset="0.2613" stop-color="#0000aa"/><stop offset="0.2688" stop-color="#0000b7"/><stop offset="0.2838" stop-color="#0000c3"/><stop offset="0.2970" stop-color="#0000c5"/><stop offset="0.3534" stop-color="#0000c1"/><stop offset="0.4098" stop-color="#0000c9"/><stop offset="0.4135" stop-color="#0000cc"/><stop offset="0.4154" stop-color="#0013dd"/><stop offset="0.4173" stop-color="#008bdd"/><stop offset="0.4229" stop-color="#008bdd"/><stop offset="0.4248" stop-color="#003bdd"/><stop offset="0.4267" stop-color="#0000d8"/><stop offset="0.4342" stop-color="#0000dd"/><stop offset="0.4850" stop-color="#004ddd"/><stop offset="0.5150" stop-color="#0076dd"/><stop offset="0.5376" stop-color="#004fdd"/><stop offset="0.5526" stop-color="#0029dd"/><stop offset="0.5733" stop-color="#0000dd"/><stop offset="0.5977" stop-color="#0000c6"/><stop offset="0.6165" stop-color="#0000ac"/><stop offset="0.6184" stop-color="#0300aa"/><stop offset="0.6241" stop-color="#1a00a7"/><stop offset="0.6353" stop-color="#5000a0"/><stop offset="0.6466" stop-color="#7f009a"/><stop offset="0.6504" stop-color="#880099"/><stop offset="0.7406" stop-color="#870098"/><stop offset="0.7425" stop-color="#6a009d"/><stop offset="0.7444" stop-color="#0092dd"/><stop offset="0.7481" stop-color="#0092dd"/><stop offset="0.7500" stop-color="#0000ca"/><stop offset="0.7519" stop-color="#0000d3"/><stop offset="0.7575" stop-color="#0000d4"/><stop offset="0.7594" stop-color="#0092dd"/><stop offset="0.7632" stop-color="#0092dd"/><stop offset="0.7650" stop-color="#0000c5"/><stop offset="0.7669" stop-color="#0000ce"/><stop offset="0.7820" stop-color="#0000ce"/><stop offset="0.7838" stop-color="#0062dd"/><stop offset="0.7857" stop-color="#007edd"/><stop offset="0.7876" stop-color="#007edd"/><stop offset="0.7895" stop-color="#0000cc"/><stop offset="0.7914" stop-color="#0000dd"/><stop offset="0.7951" stop-color="#0000dd"/><stop offset="0.7970" stop-color="#0077dd"/><stop offset="0.7989" stop-color="#0085dd"/><stop offset="0.8008" stop-color="#0085dd"/><stop offset="0.8026" stop-color="#0076dd"/><stop offset="0.8045" stop-color="#0000c9"/><stop offset="0.8177" stop-color="#0000c9"/><stop offset="0.8195" stop-color="#0000cd"/><stop offset="0.8214" stop-color="#007edd"/><stop offset="0.8233" stop-color="#007edd"/><stop offset="0.8252" stop-color="#840099"/><stop offset="0.8271" stop-color="#880099"/><stop offset="0.8289" stop-color="#870098"/><stop offset="0.8308" stop-color="#470051"/><stop offset="0.9154" stop-color="#2a0030"/><stop offset="0.9323" stop-color="#230028"/><stop offset="0.9586" stop-color="#0f0011"/><stop offset="1.0000" stop-color="#0c000e"/></linearGradient><linearGradient id="b6" gradientUnits="userSpaceOnUse" x1="328.85" y1="0" x2="594.90" y2="0"><stop offset="0.0000" stop-color="#4c00a0"/><stop offset="0.0019" stop-color="#4c00a0"/><stop offset="0.0038" stop-color="#780089"/><stop offset="0.0056" stop-color="#100012"/><stop offset="0.1880" stop-color="#100012"/><stop offset="0.1955" stop-color="#19001d"/><stop offset="0.2030" stop-color="#300037"/><stop offset="0.2105" stop-color="#590066"/><stop offset="0.2143" stop-color="#750086"/><stop offset="0.2331" stop-color="#880099"/><stop offset="0.2350" stop-color="#840099"/><stop offset="0.2387" stop-color="#74009b"/><stop offset="0.2613" stop-color="#0000aa"/><stop offset="0.2688" stop-color="#0000b7"/><stop offset="0.2838" stop-color="#0000c3"/><stop offset="0.2970" stop-color="#0000c5"/><stop offset="0.3534" stop-color="#0000c1"/><stop offset="0.4098" stop-color="#0000c9"/><stop offset="0.4135" stop-color="#0000cc"/><stop offset="0.4154" stop-color="#004ddd"/><stop offset="0.4173" stop-color="#00aa96"/><stop offset="0.4229" stop-color="#00aa96"/><stop offset="0.4248" stop-color="#007edd"/><stop offset="0.4267" stop-color="#0000d8"/><stop offset="0.4342" stop-color="#0000dd"/><stop offset="0.4850" stop-color="#004ddd"/><stop offset="0.5150" stop-color="#0076dd"/><stop offset="0.5376" stop-color="#004fdd"/><stop offset="0.5526" stop-color="#0029dd"/><stop offset="0.5733" stop-color="#0000dd"/><stop offset="0.5977" stop-color="#0000c6"/><stop offset="0.6165" stop-color="#0000ac"/><stop offset="0.6184" stop-color="#0300aa"/><stop offset="0.6241" stop-color="#1a00a7"/><stop offset="0.6353" stop-color="#5000a0"/><stop offset="0.6466" stop-color="#7f009a"/><stop offset="0.6504" stop-color="#880099"/><stop offset="0.7406" stop-color="#870098"/><stop offset="0.7425" stop-color="#6a009d"/><stop offset="0.7444" stop-color="#0092dd"/><stop offset="0.7481" stop-color="#0092dd"/><stop offset="0.7500" stop-color="#0000ca"/><stop offset="0.7519" stop-color="#0000d3"/><stop offset="0.7575" stop-color="#0000d4"/><stop offset="0.7594" stop-color="#0092dd"/><stop offset="0.7632" stop-color="#0092dd"/><stop offset="0.7650" stop-color="#0000c5"/><stop offset="0.7669" stop-color="#0000ce"/><stop offset="0.7820" stop-color="#0000ce"/><stop offset="0.7838" stop-color="#0062dd"/><stop offset="0.7857" stop-color="#007edd"/><stop offset="0.7876" stop-color="#007edd"/><stop offset="0.7895" stop-color="#0000cc"/><stop offset="0.7914" stop-color="#0000dd"/><stop offset="0.7951" stop-color="#0000dd"/><stop offset="0.7970" stop-color="#0077dd"/><stop offset="0.7989" stop-color="#0085dd"/><stop offset="0.8008" stop-color="#0085dd"/><stop offset="0.8026" stop-color="#0076dd"/><stop offset="0.8045" stop-color="#0000c9"/><stop offset="0.8177" stop-color="#0000c9"/><stop offset="0.8195" stop-color="#0000cd"/><stop offset="0.8214" stop-color="#007edd"/><stop offset="0.8233" stop-color="#007edd"/><stop offset="0.8252" stop-color="#840099"/><stop offset="0.8271" stop-color="#880099"/><stop offset="0.8289" stop-color="#870098"/><stop offset="0.8308" stop-color="#470051"/><stop offset="0.9154" stop-color="#2a0030"/><stop offset="0.9323" stop-color="#230028"/><stop offset="0.9586" stop-color="#0f0011"/><stop offset="1.0000" stop-color="#0c000e"/></linearGradient><linearGradient id="b7" gradientUnits="userSpaceOnUse" x1="328.85" y1="0" x2="594.90" y2="0"><stop offset="0.0000" stop-color="#4c00a0"/><stop offset="0.0019" stop-color="#4c00a0"/><stop offset="0.0038" stop-color="#780089"/><stop offset="0.0056" stop-color="#100012"/><stop offset="0.1880" stop-color="#100012"/><stop offset="0.1955" stop-color="#19001c"/><stop offset="0.2030" stop-color="#2f0036"/><stop offset="0.2105" stop-color="#580065"/><stop offset="0.2143" stop-color="#740084"/><stop offset="0.2180" stop-color="#7b008c"/><stop offset="0.2350" stop-color="#870099"/><stop offset="0.2387" stop-color="#77009b"/><stop offset="0.2613" stop-color="#0400a9"/><stop offset="0.2632" stop-color="#0000ac"/><stop offset="0.2688" stop-color="#0000b5"/><stop offset="0.2838" stop-color="#0000c2"/><stop offset="0.2970" stop-color="#0000c5"/><stop offset="0.3609" stop-color="#0000c3"/><stop offset="0.4098" stop-color="#0000c7"/><stop offset="0.4135" stop-color="#0000ca"/><stop offset="0.4154" stop-color="#001add"/><stop offset="0.4173" stop-color="#0097dd"/><stop offset="0.4229" stop-color="#0099dd"/><stop offset="0.4248" stop-color="#0049dd"/><stop offset="0.4267" stop-color="#0000d6"/><stop offset="0.4398" stop-color="#0003dd"/><stop offset="0.4549" stop-color="#0018dd"/><stop offset="0.4868" stop-color="#004fdd"/><stop offset="0.5150" stop-color="#0077dd"/><stop offset="0.5376" stop-color="#004edd"/><stop offset="0.5526" stop-color="#0026dd"/><stop offset="0.5695" stop-color="#0001dd"/><stop offset="0.5977" stop-color="#0000c4"/><stop offset="0.6165" stop-color="#0000aa"/><stop offset="0.6241" stop-color="#1e00a6"/><stop offset="0.6353" stop-color="#5400a0"/><stop offset="0.6466" stop-color="#82009a"/><stop offset="0.6504" stop-color="#880099"/><stop offset="0.7406" stop-color="#870098"/><stop offset="0.7425" stop-color="#6d009c"/><stop offset="0.7444" stop-color="#0092dd"/><stop offset="0.7481" stop-color="#0092dd"/><stop offset="0.7500" stop-color="#0000ca"/><stop offset="0.7519" stop-color="#0000d3"/><stop offset="0.7575" stop-color="#0000d4"/><stop offset="0.7594" stop-color="#0092dd"/><stop offset="0.7632" stop-color="#0092dd"/><stop offset="0.7650" stop-color="#0000c5"/><stop offset="0.7669" stop-color="#0000ce"/><stop offset="0.7820" stop-color="#0000ce"/><stop offset="0.7838" stop-color="#0062dd"/><stop offset="0.7857" stop-color="#007edd"/><stop offset="0.7876" stop-color="#007edd"/><stop offset="0.7895" stop-color="#0000cc"/><stop offset="0.7914" stop-color="#0000dd"/><stop offset="0.7951" stop-color="#0000dd"/><stop offset="0.7970" stop-color="#0077dd"/><stop offset="0.7989" stop-color="#0085dd"/><stop offset="0.8008" stop-color="#0085dd"/><stop offset="0.8026" stop-color="#0076dd"/><stop offset="0.8045" stop-color="#0000c9"/><stop offset="0.8177" stop-color="#0000c9"/><stop offset="0.8195" stop-color="#0000cd"/><stop offset="0.8214" stop-color="#007edd"/><stop offset="0.8233" stop-color="#007edd"/><stop offset="0.8252" stop-color="#850099"/><stop offset="0.8271" stop-color="#880099"/><stop offset="0.8289" stop-color="#860097"/><stop offset="0.8308" stop-color="#470051"/><stop offset="0.9154" stop-color="#2a0030"/><stop offset="0.9323" stop-color="#230028"/><stop offset="0.9586" stop-color="#0f0011"/><stop offset="1.0000" stop-color="#0c000e"/></linearGradient><linearGradient id="b8" gradientUnits="userSpaceOnUse" x1="328.85" y1="0" x2="594.90" y2="0"><stop offset="0.0000" stop-color="#4c00a0"/><stop offset="0.0019" stop-color="#4c00a0"/><stop offset="0.0038" stop-color="#780089"/><stop offset="0.0056" stop-color="#100012"/><stop offset="0.1880" stop-color="#100012"/><stop offset="0.1955" stop-color="#19001c"/><stop offset="0.2030" stop-color="#2f0036"/><stop offset="0.2105" stop-color="#570064"/><stop offset="0.2143" stop-color="#720082"/><stop offset="0.2162" stop-color="#780089"/><stop offset="0.2350" stop-color="#880099"/><stop offset="0.2368" stop-color="#850099"/><stop offset="0.2387" stop-color="#7c009a"/><stop offset="0.2632" stop-color="#0200aa"/><stop offset="0.2820" stop-color="#0000c0"/><stop offset="0.2970" stop-color="#0000c5"/><stop offset="0.4098" stop-color="#0000c5"/><stop offset="0.4436" stop-color="#0000dd"/><stop offset="0.4568" stop-color="#0014dd"/><stop offset="0.4906" stop-color="#0053dd"/><stop offset="0.5150" stop-color="#0077dd"/><stop offset="0.5376" stop-color="#004cdd"/><stop offset="0.5526" stop-color="#0021dd"/><stop offset="0.5658" stop-color="#0002dd"/><stop offset="0.5977" stop-color="#0000c1"/><stop offset="0.6147" stop-color="#0000aa"/><stop offset="0.6241" stop-color="#2500a5"/><stop offset="0.6372" stop-color="#61009e"/><stop offset="0.6466" stop-color="#860099"/><stop offset="0.6485" stop-color="#880099"/><stop offset="0.7406" stop-color="#860097"/><stop offset="0.7425" stop-color="#71009c"/><stop offset="0.7444" stop-color="#0092dd"/><stop offset="0.7481" stop-color="#0092dd"/><stop offset="0.7500" stop-color="#0000ca"/><stop offset="0.7519" stop-color="#0000d3"/><stop offset="0.7575" stop-color="#0000d4"/><stop offset="0.7594" stop-color="#0092dd"/><stop offset="0.7632" stop-color="#0092dd"/><stop offset="0.7650" stop-color="#0000c5"/><stop offset="0.7669" stop-color="#0000ce"/><stop offset="0.7820" stop-color="#0000ce"/><stop offset="0.7838" stop-color="#0061dd"/><stop offset="0.7857" stop-color="#007edd"/><stop offset="0.7876" stop-color="#007edd"/><stop offset="0.7895" stop-color="#0000cb"/><stop offset="0.7914" stop-color="#0000dd"/><stop offset="0.7951" stop-color="#0000dd"/><stop offset="0.7970" stop-color="#0077dd"/><stop offset="0.7989" stop-color="#0085dd"/><stop offset="0.8008" stop-color="#0085dd"/><stop offset="0.8026" stop-color="#0076dd"/><stop offset="0.8045" stop-color="#0000c9"/><stop offset="0.8177" stop-color="#0000c9"/><stop offset="0.8195" stop-color="#0000cd"/><stop offset="0.8214" stop-color="#007edd"/><stop offset="0.8233" stop-color="#007edd"/><stop offset="0.8252" stop-color="#850099"/><stop offset="0.8271" stop-color="#880099"/><stop offset="0.8289" stop-color="#860097"/><stop offset="0.8308" stop-color="#470051"/><stop offset="0.9154" stop-color="#2a0030"/><stop offset="0.9323" stop-color="#230028"/><stop offset="0.9586" stop-color="#0f0011"/><stop offset="1.0000" stop-color="#0c000e"/></linearGradient><linearGradient id="b9" gradientUnits="userSpaceOnUse" x1="328.85" y1="0" x2="594.90" y2="0"><stop offset="0.0000" stop-color="#4c00a0"/><stop offset="0.0019" stop-color="#4c00a0"/><stop offset="0.0038" stop-color="#780089"/><stop offset="0.0056" stop-color="#100012"/><stop offset="0.1880" stop-color="#100012"/><stop offset="0.1955" stop-color="#19001c"/><stop offset="0.2030" stop-color="#2f0036"/><stop offset="0.2105" stop-color="#570064"/><stop offset="0.2143" stop-color="#720082"/><stop offset="0.2162" stop-color="#780089"/><stop offset="0.2350" stop-color="#880099"/><stop offset="0.2368" stop-color="#850099"/><stop offset="0.2387" stop-color="#7c009a"/><stop offset="0.2632" stop-color="#0200aa"/><stop offset="0.2820" stop-color="#0000c0"/><stop offset="0.2970" stop-color="#0000c5"/><stop offset="0.4098" stop-color="#0000c5"/><stop offset="0.4436" stop-color="#0000dd"/><stop offset="0.4568" stop-color="#0014dd"/><stop offset="0.4906" stop-color="#0053dd"/><stop offset="0.5150" stop-color="#0077dd"/><stop offset="0.5376" stop-color="#004cdd"/><stop offset="0.5526" stop-color="#0021dd"/><stop offset="0.5677" stop-color="#0000dc"/><stop offset="0.5977" stop-color="#0000c1"/><stop offset="0.6147" stop-color="#0000aa"/><stop offset="0.6241" stop-color="#2500a5"/><stop offset="0.6372" stop-color="#61009e"/><stop offset="0.6466" stop-color="#860099"/><stop offset="0.6485" stop-color="#880099"/><stop offset="0.7406" stop-color="#860097"/><stop offset="0.7425" stop-color="#69009d"/><stop offset="0.7444" stop-color="#00a3c0"/><stop offset="0.7481" stop-color="#00a3c0"/><stop offset="0.7500" stop-color="#0000ca"/><stop offset="0.7519" stop-color="#0000d3"/><stop offset="0.7556" stop-color="#0000d3"/><stop offset="0.7575" stop-color="#0000d7"/><stop offset="0.7594" stop-color="#00a3c0"/><stop offset="0.7632" stop-color="#00a3c0"/><stop offset="0.7650" stop-color="#0000c6"/><stop offset="0.7669" stop-color="#0000ce"/><stop offset="0.7820" stop-color="#0000ce"/><stop offset="0.7838" stop-color="#0086dd"/><stop offset="0.7857" stop-color="#0095dd"/><stop offset="0.7876" stop-color="#0095dd"/><stop offset="0.7895" stop-color="#0000cf"/><stop offset="0.7914" stop-color="#0000dd"/><stop offset="0.7951" stop-color="#0000dd"/><stop offset="0.7970" stop-color="#008ddd"/><stop offset="0.7989" stop-color="#009bd7"/><stop offset="0.8008" stop-color="#009bd7"/><stop offset="0.8026" stop-color="#008bdd"/><stop offset="0.8045" stop-color="#0000c9"/><stop offset="0.8177" stop-color="#0000c9"/><stop offset="0.8195" stop-color="#0000d7"/><stop offset="0.8214" stop-color="#0095dd"/><stop offset="0.8233" stop-color="#0095dd"/><stop offset="0.8252" stop-color="#84009a"/><stop offset="0.8271" stop-color="#880099"/><stop offset="0.8289" stop-color="#860097"/><stop offset="0.8308" stop-color="#470051"/><stop offset="0.9154" stop-color="#2a0030"/><stop offset="0.9323" stop-color="#230028"/><stop offset="0.9586" stop-color="#0f0011"/><stop offset="1.0000" stop-color="#0c000e"/></linearGradient><linearGradient id="b10" gradientUnits="userSpaceOnUse" x1="328.85" y1="0" x2="594.90" y2="0"><stop offset="0.0000" stop-color="#4c00a0"/><stop offset="0.0019" stop-color="#4c00a0"/><stop offset="0.0038" stop-color="#780089"/><stop offset="0.0056" stop-color="#100012"/><stop offset="0.1880" stop-color="#100012"/><stop offset="0.1955" stop-color="#19001c"/><stop offset="0.2030" stop-color="#2f0036"/><stop offset="0.2105" stop-color="#570064"/><stop offset="0.2143" stop-color="#720082"/><stop offset="0.2162" stop-color="#780089"/><stop offset="0.2350" stop-color="#880099"/><stop offset="0.2368" stop-color="#850099"/><stop offset="0.2387" stop-color="#7c009a"/><stop offset="0.2632" stop-color="#0200aa"/><stop offset="0.2820" stop-color="#0000c0"/><stop offset="0.2970" stop-color="#0000c5"/><stop offset="0.4098" stop-color="#0000c5"/><stop offset="0.4436" stop-color="#0000dd"/><stop offset="0.4568" stop-color="#0014dd"/><stop offset="0.4906" stop-color="#0053dd"/><stop offset="0.5150" stop-color="#0077dd"/><stop offset="0.5376" stop-color="#004cdd"/><stop offset="0.5526" stop-color="#0021dd"/><stop offset="0.5677" stop-color="#0000dc"/><stop offset="0.5977" stop-color="#0000c1"/><stop offset="0.6147" stop-color="#0000aa"/><stop offset="0.6241" stop-color="#2500a5"/><stop offset="0.6372" stop-color="#61009e"/><stop offset="0.6466" stop-color="#860099"/><stop offset="0.6485" stop-color="#880099"/><stop offset="0.7406" stop-color="#860097"/><stop offset="0.7425" stop-color="#65009d"/><stop offset="0.7444" stop-color="#00a9ac"/><stop offset="0.7481" stop-color="#00a9ac"/><stop offset="0.7500" stop-color="#0000cb"/><stop offset="0.7519" stop-color="#0000d3"/><stop offset="0.7556" stop-color="#0000d3"/><stop offset="0.7575" stop-color="#0000d8"/><stop offset="0.7594" stop-color="#00a9ac"/><stop offset="0.7632" stop-color="#00a9ac"/><stop offset="0.7650" stop-color="#0000c6"/><stop offset="0.7669" stop-color="#0000ce"/><stop offset="0.7820" stop-color="#0000ce"/><stop offset="0.7838" stop-color="#0090dd"/><stop offset="0.7857" stop-color="#009dd1"/><stop offset="0.7876" stop-color="#009dd1"/><stop offset="0.7895" stop-color="#0000d1"/><stop offset="0.7914" stop-color="#0000dd"/><stop offset="0.7951" stop-color="#0000dd"/><stop offset="0.7970" stop-color="#0097dd"/><stop offset="0.7989" stop-color="#00a1c5"/><stop offset="0.8008" stop-color="#00a1c5"/><stop offset="0.8026" stop-color="#0096dd"/><stop offset="0.8045" stop-color="#0000c9"/><stop offset="0.8177" stop-color="#0000c9"/><stop offset="0.8195" stop-color="#0000dc"/><stop offset="0.8214" stop-color="#009dd1"/><stop offset="0.8233" stop-color="#009dd1"/><stop offset="0.8252" stop-color="#83009a"/><stop offset="0.8271" stop-color="#880099"/><stop offset="0.8289" stop-color="#860097"/><stop offset="0.8308" stop-color="#470051"/><stop offset="0.9154" stop-color="#2a0030"/><stop offset="0.9323" stop-color="#230028"/><stop offset="0.9586" stop-color="#0f0011"/><stop offset="1.0000" stop-color="#0c000e"/></linearGradient><linearGradient id="b11" gradientUnits="userSpaceOnUse" x1="328.85" y1="0" x2="594.90" y2="0"><stop offset="0.0000" stop-color="#4c00a0"/><stop offset="0.0019" stop-color="#4c00a0"/><stop offset="0.0038" stop-color="#780089"/><stop offset="0.0056" stop-color="#100012"/><stop offset="0.1880" stop-color="#100012"/><stop offset="0.1955" stop-color="#19001c"/><stop offset="0.2030" stop-color="#2f0036"/><stop offset="0.2105" stop-color="#570064"/><stop offset="0.2143" stop-color="#720082"/><stop offset="0.2162" stop-color="#780089"/><stop offset="0.2350" stop-color="#880099"/><stop offset="0.2368" stop-color="#850099"/><stop offset="0.2387" stop-color="#7c009a"/><stop offset="0.2632" stop-color="#0200aa"/><stop offset="0.2820" stop-color="#0000c0"/><stop offset="0.2970" stop-color="#0000c5"/><stop offset="0.4098" stop-color="#0000c5"/><stop offset="0.4436" stop-color="#0000dd"/><stop offset="0.4568" stop-color="#0014dd"/><stop offset="0.4887" stop-color="#004fdd"/><stop offset="0.5150" stop-color="#0076dd"/><stop offset="0.5376" stop-color="#004add"/><stop offset="0.5526" stop-color="#0020dd"/><stop offset="0.5658" stop-color="#0001dd"/><stop offset="0.5677" stop-color="#0000dc"/><stop offset="0.5977" stop-color="#0000c1"/><stop offset="0.6147" stop-color="#0000aa"/><stop offset="0.6241" stop-color="#2500a5"/><stop offset="0.6372" stop-color="#61009e"/><stop offset="0.6466" stop-color="#860099"/><stop offset="0.6485" stop-color="#880099"/><stop offset="0.7406" stop-color="#860097"/><stop offset="0.7425" stop-color="#66009d"/><stop offset="0.7444" stop-color="#00a8b1"/><stop offset="0.7481" stop-color="#00a8b1"/><stop offset="0.7500" stop-color="#0000ca"/><stop offset="0.7519" stop-color="#0000d3"/><stop offset="0.7556" stop-color="#0000d3"/><stop offset="0.7575" stop-color="#0000d8"/><stop offset="0.7594" stop-color="#00a8b1"/><stop offset="0.7632" stop-color="#00a8b1"/><stop offset="0.7650" stop-color="#0000c6"/><stop offset="0.7669" stop-color="#0000ce"/><stop offset="0.7820" stop-color="#0000ce"/><stop offset="0.7838" stop-color="#008ddd"/><stop offset="0.7857" stop-color="#009cd5"/><stop offset="0.7876" stop-color="#009cd5"/><stop offset="0.7895" stop-color="#0000d0"/><stop offset="0.7914" stop-color="#0000dd"/><stop offset="0.7951" stop-color="#0000dd"/><stop offset="0.7970" stop-color="#0095dd"/><stop offset="0.7989" stop-color="#00a0c9"/><stop offset="0.8008" stop-color="#00a0c9"/><stop offset="0.8026" stop-color="#0093dd"/><stop offset="0.8045" stop-color="#0000c9"/><stop offset="0.8177" stop-color="#0000c9"/><stop offset="0.8195" stop-color="#0000db"/><stop offset="0.8214" stop-color="#009cd5"/><stop offset="0.8233" stop-color="#009cd5"/><stop offset="0.8252" stop-color="#83009a"/><stop offset="0.8271" stop-color="#880099"/><stop offset="0.8289" stop-color="#860097"/><stop offset="0.8308" stop-color="#470051"/><stop offset="0.9154" stop-color="#2a0030"/><stop offset="0.9323" stop-color="#230028"/><stop offset="0.9586" stop-color="#0f0011"/><stop offset="1.0000" stop-color="#0c000e"/></linearGradient><linearGradient id="b12" gradientUnits="userSpaceOnUse" x1="328.85" y1="0" x2="594.90" y2="0"><stop offset="0.0000" stop-color="#4c00a0"/><stop offset="0.0019" stop-color="#4c00a0"/><stop offset="0.0038" stop-color="#780089"/><stop offset="0.0056" stop-color="#100012"/><stop offset="0.1880" stop-color="#100012"/><stop offset="0.1955" stop-color="#19001c"/><stop offset="0.2030" stop-color="#2f0036"/><stop offset="0.2105" stop-color="#570064"/><stop offset="0.2143" stop-color="#720082"/><stop offset="0.2162" stop-color="#780089"/><stop offset="0.2350" stop-color="#880099"/><stop offset="0.2368" stop-color="#850099"/><stop offset="0.2387" stop-color="#7c009a"/><stop offset="0.2632" stop-color="#0200aa"/><stop offset="0.2820" stop-color="#0000c0"/><stop offset="0.2970" stop-color="#0000c5"/><stop offset="0.4098" stop-color="#0000c5"/><stop offset="0.4436" stop-color="#0000dd"/><stop offset="0.4850" stop-color="#003edd"/><stop offset="0.5150" stop-color="#0066dd"/><stop offset="0.5376" stop-color="#0040dd"/><stop offset="0.5526" stop-color="#001bdd"/><stop offset="0.5658" stop-color="#0000dd"/><stop offset="0.5977" stop-color="#0000c1"/><stop offset="0.6147" stop-color="#0000aa"/><stop offset="0.6241" stop-color="#2500a5"/><stop offset="0.6372" stop-color="#61009e"/><stop offset="0.6466" stop-color="#860099"/><stop offset="0.6485" stop-color="#880099"/><stop offset="0.7406" stop-color="#860097"/><stop offset="0.7425" stop-color="#70009c"/><stop offset="0.7444" stop-color="#0095dd"/><stop offset="0.7481" stop-color="#0095dd"/><stop offset="0.7500" stop-color="#0000ca"/><stop offset="0.7519" stop-color="#0000d3"/><stop offset="0.7575" stop-color="#0000d4"/><stop offset="0.7594" stop-color="#0095dd"/><stop offset="0.7632" stop-color="#0095dd"/><stop offset="0.7650" stop-color="#0000c5"/><stop offset="0.7669" stop-color="#0000ce"/><stop offset="0.7820" stop-color="#0000ce"/><stop offset="0.7838" stop-color="#006add"/><stop offset="0.7857" stop-color="#0081dd"/><stop offset="0.7876" stop-color="#0081dd"/><stop offset="0.7895" stop-color="#0000cc"/><stop offset="0.7914" stop-color="#0000dd"/><stop offset="0.7951" stop-color="#0000dd"/><stop offset="0.7970" stop-color="#007add"/><stop offset="0.7989" stop-color="#0088dd"/><stop offset="0.8008" stop-color="#0088dd"/><stop offset="0.8026" stop-color="#0079dd"/><stop offset="0.8045" stop-color="#0000c9"/><stop offset="0.8177" stop-color="#0000c9"/><stop offset="0.8195" stop-color="#0000ce"/><stop offset="0.8214" stop-color="#0081dd"/><stop offset="0.8233" stop-color="#0081dd"/><stop offset="0.8252" stop-color="#850099"/><stop offset="0.8271" stop-color="#880099"/><stop offset="0.8289" stop-color="#860097"/><stop offset="0.8308" stop-color="#470051"/><stop offset="0.9154" stop-color="#2a0030"/><stop offset="0.9323" stop-color="#230028"/><stop offset="0.9586" stop-color="#0f0011"/><stop offset="1.0000" stop-color="#0c000e"/></linearGradient><linearGradient id="b13" gradientUnits="userSpaceOnUse" x1="328.85" y1="0" x2="594.90" y2="0"><stop offset="0.0000" stop-color="#4c00a0"/><stop offset="0.0019" stop-color="#4c00a0"/><stop offset="0.0038" stop-color="#780089"/><stop offset="0.0056" stop-color="#100012"/><stop offset="0.1880" stop-color="#100012"/><stop offset="0.1955" stop-color="#19001c"/><stop offset="0.2030" stop-color="#2f0036"/><stop offset="0.2105" stop-color="#570064"/><stop offset="0.2143" stop-color="#720082"/><stop offset="0.2162" stop-color="#780089"/><stop offset="0.2350" stop-color="#880099"/><stop offset="0.2368" stop-color="#850099"/><stop offset="0.2387" stop-color="#7c009a"/><stop offset="0.2632" stop-color="#0200aa"/><stop offset="0.2820" stop-color="#0000c0"/><stop offset="0.2970" stop-color="#0000c5"/><stop offset="0.4098" stop-color="#0000c5"/><stop offset="0.4436" stop-color="#0000dd"/><stop offset="0.4850" stop-color="#003ddd"/><stop offset="0.5150" stop-color="#0065dd"/><stop offset="0.5376" stop-color="#003fdd"/><stop offset="0.5526" stop-color="#001add"/><stop offset="0.5658" stop-color="#0000dd"/><stop offset="0.5977" stop-color="#0000c1"/><stop offset="0.6147" stop-color="#0000aa"/><stop offset="0.6241" stop-color="#2500a5"/><stop offset="0.6372" stop-color="#61009e"/><stop offset="0.6466" stop-color="#860099"/><stop offset="0.6485" stop-color="#880099"/><stop offset="0.7406" stop-color="#860097"/><stop offset="0.7425" stop-color="#71009c"/><stop offset="0.7444" stop-color="#0092dd"/><stop offset="0.7481" stop-color="#0092dd"/><stop offset="0.7500" stop-color="#0000ca"/><stop offset="0.7519" stop-color="#0000d3"/><stop offset="0.7575" stop-color="#0000d4"/><stop offset="0.7594" stop-color="#0092dd"/><stop offset="0.7632" stop-color="#0092dd"/><stop offset="0.7650" stop-color="#0000c5"/><stop offset="0.7669" stop-color="#0000ce"/><stop offset="0.7820" stop-color="#0000ce"/><stop offset="0.7838" stop-color="#0061dd"/><stop offset="0.7857" stop-color="#007edd"/><stop offset="0.7876" stop-color="#007edd"/><stop offset="0.7895" stop-color="#0000cb"/><stop offset="0.7914" stop-color="#0000dd"/><stop offset="0.7951" stop-color="#0000dd"/><stop offset="0.7970" stop-color="#0077dd"/><stop offset="0.7989" stop-color="#0085dd"/><stop offset="0.8008" stop-color="#0085dd"/><stop offset="0.8026" stop-color="#0076dd"/><stop offset="0.8045" stop-color="#0000c9"/><stop offset="0.8177" stop-color="#0000c9"/><stop offset="0.8195" stop-color="#0000cd"/><stop offset="0.8214" stop-color="#007edd"/><stop offset="0.8233" stop-color="#007edd"/><stop offset="0.8252" stop-color="#850099"/><stop offset="0.8271" stop-color="#880099"/><stop offset="0.8289" stop-color="#860097"/><stop offset="0.8308" stop-color="#470051"/><stop offset="0.9154" stop-color="#2a0030"/><stop offset="0.9323" stop-color="#230028"/><stop offset="0.9586" stop-color="#0f0011"/><stop offset="1.0000" stop-color="#0c000e"/></linearGradient><linearGradient id="b14" gradientUnits="userSpaceOnUse" x1="328.85" y1="0" x2="594.90" y2="0"><stop offset="0.0000" stop-color="#4c00a0"/><stop offset="0.0019" stop-color="#4c00a0"/><stop offset="0.0038" stop-color="#780089"/><stop offset="0.0056" stop-color="#100012"/><stop offset="0.1880" stop-color="#100012"/><stop offset="0.1955" stop-color="#19001d"/><stop offset="0.2030" stop-color="#300036"/><stop offset="0.2105" stop-color="#590065"/><stop offset="0.2143" stop-color="#740084"/><stop offset="0.2180" stop-color="#7b008c"/><stop offset="0.2331" stop-color="#870098"/><stop offset="0.2350" stop-color="#870099"/><stop offset="0.2387" stop-color="#77009b"/><stop offset="0.2613" stop-color="#0300aa"/><stop offset="0.2688" stop-color="#0000b6"/><stop offset="0.2820" stop-color="#0000c3"/><stop offset="0.2970" stop-color="#0000c8"/><stop offset="0.4098" stop-color="#0000c9"/><stop offset="0.4361" stop-color="#0000dc"/><stop offset="0.4549" stop-color="#0019dd"/><stop offset="0.4850" stop-color="#0048dd"/><stop offset="0.5150" stop-color="#0070dd"/><stop offset="0.5376" stop-color="#004add"/><stop offset="0.5526" stop-color="#0024dd"/><stop offset="0.5695" stop-color="#0002dd"/><stop offset="0.5977" stop-color="#0000c4"/><stop offset="0.6165" stop-color="#0000aa"/><stop offset="0.6241" stop-color="#1e00a6"/><stop offset="0.6353" stop-color="#5300a0"/><stop offset="0.6466" stop-color="#81009a"/><stop offset="0.6504" stop-color="#880099"/><stop offset="0.7406" stop-color="#870098"/><stop offset="0.7425" stop-color="#6c009c"/><stop offset="0.7444" stop-color="#0092dd"/><stop offset="0.7481" stop-color="#0092dd"/><stop offset="0.7500" stop-color="#0000ca"/><stop offset="0.7519" stop-color="#0000d3"/><stop offset="0.7575" stop-color="#0000d4"/><stop offset="0.7594" stop-color="#0092dd"/><stop offset="0.7632" stop-color="#0092dd"/><stop offset="0.7650" stop-color="#0000c5"/><stop offset="0.7669" stop-color="#0000ce"/><stop offset="0.7820" stop-color="#0000ce"/><stop offset="0.7838" stop-color="#0062dd"/><stop offset="0.7857" stop-color="#007edd"/><stop offset="0.7876" stop-color="#007edd"/><stop offset="0.7895" stop-color="#0000cc"/><stop offset="0.7914" stop-color="#0000dd"/><stop offset="0.7951" stop-color="#0000dd"/><stop offset="0.7970" stop-color="#0077dd"/><stop offset="0.7989" stop-color="#0085dd"/><stop offset="0.8008" stop-color="#0085dd"/><stop offset="0.8026" stop-color="#0076dd"/><stop offset="0.8045" stop-color="#0000c9"/><stop offset="0.8177" stop-color="#0000c9"/><stop offset="0.8195" stop-color="#0000cd"/><stop offset="0.8214" stop-color="#007edd"/><stop offset="0.8233" stop-color="#007edd"/><stop offset="0.8252" stop-color="#850099"/><stop offset="0.8271" stop-color="#880099"/><stop offset="0.8289" stop-color="#870098"/><stop offset="0.8308" stop-color="#470051"/><stop offset="0.9154" stop-color="#2a0030"/><stop offset="0.9323" stop-color="#230028"/><stop offset="0.9586" stop-color="#0f0011"/><stop offset="1.0000" stop-color="#0c000e"/></linearGradient><linearGradient id="b15" gradientUnits="userSpaceOnUse" x1="328.85" y1="0" x2="594.90" y2="0"><stop offset="0.0000" stop-color="#4c00a0"/><stop offset="0.0019" stop-color="#4c00a0"/><stop offset="0.0038" stop-color="#780089"/><stop offset="0.0056" stop-color="#100012"/><stop offset="0.1880" stop-color="#100012"/><stop offset="0.1955" stop-color="#19001d"/><stop offset="0.2030" stop-color="#310038"/><stop offset="0.2105" stop-color="#5c0069"/><stop offset="0.2143" stop-color="#770088"/><stop offset="0.2312" stop-color="#870098"/><stop offset="0.2331" stop-color="#84009a"/><stop offset="0.2368" stop-color="#75009b"/><stop offset="0.2575" stop-color="#0700a9"/><stop offset="0.2594" stop-color="#0000ab"/><stop offset="0.2669" stop-color="#0000ba"/><stop offset="0.2820" stop-color="#0000ca"/><stop offset="0.2970" stop-color="#0000d0"/><stop offset="0.4098" stop-color="#0000d0"/><stop offset="0.4248" stop-color="#0000dd"/><stop offset="0.5019" stop-color="#0075dd"/><stop offset="0.5150" stop-color="#007cdd"/><stop offset="0.5244" stop-color="#0077dd"/><stop offset="0.5376" stop-color="#005fdd"/><stop offset="0.5526" stop-color="#0038dd"/><stop offset="0.5789" stop-color="#0002dd"/><stop offset="0.5977" stop-color="#0000cb"/><stop offset="0.6203" stop-color="#0000aa"/><stop offset="0.6241" stop-color="#0f00a8"/><stop offset="0.6353" stop-color="#4700a1"/><stop offset="0.6466" stop-color="#77009b"/><stop offset="0.6541" stop-color="#880099"/><stop offset="0.7406" stop-color="#880099"/><stop offset="0.7425" stop-color="#63009e"/><stop offset="0.7444" stop-color="#0092dd"/><stop offset="0.7481" stop-color="#0092dd"/><stop offset="0.7500" stop-color="#0000ca"/><stop offset="0.7519" stop-color="#0000d3"/><stop offset="0.7575" stop-color="#0000d4"/><stop offset="0.7594" stop-color="#0092dd"/><stop offset="0.7632" stop-color="#0092dd"/><stop offset="0.7650" stop-color="#0000c6"/><stop offset="0.7669" stop-color="#0000ce"/><stop offset="0.7820" stop-color="#0000ce"/><stop offset="0.7838" stop-color="#0063dd"/><stop offset="0.7857" stop-color="#007edd"/><stop offset="0.7876" stop-color="#007edd"/><stop offset="0.7895" stop-color="#0000cc"/><stop offset="0.7914" stop-color="#0000dd"/><stop offset="0.7951" stop-color="#0000dd"/><stop offset="0.7970" stop-color="#0077dd"/><stop offset="0.7989" stop-color="#0085dd"/><stop offset="0.8008" stop-color="#0085dd"/><stop offset="0.8026" stop-color="#0077dd"/><stop offset="0.8045" stop-color="#0000c9"/><stop offset="0.8177" stop-color="#0000c9"/><stop offset="0.8195" stop-color="#0000ce"/><stop offset="0.8214" stop-color="#007edd"/><stop offset="0.8233" stop-color="#007edd"/><stop offset="0.8252" stop-color="#84009a"/><stop offset="0.8271" stop-color="#880099"/><stop offset="0.8289" stop-color="#870098"/><stop offset="0.8308" stop-color="#470051"/><stop offset="0.9154" stop-color="#2a0030"/><stop offset="0.9323" stop-color="#230028"/><stop offset="0.9586" stop-color="#0f0011"/><stop offset="1.0000" stop-color="#0c000e"/></linearGradient><linearGradient id="b16" gradientUnits="userSpaceOnUse" x1="328.85" y1="0" x2="594.90" y2="0"><stop offset="0.0000" stop-color="#4c00a0"/><stop offset="0.0019" stop-color="#4c00a0"/><stop offset="0.0038" stop-color="#780089"/><stop offset="0.0056" stop-color="#100012"/><stop offset="0.1880" stop-color="#100012"/><stop offset="0.1955" stop-color="#1a001d"/><stop offset="0.2030" stop-color="#320039"/><stop offset="0.2105" stop-color="#5d006b"/><stop offset="0.2143" stop-color="#770088"/><stop offset="0.2256" stop-color="#860097"/><stop offset="0.2274" stop-color="#83009a"/><stop offset="0.2312" stop-color="#58009f"/><stop offset="0.2350" stop-color="#3600a3"/><stop offset="0.2387" stop-color="#1900a7"/><stop offset="0.2425" stop-color="#0300aa"/><stop offset="0.2444" stop-color="#0000ab"/><stop offset="0.2594" stop-color="#0000b1"/><stop offset="0.2688" stop-color="#0000c0"/><stop offset="0.2820" stop-color="#0000ce"/><stop offset="0.2970" stop-color="#0000d4"/><stop offset="0.4098" stop-color="#0000d4"/><stop offset="0.4192" stop-color="#0000dc"/><stop offset="0.4549" stop-color="#003add"/><stop offset="0.4868" stop-color="#0077dd"/><stop offset="0.5150" stop-color="#0083dd"/><stop offset="0.5376" stop-color="#0076dd"/><stop offset="0.5545" stop-color="#0045dd"/><stop offset="0.5846" stop-color="#0000dd"/><stop offset="0.5977" stop-color="#0000cf"/><stop offset="0.6222" stop-color="#0000ab"/><stop offset="0.6241" stop-color="#0700a9"/><stop offset="0.6353" stop-color="#3f00a2"/><stop offset="0.6466" stop-color="#71009c"/><stop offset="0.6541" stop-color="#83009a"/><stop offset="0.6560" stop-color="#84009a"/><stop offset="0.7406" stop-color="#84009a"/><stop offset="0.7425" stop-color="#5e009e"/><stop offset="0.7444" stop-color="#0092dd"/><stop offset="0.7481" stop-color="#0092dd"/><stop offset="0.7500" stop-color="#0000ca"/><stop offset="0.7519" stop-color="#0000d3"/><stop offset="0.7575" stop-color="#0000d4"/><stop offset="0.7594" stop-color="#0092dd"/><stop offset="0.7632" stop-color="#0092dd"/><stop offset="0.7650" stop-color="#0000c6"/><stop offset="0.7669" stop-color="#0000ce"/><stop offset="0.7820" stop-color="#0000ce"/><stop offset="0.7838" stop-color="#0063dd"/><stop offset="0.7857" stop-color="#007edd"/><stop offset="0.7876" stop-color="#007edd"/><stop offset="0.7895" stop-color="#0000cd"/><stop offset="0.7914" stop-color="#0000dd"/><stop offset="0.7951" stop-color="#0000dd"/><stop offset="0.7970" stop-color="#0078dd"/><stop offset="0.7989" stop-color="#0085dd"/><stop offset="0.8008" stop-color="#0085dd"/><stop offset="0.8026" stop-color="#0077dd"/><stop offset="0.8045" stop-color="#0000c9"/><stop offset="0.8177" stop-color="#0000c9"/><stop offset="0.8195" stop-color="#0000ce"/><stop offset="0.8214" stop-color="#007edd"/><stop offset="0.8233" stop-color="#007edd"/><stop offset="0.8252" stop-color="#83009a"/><stop offset="0.8271" stop-color="#880099"/><stop offset="0.8289" stop-color="#870098"/><stop offset="0.8308" stop-color="#470051"/><stop offset="0.9154" stop-color="#2a0030"/><stop offset="0.9323" stop-color="#230028"/><stop offset="0.9586" stop-color="#0f0011"/><stop offset="1.0000" stop-color="#0c000e"/></linearGradient><linearGradient id="b17" gradientUnits="userSpaceOnUse" x1="328.85" y1="0" x2="594.90" y2="0"><stop offset="0.0000" stop-color="#4c00a0"/><stop offset="0.0019" stop-color="#4c00a0"/><stop offset="0.0038" stop-color="#780089"/><stop offset="0.0056" stop-color="#100012"/><stop offset="0.1880" stop-color="#100012"/><stop offset="0.1955" stop-color="#1a001d"/><stop offset="0.2030" stop-color="#320039"/><stop offset="0.2143" stop-color="#780089"/><stop offset="0.2256" stop-color="#880099"/><stop offset="0.2312" stop-color="#3300a4"/><stop offset="0.2350" stop-color="#0300aa"/><stop offset="0.2406" stop-color="#0000bc"/><stop offset="0.2444" stop-color="#0000c1"/><stop offset="0.2613" stop-color="#0000b6"/><stop offset="0.2688" stop-color="#0000c3"/><stop offset="0.2820" stop-color="#0000d1"/><stop offset="0.2970" stop-color="#0000d7"/><stop offset="0.4098" stop-color="#0000d7"/><stop offset="0.4154" stop-color="#0000dc"/><stop offset="0.4549" stop-color="#0044dd"/><stop offset="0.4793" stop-color="#0077dd"/><stop offset="0.5150" stop-color="#0089dd"/><stop offset="0.5414" stop-color="#0078dd"/><stop offset="0.5677" stop-color="#002fdd"/><stop offset="0.5883" stop-color="#0000dc"/><stop offset="0.5996" stop-color="#0000cf"/><stop offset="0.6241" stop-color="#0000aa"/><stop offset="0.6353" stop-color="#3a00a3"/><stop offset="0.6466" stop-color="#6c009c"/><stop offset="0.6541" stop-color="#7f009a"/><stop offset="0.6560" stop-color="#80009a"/><stop offset="0.7406" stop-color="#80009a"/><stop offset="0.7425" stop-color="#5a009f"/><stop offset="0.7444" stop-color="#0092dd"/><stop offset="0.7481" stop-color="#0092dd"/><stop offset="0.7500" stop-color="#0000cb"/><stop offset="0.7519" stop-color="#0000d3"/><stop offset="0.7575" stop-color="#0000d4"/><stop offset="0.7594" stop-color="#0092dd"/><stop offset="0.7632" stop-color="#0092dd"/><stop offset="0.7650" stop-color="#0000c6"/><stop offset="0.7669" stop-color="#0000ce"/><stop offset="0.7820" stop-color="#0000ce"/><stop offset="0.7838" stop-color="#0064dd"/><stop offset="0.7857" stop-color="#007edd"/><stop offset="0.7876" stop-color="#007edd"/><stop offset="0.7895" stop-color="#0000cd"/><stop offset="0.7914" stop-color="#0000dd"/><stop offset="0.7951" stop-color="#0000dd"/><stop offset="0.7970" stop-color="#0078dd"/><stop offset="0.7989" stop-color="#0085dd"/><stop offset="0.8008" stop-color="#0085dd"/><stop offset="0.8026" stop-color="#0077dd"/><stop offset="0.8045" stop-color="#0000c9"/><stop offset="0.8177" stop-color="#0000c9"/><stop offset="0.8195" stop-color="#0000cf"/><stop offset="0.8214" stop-color="#007edd"/><stop offset="0.8233" stop-color="#007edd"/><stop offset="0.8252" stop-color="#83009a"/><stop offset="0.8271" stop-color="#880099"/><stop offset="0.8289" stop-color="#880099"/><stop offset="0.8308" stop-color="#470051"/><stop offset="0.9154" stop-color="#2a0030"/><stop offset="0.9323" stop-color="#230028"/><stop offset="0.9586" stop-color="#0f0011"/><stop offset="1.0000" stop-color="#0c000e"/></linearGradient><linearGradient id="b18" gradientUnits="userSpaceOnUse" x1="328.85" y1="0" x2="594.90" y2="0"><stop offset="0.0000" stop-color="#4c00a0"/><stop offset="0.0019" stop-color="#4c00a0"/><stop offset="0.0038" stop-color="#780089"/><stop offset="0.0056" stop-color="#100012"/><stop offset="0.1880" stop-color="#100012"/><stop offset="0.1955" stop-color="#18001c"/><stop offset="0.2030" stop-color="#2d0033"/><stop offset="0.2105" stop-color="#53005f"/><stop offset="0.2162" stop-color="#770088"/><stop offset="0.2350" stop-color="#880099"/><stop offset="0.2444" stop-color="#5d009e"/><stop offset="0.2594" stop-color="#2800a5"/><stop offset="0.2688" stop-color="#0200aa"/><stop offset="0.2838" stop-color="#0000b6"/><stop offset="0.2989" stop-color="#0000bb"/><stop offset="0.4098" stop-color="#0000bb"/><stop offset="0.4624" stop-color="#0000dc"/><stop offset="0.5150" stop-color="#0047dd"/><stop offset="0.5376" stop-color="#0022dd"/><stop offset="0.5526" stop-color="#0000dc"/><stop offset="0.5846" stop-color="#0000c3"/><stop offset="0.6071" stop-color="#0000ab"/><stop offset="0.6128" stop-color="#1000a8"/><stop offset="0.6241" stop-color="#3a00a3"/><stop offset="0.6353" stop-color="#6b009d"/><stop offset="0.6429" stop-color="#880099"/><stop offset="0.6560" stop-color="#840095"/><stop offset="0.7406" stop-color="#840095"/><stop offset="0.7425" stop-color="#7e009a"/><stop offset="0.7444" stop-color="#0092dd"/><stop offset="0.7481" stop-color="#0092dd"/><stop offset="0.7500" stop-color="#0000c9"/><stop offset="0.7519" stop-color="#0000d3"/><stop offset="0.7575" stop-color="#0000d3"/><stop offset="0.7594" stop-color="#0092dd"/><stop offset="0.7632" stop-color="#0092dd"/><stop offset="0.7650" stop-color="#0000c5"/><stop offset="0.7669" stop-color="#0000ce"/><stop offset="0.7820" stop-color="#0000ce"/><stop offset="0.7838" stop-color="#0060dd"/><stop offset="0.7857" stop-color="#007edd"/><stop offset="0.7876" stop-color="#007edd"/><stop offset="0.7895" stop-color="#0000ca"/><stop offset="0.7914" stop-color="#0000dd"/><stop offset="0.7951" stop-color="#0000dd"/><stop offset="0.7970" stop-color="#0076dd"/><stop offset="0.7989" stop-color="#0085dd"/><stop offset="0.8008" stop-color="#0085dd"/><stop offset="0.8026" stop-color="#0075dd"/><stop offset="0.8045" stop-color="#0000c9"/><stop offset="0.8177" stop-color="#0000c9"/><stop offset="0.8195" stop-color="#0000cc"/><stop offset="0.8214" stop-color="#007edd"/><stop offset="0.8233" stop-color="#007edd"/><stop offset="0.8252" stop-color="#860099"/><stop offset="0.8271" stop-color="#880099"/><stop offset="0.8289" stop-color="#850096"/><stop offset="0.8308" stop-color="#470051"/><stop offset="0.9154" stop-color="#2a0030"/><stop offset="0.9323" stop-color="#230028"/><stop offset="0.9586" stop-color="#0f0011"/><stop offset="1.0000" stop-color="#0c000e"/></linearGradient><linearGradient id="b19" gradientUnits="userSpaceOnUse" x1="328.85" y1="0" x2="594.90" y2="0"><stop offset="0.0000" stop-color="#4c00a0"/><stop offset="0.0019" stop-color="#4c00a0"/><stop offset="0.0038" stop-color="#780089"/><stop offset="0.0056" stop-color="#100012"/><stop offset="0.1880" stop-color="#100012"/><stop offset="0.1955" stop-color="#18001b"/><stop offset="0.2030" stop-color="#2c0032"/><stop offset="0.2105" stop-color="#51005c"/><stop offset="0.2162" stop-color="#750086"/><stop offset="0.2256" stop-color="#7f0090"/><stop offset="0.2406" stop-color="#870098"/><stop offset="0.2425" stop-color="#840099"/><stop offset="0.2669" stop-color="#1500a7"/><stop offset="0.2688" stop-color="#0f00a8"/><stop offset="0.2763" stop-color="#0000ab"/><stop offset="0.2970" stop-color="#0000b5"/><stop offset="0.4098" stop-color="#0000b5"/><stop offset="0.4756" stop-color="#0000dd"/><stop offset="0.5150" stop-color="#0031dd"/><stop offset="0.5376" stop-color="#000edd"/><stop offset="0.5432" stop-color="#0002dd"/><stop offset="0.5827" stop-color="#0000be"/><stop offset="0.6034" stop-color="#0000aa"/><stop offset="0.6128" stop-color="#1d00a6"/><stop offset="0.6241" stop-color="#4600a1"/><stop offset="0.6353" stop-color="#75009b"/><stop offset="0.6410" stop-color="#880099"/><stop offset="0.6560" stop-color="#830094"/><stop offset="0.7406" stop-color="#830094"/><stop offset="0.7425" stop-color="#850099"/><stop offset="0.7444" stop-color="#0092dd"/><stop offset="0.7481" stop-color="#0092dd"/><stop offset="0.7500" stop-color="#0000c9"/><stop offset="0.7519" stop-color="#0000d3"/><stop offset="0.7575" stop-color="#0000d3"/><stop offset="0.7594" stop-color="#0092dd"/><stop offset="0.7632" stop-color="#0092dd"/><stop offset="0.7650" stop-color="#0000c4"/><stop offset="0.7669" stop-color="#0000ce"/><stop offset="0.7820" stop-color="#0000ce"/><stop offset="0.7838" stop-color="#005fdd"/><stop offset="0.7857" stop-color="#007edd"/><stop offset="0.7876" stop-color="#007edd"/><stop offset="0.7895" stop-color="#0000c9"/><stop offset="0.7914" stop-color="#0000dd"/><stop offset="0.7951" stop-color="#0000dd"/><stop offset="0.7970" stop-color="#0075dd"/><stop offset="0.7989" stop-color="#0085dd"/><stop offset="0.8008" stop-color="#0085dd"/><stop offset="0.8026" stop-color="#0075dd"/><stop offset="0.8045" stop-color="#0000c9"/><stop offset="0.8195" stop-color="#0000cb"/><stop offset="0.8214" stop-color="#007edd"/><stop offset="0.8233" stop-color="#007edd"/><stop offset="0.8252" stop-color="#870099"/><stop offset="0.8271" stop-color="#880099"/><stop offset="0.8289" stop-color="#850096"/><stop offset="0.8308" stop-color="#470051"/><stop offset="0.9154" stop-color="#2a0030"/><stop offset="0.9323" stop-color="#230028"/><stop offset="0.9586" stop-color="#0f0011"/><stop offset="1.0000" stop-color="#0c000e"/></linearGradient><linearGradient id="b20" gradientUnits="userSpaceOnUse" x1="328.85" y1="0" x2="594.90" y2="0"><stop offset="0.0000" stop-color="#4c00a0"/><stop offset="0.0019" stop-color="#4c00a0"/><stop offset="0.0038" stop-color="#780089"/><stop offset="0.0056" stop-color="#100012"/><stop offset="0.1880" stop-color="#100012"/><stop offset="0.1955" stop-color="#18001c"/><stop offset="0.2030" stop-color="#2d0034"/><stop offset="0.2105" stop-color="#540060"/><stop offset="0.2162" stop-color="#770088"/><stop offset="0.2350" stop-color="#880099"/><stop offset="0.2425" stop-color="#5d009e"/><stop offset="0.2481" stop-color="#4300a2"/><stop offset="0.2669" stop-color="#0300aa"/><stop offset="0.2688" stop-color="#0000ab"/><stop offset="0.2838" stop-color="#0000b8"/><stop offset="0.2989" stop-color="#0000bd"/><stop offset="0.4098" stop-color="#0000bd"/><stop offset="0.4586" stop-color="#0000dc"/><stop offset="0.4868" stop-color="#002edd"/><stop offset="0.5150" stop-color="#0055dd"/><stop offset="0.5376" stop-color="#002ddd"/><stop offset="0.5526" stop-color="#0006dd"/><stop offset="0.5564" stop-color="#0000dc"/><stop offset="0.5977" stop-color="#0000b8"/><stop offset="0.6090" stop-color="#0000aa"/><stop offset="0.6241" stop-color="#3600a3"/><stop offset="0.6372" stop-color="#6f009c"/><stop offset="0.6429" stop-color="#850099"/><stop offset="0.6447" stop-color="#880099"/><stop offset="0.6560" stop-color="#850096"/><stop offset="0.7406" stop-color="#850096"/><stop offset="0.7425" stop-color="#7b009b"/><stop offset="0.7444" stop-color="#0092dd"/><stop offset="0.7481" stop-color="#0092dd"/><stop offset="0.7500" stop-color="#0000c9"/><stop offset="0.7519" stop-color="#0000d3"/><stop offset="0.7575" stop-color="#0000d3"/><stop offset="0.7594" stop-color="#0092dd"/><stop offset="0.7632" stop-color="#0092dd"/><stop offset="0.7650" stop-color="#0000c5"/><stop offset="0.7669" stop-color="#0000ce"/><stop offset="0.7820" stop-color="#0000ce"/><stop offset="0.7838" stop-color="#0060dd"/><stop offset="0.7857" stop-color="#007edd"/><stop offset="0.7876" stop-color="#007edd"/><stop offset="0.7895" stop-color="#0000ca"/><stop offset="0.7914" stop-color="#0000dd"/><stop offset="0.7951" stop-color="#0000dd"/><stop offset="0.7970" stop-color="#0076dd"/><stop offset="0.7989" stop-color="#0085dd"/><stop offset="0.8008" stop-color="#0085dd"/><stop offset="0.8026" stop-color="#0075dd"/><stop offset="0.8045" stop-color="#0000c9"/><stop offset="0.8177" stop-color="#0000c9"/><stop offset="0.8195" stop-color="#0000cc"/><stop offset="0.8214" stop-color="#007edd"/><stop offset="0.8233" stop-color="#007edd"/><stop offset="0.8252" stop-color="#860099"/><stop offset="0.8271" stop-color="#880099"/><stop offset="0.8289" stop-color="#860097"/><stop offset="0.8308" stop-color="#470051"/><stop offset="0.9154" stop-color="#2a0030"/><stop offset="0.9323" stop-color="#230028"/><stop offset="0.9586" stop-color="#0f0011"/><stop offset="1.0000" stop-color="#0c000e"/></linearGradient><linearGradient id="b21" gradientUnits="userSpaceOnUse" x1="328.85" y1="0" x2="594.90" y2="0"><stop offset="0.0000" stop-color="#4c00a0"/><stop offset="0.0019" stop-color="#4c00a0"/><stop offset="0.0038" stop-color="#780089"/><stop offset="0.0056" stop-color="#100012"/><stop offset="0.1880" stop-color="#100012"/><stop offset="0.1955" stop-color="#19001d"/><stop offset="0.2030" stop-color="#310038"/><stop offset="0.2105" stop-color="#5d006a"/><stop offset="0.2143" stop-color="#770088"/><stop offset="0.2274" stop-color="#870098"/><stop offset="0.2293" stop-color="#7a009b"/><stop offset="0.2387" stop-color="#0d00a8"/><stop offset="0.2406" stop-color="#0000ac"/><stop offset="0.2444" stop-color="#0000b8"/><stop offset="0.2481" stop-color="#0000bd"/><stop offset="0.2632" stop-color="#0000b9"/><stop offset="0.2820" stop-color="#0000cd"/><stop offset="0.2970" stop-color="#0000d3"/><stop offset="0.4098" stop-color="#0000d3"/><stop offset="0.4211" stop-color="#0001dd"/><stop offset="0.4549" stop-color="#003add"/><stop offset="0.4793" stop-color="#0077dd"/><stop offset="0.5150" stop-color="#008cdd"/><stop offset="0.5432" stop-color="#0075dd"/><stop offset="0.5526" stop-color="#0053dd"/><stop offset="0.5658" stop-color="#002bdd"/><stop offset="0.5846" stop-color="#0000dd"/><stop offset="0.5996" stop-color="#0000cc"/><stop offset="0.6222" stop-color="#0000aa"/><stop offset="0.6353" stop-color="#4100a2"/><stop offset="0.6466" stop-color="#71009c"/><stop offset="0.6541" stop-color="#83009a"/><stop offset="0.6560" stop-color="#840099"/><stop offset="0.7406" stop-color="#840099"/><stop offset="0.7425" stop-color="#5f009e"/><stop offset="0.7444" stop-color="#0092dd"/><stop offset="0.7481" stop-color="#0092dd"/><stop offset="0.7500" stop-color="#0000ca"/><stop offset="0.7519" stop-color="#0000d3"/><stop offset="0.7575" stop-color="#0000d4"/><stop offset="0.7594" stop-color="#0092dd"/><stop offset="0.7632" stop-color="#0092dd"/><stop offset="0.7650" stop-color="#0000c6"/><stop offset="0.7669" stop-color="#0000ce"/><stop offset="0.7820" stop-color="#0000ce"/><stop offset="0.7838" stop-color="#0063dd"/><stop offset="0.7857" stop-color="#007edd"/><stop offset="0.7876" stop-color="#007edd"/><stop offset="0.7895" stop-color="#0000cd"/><stop offset="0.7914" stop-color="#0000dd"/><stop offset="0.7951" stop-color="#0000dd"/><stop offset="0.7970" stop-color="#0078dd"/><stop offset="0.7989" stop-color="#0085dd"/><stop offset="0.8008" stop-color="#0085dd"/><stop offset="0.8026" stop-color="#0077dd"/><stop offset="0.8045" stop-color="#0000c9"/><stop offset="0.8177" stop-color="#0000c9"/><stop offset="0.8195" stop-color="#0000ce"/><stop offset="0.8214" stop-color="#007edd"/><stop offset="0.8233" stop-color="#007edd"/><stop offset="0.8252" stop-color="#83009a"/><stop offset="0.8271" stop-color="#880099"/><stop offset="0.8289" stop-color="#870098"/><stop offset="0.8308" stop-color="#470051"/><stop offset="0.9154" stop-color="#2a0030"/><stop offset="0.9323" stop-color="#230028"/><stop offset="0.9586" stop-color="#0f0011"/><stop offset="1.0000" stop-color="#0c000e"/></linearGradient><linearGradient id="b22" gradientUnits="userSpaceOnUse" x1="328.85" y1="0" x2="594.90" y2="0"><stop offset="0.0000" stop-color="#4c00a0"/><stop offset="0.0019" stop-color="#4c00a0"/><stop offset="0.0038" stop-color="#780089"/><stop offset="0.0056" stop-color="#100012"/><stop offset="0.1880" stop-color="#100012"/><stop offset="0.1955" stop-color="#19001c"/><stop offset="0.2030" stop-color="#2f0036"/><stop offset="0.2105" stop-color="#580065"/><stop offset="0.2143" stop-color="#730084"/><stop offset="0.2162" stop-color="#780089"/><stop offset="0.2293" stop-color="#870098"/><stop offset="0.2312" stop-color="#82009a"/><stop offset="0.2425" stop-color="#2800a5"/><stop offset="0.2462" stop-color="#1400a8"/><stop offset="0.2500" stop-color="#0800a9"/><stop offset="0.2556" stop-color="#0000aa"/><stop offset="0.2632" stop-color="#0000ae"/><stop offset="0.2820" stop-color="#0000c2"/><stop offset="0.2970" stop-color="#0000c7"/><stop offset="0.4098" stop-color="#0000c7"/><stop offset="0.4398" stop-color="#0001dd"/><stop offset="0.4568" stop-color="#001bdd"/><stop offset="0.4850" stop-color="#0057dd"/><stop offset="0.5019" stop-color="#0075dd"/><stop offset="0.5150" stop-color="#007cdd"/><stop offset="0.5244" stop-color="#0076dd"/><stop offset="0.5320" stop-color="#0066dd"/><stop offset="0.5376" stop-color="#0059dd"/><stop offset="0.5545" stop-color="#0025dd"/><stop offset="0.5695" stop-color="#0000dd"/><stop offset="0.5977" stop-color="#0000c3"/><stop offset="0.6165" stop-color="#0200aa"/><stop offset="0.6241" stop-color="#2000a6"/><stop offset="0.6372" stop-color="#5d009e"/><stop offset="0.6485" stop-color="#880099"/><stop offset="0.7406" stop-color="#860097"/><stop offset="0.7425" stop-color="#6e009c"/><stop offset="0.7444" stop-color="#0092dd"/><stop offset="0.7481" stop-color="#0092dd"/><stop offset="0.7500" stop-color="#0000ca"/><stop offset="0.7519" stop-color="#0000d3"/><stop offset="0.7575" stop-color="#0000d4"/><stop offset="0.7594" stop-color="#0092dd"/><stop offset="0.7632" stop-color="#0092dd"/><stop offset="0.7650" stop-color="#0000c5"/><stop offset="0.7669" stop-color="#0000ce"/><stop offset="0.7820" stop-color="#0000ce"/><stop offset="0.7838" stop-color="#0062dd"/><stop offset="0.7857" stop-color="#007edd"/><stop offset="0.7876" stop-color="#007edd"/><stop offset="0.7895" stop-color="#0000cb"/><stop offset="0.7914" stop-color="#0000dd"/><stop offset="0.7951" stop-color="#0000dd"/><stop offset="0.7970" stop-color="#0077dd"/><stop offset="0.7989" stop-color="#0085dd"/><stop offset="0.8008" stop-color="#0085dd"/><stop offset="0.8026" stop-color="#0076dd"/><stop offset="0.8045" stop-color="#0000c9"/><stop offset="0.8177" stop-color="#0000c9"/><stop offset="0.8195" stop-color="#0000cd"/><stop offset="0.8214" stop-color="#007edd"/><stop offset="0.8233" stop-color="#007edd"/><stop offset="0.8252" stop-color="#850099"/><stop offset="0.8271" stop-color="#880099"/><stop offset="0.8289" stop-color="#860097"/><stop offset="0.8308" stop-color="#470051"/><stop offset="0.9154" stop-color="#2a0030"/><stop offset="0.9323" stop-color="#230028"/><stop offset="0.9586" stop-color="#0f0011"/><stop offset="1.0000" stop-color="#0c000e"/></linearGradient><linearGradient id="b23" gradientUnits="userSpaceOnUse" x1="328.85" y1="0" x2="594.90" y2="0"><stop offset="0.0000" stop-color="#4c00a0"/><stop offset="0.0019" stop-color="#4c00a0"/><stop offset="0.0038" stop-color="#780089"/><stop offset="0.0056" stop-color="#100012"/><stop offset="0.1880" stop-color="#100012"/><stop offset="0.1955" stop-color="#18001b"/><stop offset="0.2030" stop-color="#2c0033"/><stop offset="0.2105" stop-color="#51005d"/><stop offset="0.2162" stop-color="#770087"/><stop offset="0.2406" stop-color="#880099"/><stop offset="0.2669" stop-color="#1100a8"/><stop offset="0.2726" stop-color="#0200aa"/><stop offset="0.2820" stop-color="#0000b2"/><stop offset="0.2970" stop-color="#0000b7"/><stop offset="0.4098" stop-color="#0000b7"/><stop offset="0.4718" stop-color="#0000dd"/><stop offset="0.5150" stop-color="#0036dd"/><stop offset="0.5376" stop-color="#0014dd"/><stop offset="0.5470" stop-color="#0000dc"/><stop offset="0.5846" stop-color="#0000bf"/><stop offset="0.6053" stop-color="#0100aa"/><stop offset="0.6241" stop-color="#4200a2"/><stop offset="0.6410" stop-color="#870099"/><stop offset="0.6429" stop-color="#870098"/><stop offset="0.6560" stop-color="#840095"/><stop offset="0.7406" stop-color="#840095"/><stop offset="0.7425" stop-color="#83009a"/><stop offset="0.7444" stop-color="#0092dd"/><stop offset="0.7481" stop-color="#0092dd"/><stop offset="0.7500" stop-color="#0000c9"/><stop offset="0.7519" stop-color="#0000d3"/><stop offset="0.7575" stop-color="#0000d3"/><stop offset="0.7594" stop-color="#0092dd"/><stop offset="0.7632" stop-color="#0092dd"/><stop offset="0.7650" stop-color="#0000c4"/><stop offset="0.7669" stop-color="#0000ce"/><stop offset="0.7820" stop-color="#0000ce"/><stop offset="0.7838" stop-color="#0060dd"/><stop offset="0.7857" stop-color="#007edd"/><stop offset="0.7876" stop-color="#007edd"/><stop offset="0.7895" stop-color="#0000ca"/><stop offset="0.7914" stop-color="#0000dd"/><stop offset="0.7951" stop-color="#0000dd"/><stop offset="0.7970" stop-color="#0075dd"/><stop offset="0.7989" stop-color="#0085dd"/><stop offset="0.8008" stop-color="#0085dd"/><stop offset="0.8026" stop-color="#0075dd"/><stop offset="0.8045" stop-color="#0000c9"/><stop offset="0.8177" stop-color="#0000c9"/><stop offset="0.8195" stop-color="#0000cc"/><stop offset="0.8214" stop-color="#007edd"/><stop offset="0.8233" stop-color="#007edd"/><stop offset="0.8252" stop-color="#870099"/><stop offset="0.8271" stop-color="#880099"/><stop offset="0.8289" stop-color="#850096"/><stop offset="0.8308" stop-color="#470051"/><stop offset="0.9154" stop-color="#2a0030"/><stop offset="0.9323" stop-color="#230028"/><stop offset="0.9586" stop-color="#0f0011"/><stop offset="1.0000" stop-color="#0c000e"/></linearGradient><linearGradient id="b24" gradientUnits="userSpaceOnUse" x1="328.85" y1="0" x2="594.90" y2="0"><stop offset="0.0000" stop-color="#4c00a0"/><stop offset="0.0019" stop-color="#4c00a0"/><stop offset="0.0038" stop-color="#780089"/><stop offset="0.0056" stop-color="#100012"/><stop offset="0.1880" stop-color="#100012"/><stop offset="0.1955" stop-color="#19001c"/><stop offset="0.2030" stop-color="#2f0035"/><stop offset="0.2105" stop-color="#570063"/><stop offset="0.2143" stop-color="#710081"/><stop offset="0.2162" stop-color="#780089"/><stop offset="0.2331" stop-color="#880099"/><stop offset="0.2462" stop-color="#2400a5"/><stop offset="0.2500" stop-color="#1000a8"/><stop offset="0.2538" stop-color="#0300aa"/><stop offset="0.2556" stop-color="#0000aa"/><stop offset="0.2820" stop-color="#0000be"/><stop offset="0.2970" stop-color="#0000c4"/><stop offset="0.4098" stop-color="#0000c4"/><stop offset="0.4455" stop-color="#0000dd"/><stop offset="0.4662" stop-color="#001ddd"/><stop offset="0.4962" stop-color="#0053dd"/><stop offset="0.5150" stop-color="#0071dd"/><stop offset="0.5376" stop-color="#0045dd"/><stop offset="0.5526" stop-color="#001add"/><stop offset="0.5639" stop-color="#0001dd"/><stop offset="0.5977" stop-color="#0000bf"/><stop offset="0.6128" stop-color="#0000ac"/><stop offset="0.6147" stop-color="#0200aa"/><stop offset="0.6241" stop-color="#2700a5"/><stop offset="0.6353" stop-color="#5b009f"/><stop offset="0.6466" stop-color="#880099"/><stop offset="0.7406" stop-color="#860097"/><stop offset="0.7425" stop-color="#72009c"/><stop offset="0.7444" stop-color="#0092dd"/><stop offset="0.7481" stop-color="#0092dd"/><stop offset="0.7500" stop-color="#0000ca"/><stop offset="0.7519" stop-color="#0000d3"/><stop offset="0.7575" stop-color="#0000d4"/><stop offset="0.7594" stop-color="#0092dd"/><stop offset="0.7632" stop-color="#0092dd"/><stop offset="0.7650" stop-color="#0000c5"/><stop offset="0.7669" stop-color="#0000ce"/><stop offset="0.7820" stop-color="#0000ce"/><stop offset="0.7838" stop-color="#0061dd"/><stop offset="0.7857" stop-color="#007edd"/><stop offset="0.7876" stop-color="#007edd"/><stop offset="0.7895" stop-color="#0000cb"/><stop offset="0.7914" stop-color="#0000dd"/><stop offset="0.7951" stop-color="#0000dd"/><stop offset="0.7970" stop-color="#0077dd"/><stop offset="0.7989" stop-color="#0085dd"/><stop offset="0.8008" stop-color="#0085dd"/><stop offset="0.8026" stop-color="#0076dd"/><stop offset="0.8045" stop-color="#0000c9"/><stop offset="0.8177" stop-color="#0000c9"/><stop offset="0.8195" stop-color="#0000cd"/><stop offset="0.8214" stop-color="#007edd"/><stop offset="0.8233" stop-color="#007edd"/><stop offset="0.8252" stop-color="#850099"/><stop offset="0.8271" stop-color="#880099"/><stop offset="0.8289" stop-color="#860097"/><stop offset="0.8308" stop-color="#470051"/><stop offset="0.9154" stop-color="#2a0030"/><stop offset="0.9323" stop-color="#230028"/><stop offset="0.9586" stop-color="#0f0011"/><stop offset="1.0000" stop-color="#0c000e"/></linearGradient><linearGradient id="b25" gradientUnits="userSpaceOnUse" x1="328.85" y1="0" x2="594.90" y2="0"><stop offset="0.0000" stop-color="#4c00a0"/><stop offset="0.0019" stop-color="#4c00a0"/><stop offset="0.0038" stop-color="#780089"/><stop offset="0.0056" stop-color="#100012"/><stop offset="0.1880" stop-color="#100012"/><stop offset="0.1955" stop-color="#19001d"/><stop offset="0.2030" stop-color="#300037"/><stop offset="0.2105" stop-color="#590066"/><stop offset="0.2143" stop-color="#750086"/><stop offset="0.2312" stop-color="#880099"/><stop offset="0.2368" stop-color="#57009f"/><stop offset="0.2425" stop-color="#1e00a6"/><stop offset="0.2462" stop-color="#0000ab"/><stop offset="0.2538" stop-color="#0000b6"/><stop offset="0.2688" stop-color="#0000b8"/><stop offset="0.2820" stop-color="#0000c5"/><stop offset="0.2970" stop-color="#0000ca"/><stop offset="0.4098" stop-color="#0000ca"/><stop offset="0.4342" stop-color="#0000dd"/><stop offset="0.4662" stop-color="#0030dd"/><stop offset="0.5000" stop-color="#0074dd"/><stop offset="0.5150" stop-color="#007ddd"/><stop offset="0.5282" stop-color="#0074dd"/><stop offset="0.5376" stop-color="#005edd"/><stop offset="0.5545" stop-color="#0029dd"/><stop offset="0.5733" stop-color="#0000dd"/><stop offset="0.5977" stop-color="#0000c6"/><stop offset="0.6165" stop-color="#0000ac"/><stop offset="0.6184" stop-color="#0300aa"/><stop offset="0.6241" stop-color="#1a00a7"/><stop offset="0.6353" stop-color="#5000a0"/><stop offset="0.6466" stop-color="#7f009a"/><stop offset="0.6504" stop-color="#880099"/><stop offset="0.7406" stop-color="#870098"/><stop offset="0.7425" stop-color="#6a009d"/><stop offset="0.7444" stop-color="#0092dd"/><stop offset="0.7481" stop-color="#0092dd"/><stop offset="0.7500" stop-color="#0000ca"/><stop offset="0.7519" stop-color="#0000d3"/><stop offset="0.7575" stop-color="#0000d4"/><stop offset="0.7594" stop-color="#0092dd"/><stop offset="0.7632" stop-color="#0092dd"/><stop offset="0.7650" stop-color="#0000c5"/><stop offset="0.7669" stop-color="#0000ce"/><stop offset="0.7820" stop-color="#0000ce"/><stop offset="0.7838" stop-color="#0062dd"/><stop offset="0.7857" stop-color="#007edd"/><stop offset="0.7876" stop-color="#007edd"/><stop offset="0.7895" stop-color="#0000cc"/><stop offset="0.7914" stop-color="#0000dd"/><stop offset="0.7951" stop-color="#0000dd"/><stop offset="0.7970" stop-color="#0077dd"/><stop offset="0.7989" stop-color="#0085dd"/><stop offset="0.8008" stop-color="#0085dd"/><stop offset="0.8026" stop-color="#0076dd"/><stop offset="0.8045" stop-color="#0000c9"/><stop offset="0.8177" stop-color="#0000c9"/><stop offset="0.8195" stop-color="#0000cd"/><stop offset="0.8214" stop-color="#007edd"/><stop offset="0.8233" stop-color="#007edd"/><stop offset="0.8252" stop-color="#840099"/><stop offset="0.8271" stop-color="#880099"/><stop offset="0.8289" stop-color="#870098"/><stop offset="0.8308" stop-color="#470051"/><stop offset="0.9154" stop-color="#2a0030"/><stop offset="0.9323" stop-color="#230028"/><stop offset="0.9586" stop-color="#0f0011"/><stop offset="1.0000" stop-color="#0c000e"/></linearGradient><linearGradient id="b26" gradientUnits="userSpaceOnUse" x1="328.85" y1="0" x2="594.90" y2="0"><stop offset="0.0000" stop-color="#4c00a0"/><stop offset="0.0019" stop-color="#4c00a0"/><stop offset="0.0038" stop-color="#780089"/><stop offset="0.0056" stop-color="#100012"/><stop offset="0.1880" stop-color="#100012"/><stop offset="0.1955" stop-color="#19001d"/><stop offset="0.2030" stop-color="#300037"/><stop offset="0.2105" stop-color="#590066"/><stop offset="0.2143" stop-color="#750086"/><stop offset="0.2312" stop-color="#880099"/><stop offset="0.2368" stop-color="#57009f"/><stop offset="0.2425" stop-color="#1e00a6"/><stop offset="0.2462" stop-color="#0000ab"/><stop offset="0.2538" stop-color="#0000b6"/><stop offset="0.2688" stop-color="#0000b8"/><stop offset="0.2820" stop-color="#0000c5"/><stop offset="0.2970" stop-color="#0000ca"/><stop offset="0.4098" stop-color="#0000ca"/><stop offset="0.4342" stop-color="#0000dd"/><stop offset="0.4662" stop-color="#0030dd"/><stop offset="0.5019" stop-color="#0076dd"/><stop offset="0.5150" stop-color="#007ddd"/><stop offset="0.5263" stop-color="#0077dd"/><stop offset="0.5376" stop-color="#005cdd"/><stop offset="0.5545" stop-color="#0029dd"/><stop offset="0.5733" stop-color="#0000dd"/><stop offset="0.5977" stop-color="#0000c6"/><stop offset="0.6165" stop-color="#0000ac"/><stop offset="0.6184" stop-color="#0300aa"/><stop offset="0.6241" stop-color="#1a00a7"/><stop offset="0.6353" stop-color="#5000a0"/><stop offset="0.6466" stop-color="#7f009a"/><stop offset="0.6504" stop-color="#880099"/><stop offset="0.7406" stop-color="#870098"/><stop offset="0.7425" stop-color="#6a009d"/><stop offset="0.7444" stop-color="#0092dd"/><stop offset="0.7481" stop-color="#0092dd"/><stop offset="0.7500" stop-color="#0000ca"/><stop offset="0.7519" stop-color="#0000d3"/><stop offset="0.7575" stop-color="#0000d4"/><stop offset="0.7594" stop-color="#0092dd"/><stop offset="0.7632" stop-color="#0092dd"/><stop offset="0.7650" stop-color="#0000c5"/><stop offset="0.7669" stop-color="#0000ce"/><stop offset="0.7820" stop-color="#0000ce"/><stop offset="0.7838" stop-color="#0062dd"/><stop offset="0.7857" stop-color="#007edd"/><stop offset="0.7876" stop-color="#007edd"/><stop offset="0.7895" stop-color="#0000cc"/><stop offset="0.7914" stop-color="#0000dd"/><stop offset="0.7951" stop-color="#0000dd"/><stop offset="0.7970" stop-color="#0077dd"/><stop offset="0.7989" stop-color="#0085dd"/><stop offset="0.8008" stop-color="#0085dd"/><stop offset="0.8026" stop-color="#0076dd"/><stop offset="0.8045" stop-color="#0000c9"/><stop offset="0.8177" stop-color="#0000c9"/><stop offset="0.8195" stop-color="#0000cd"/><stop offset="0.8214" stop-color="#007edd"/><stop offset="0.8233" stop-color="#007edd"/><stop offset="0.8252" stop-color="#840099"/><stop offset="0.8271" stop-color="#880099"/><stop offset="0.8289" stop-color="#870098"/><stop offset="0.8308" stop-color="#470051"/><stop offset="0.9154" stop-color="#2a0030"/><stop offset="0.9323" stop-color="#230028"/><stop offset="0.9586" stop-color="#0f0011"/><stop offset="1.0000" stop-color="#0c000e"/></linearGradient><linearGradient id="b27" gradientUnits="userSpaceOnUse" x1="328.85" y1="0" x2="594.90" y2="0"><stop offset="0.0000" stop-color="#4c00a0"/><stop offset="0.0019" stop-color="#4c00a0"/><stop offset="0.0038" stop-color="#780089"/><stop offset="0.0056" stop-color="#100012"/><stop offset="0.1880" stop-color="#100012"/><stop offset="0.1955" stop-color="#19001d"/><stop offset="0.2030" stop-color="#300037"/><stop offset="0.2105" stop-color="#590066"/><stop offset="0.2143" stop-color="#750086"/><stop offset="0.2312" stop-color="#880099"/><stop offset="0.2368" stop-color="#57009f"/><stop offset="0.2425" stop-color="#1e00a6"/><stop offset="0.2462" stop-color="#0000ab"/><stop offset="0.2538" stop-color="#0000b6"/><stop offset="0.2688" stop-color="#0000b8"/><stop offset="0.2820" stop-color="#0000c5"/><stop offset="0.2970" stop-color="#0000ca"/><stop offset="0.4098" stop-color="#0000ca"/><stop offset="0.4342" stop-color="#0000dd"/><stop offset="0.4850" stop-color="#004edd"/><stop offset="0.5150" stop-color="#0077dd"/><stop offset="0.5376" stop-color="#0050dd"/><stop offset="0.5526" stop-color="#002add"/><stop offset="0.5733" stop-color="#0000dd"/><stop offset="0.5977" stop-color="#0000c6"/><stop offset="0.6165" stop-color="#0000ac"/><stop offset="0.6184" stop-color="#0300aa"/><stop offset="0.6241" stop-color="#1a00a7"/><stop offset="0.6353" stop-color="#5000a0"/><stop offset="0.6466" stop-color="#7f009a"/><stop offset="0.6504" stop-color="#880099"/><stop offset="0.7406" stop-color="#870098"/><stop offset="0.7425" stop-color="#6a009d"/><stop offset="0.7444" stop-color="#0092dd"/><stop offset="0.7481" stop-color="#0092dd"/><stop offset="0.7500" stop-color="#0000ca"/><stop offset="0.7519" stop-color="#0000d3"/><stop offset="0.7575" stop-color="#0000d4"/><stop offset="0.7594" stop-color="#0092dd"/><stop offset="0.7632" stop-color="#0092dd"/><stop offset="0.7650" stop-color="#0000c5"/><stop offset="0.7669" stop-color="#0000ce"/><stop offset="0.7820" stop-color="#0000ce"/><stop offset="0.7838" stop-color="#0062dd"/><stop offset="0.7857" stop-color="#007edd"/><stop offset="0.7876" stop-color="#007edd"/><stop offset="0.7895" stop-color="#0000cc"/><stop offset="0.7914" stop-color="#0000dd"/><stop offset="0.7951" stop-color="#0000dd"/><stop offset="0.7970" stop-color="#0077dd"/><stop offset="0.7989" stop-color="#0085dd"/><stop offset="0.8008" stop-color="#0085dd"/><stop offset="0.8026" stop-color="#0076dd"/><stop offset="0.8045" stop-color="#0000c9"/><stop offset="0.8177" stop-color="#0000c9"/><stop offset="0.8195" stop-color="#0000cd"/><stop offset="0.8214" stop-color="#007edd"/><stop offset="0.8233" stop-color="#007edd"/><stop offset="0.8252" stop-color="#840099"/><stop offset="0.8271" stop-color="#880099"/><stop offset="0.8289" stop-color="#870098"/><stop offset="0.8308" stop-color="#470051"/><stop offset="0.9154" stop-color="#2a0030"/><stop offset="0.9323" stop-color="#230028"/><stop offset="0.9586" stop-color="#0f0011"/><stop offset="1.0000" stop-color="#0c000e"/></linearGradient><linearGradient id="b28" gradientUnits="userSpaceOnUse" x1="328.85" y1="0" x2="594.90" y2="0"><stop offset="0.0000" stop-color="#4c00a0"/><stop offset="0.0019" stop-color="#4c00a0"/><stop offset="0.0038" stop-color="#780089"/><stop offset="0.0056" stop-color="#100012"/><stop offset="0.1880" stop-color="#100012"/><stop offset="0.1955" stop-color="#19001d"/><stop offset="0.2030" stop-color="#300037"/><stop offset="0.2105" stop-color="#590066"/><stop offset="0.2143" stop-color="#750086"/><stop offset="0.2312" stop-color="#880099"/><stop offset="0.2368" stop-color="#57009f"/><stop offset="0.2425" stop-color="#1e00a6"/><stop offset="0.2462" stop-color="#0000ab"/><stop offset="0.2538" stop-color="#0000b6"/><stop offset="0.2688" stop-color="#0000b8"/><stop offset="0.2820" stop-color="#0000c5"/><stop offset="0.2970" stop-color="#0000ca"/><stop offset="0.4098" stop-color="#0000ca"/><stop offset="0.4342" stop-color="#0000dd"/><stop offset="0.4850" stop-color="#004ddd"/><stop offset="0.5150" stop-color="#0076dd"/><stop offset="0.5376" stop-color="#004fdd"/><stop offset="0.5526" stop-color="#0029dd"/><stop offset="0.5733" stop-color="#0000dd"/><stop offset="0.5977" stop-color="#0000c6"/><stop offset="0.6165" stop-color="#0000ac"/><stop offset="0.6184" stop-color="#0300aa"/><stop offset="0.6241" stop-color="#1a00a7"/><stop offset="0.6353" stop-color="#5000a0"/><stop offset="0.6466" stop-color="#7f009a"/><stop offset="0.6504" stop-color="#880099"/><stop offset="0.7406" stop-color="#870098"/><stop offset="0.7425" stop-color="#6a009d"/><stop offset="0.7444" stop-color="#0092dd"/><stop offset="0.7481" stop-color="#0092dd"/><stop offset="0.7500" stop-color="#0000ca"/><stop offset="0.7519" stop-color="#0000d3"/><stop offset="0.7575" stop-color="#0000d4"/><stop offset="0.7594" stop-color="#0092dd"/><stop offset="0.7632" stop-color="#0092dd"/><stop offset="0.7650" stop-color="#0000c5"/><stop offset="0.7669" stop-color="#0000ce"/><stop offset="0.7820" stop-color="#0000ce"/><stop offset="0.7838" stop-color="#0062dd"/><stop offset="0.7857" stop-color="#007edd"/><stop offset="0.7876" stop-color="#007edd"/><stop offset="0.7895" stop-color="#0000cc"/><stop offset="0.7914" stop-color="#0000dd"/><stop offset="0.7951" stop-color="#0000dd"/><stop offset="0.7970" stop-color="#0077dd"/><stop offset="0.7989" stop-color="#0085dd"/><stop offset="0.8008" stop-color="#0085dd"/><stop offset="0.8026" stop-color="#0076dd"/><stop offset="0.8045" stop-color="#0000c9"/><stop offset="0.8177" stop-color="#0000c9"/><stop offset="0.8195" stop-color="#0000cd"/><stop offset="0.8214" stop-color="#007edd"/><stop offset="0.8233" stop-color="#007edd"/><stop offset="0.8252" stop-color="#840099"/><stop offset="0.8271" stop-color="#880099"/><stop offset="0.8289" stop-color="#870098"/><stop offset="0.8308" stop-color="#470051"/><stop offset="0.9154" stop-color="#2a0030"/><stop offset="0.9323" stop-color="#230028"/><stop offset="0.9586" stop-color="#0f0011"/><stop offset="1.0000" stop-color="#0c000e"/></linearGradient><linearGradient id="b29" gradientUnits="userSpaceOnUse" x1="328.85" y1="0" x2="594.90" y2="0"><stop offset="0.0000" stop-color="#4c00a0"/><stop offset="0.0019" stop-color="#4c00a0"/><stop offset="0.0038" stop-color="#780089"/><stop offset="0.0056" stop-color="#100012"/><stop offset="0.1880" stop-color="#100012"/><stop offset="0.1955" stop-color="#19001c"/><stop offset="0.2030" stop-color="#2f0036"/><stop offset="0.2105" stop-color="#580064"/><stop offset="0.2143" stop-color="#730083"/><stop offset="0.2162" stop-color="#780089"/><stop offset="0.2312" stop-color="#870098"/><stop offset="0.2331" stop-color="#7f009a"/><stop offset="0.2444" stop-color="#1500a7"/><stop offset="0.2462" stop-color="#0600a9"/><stop offset="0.2481" stop-color="#0000ac"/><stop offset="0.2538" stop-color="#0000b3"/><stop offset="0.2688" stop-color="#0000b5"/><stop offset="0.2820" stop-color="#0000c1"/><stop offset="0.2970" stop-color="#0000c6"/><stop offset="0.4098" stop-color="#0000c6"/><stop offset="0.4417" stop-color="#0000dd"/><stop offset="0.4850" stop-color="#0041dd"/><stop offset="0.5150" stop-color="#0068dd"/><stop offset="0.5376" stop-color="#0042dd"/><stop offset="0.5526" stop-color="#001ddd"/><stop offset="0.5677" stop-color="#0000dd"/><stop offset="0.5977" stop-color="#0000c2"/><stop offset="0.6147" stop-color="#0000ab"/><stop offset="0.6165" stop-color="#0400a9"/><stop offset="0.6241" stop-color="#2200a6"/><stop offset="0.6372" stop-color="#5f009e"/><stop offset="0.6466" stop-color="#850099"/><stop offset="0.6485" stop-color="#880099"/><stop offset="0.7406" stop-color="#860097"/><stop offset="0.7425" stop-color="#6f009c"/><stop offset="0.7444" stop-color="#0092dd"/><stop offset="0.7481" stop-color="#0092dd"/><stop offset="0.7500" stop-color="#0000ca"/><stop offset="0.7519" stop-color="#0000d3"/><stop offset="0.7575" stop-color="#0000d4"/><stop offset="0.7594" stop-color="#0092dd"/><stop offset="0.7632" stop-color="#0092dd"/><stop offset="0.7650" stop-color="#0000c5"/><stop offset="0.7669" stop-color="#0000ce"/><stop offset="0.7820" stop-color="#0000ce"/><stop offset="0.7838" stop-color="#0062dd"/><stop offset="0.7857" stop-color="#007edd"/><stop offset="0.7876" stop-color="#007edd"/><stop offset="0.7895" stop-color="#0000cb"/><stop offset="0.7914" stop-color="#0000dd"/><stop offset="0.7951" stop-color="#0000dd"/><stop offset="0.7970" stop-color="#0077dd"/><stop offset="0.7989" stop-color="#0085dd"/><stop offset="0.8008" stop-color="#0085dd"/><stop offset="0.8026" stop-color="#0076dd"/><stop offset="0.8045" stop-color="#0000c9"/><stop offset="0.8177" stop-color="#0000c9"/><stop offset="0.8195" stop-color="#0000cd"/><stop offset="0.8214" stop-color="#007edd"/><stop offset="0.8233" stop-color="#007edd"/><stop offset="0.8252" stop-color="#850099"/><stop offset="0.8271" stop-color="#880099"/><stop offset="0.8289" stop-color="#860097"/><stop offset="0.8308" stop-color="#470051"/><stop offset="0.9154" stop-color="#2a0030"/><stop offset="0.9323" stop-color="#230028"/><stop offset="0.9586" stop-color="#0f0011"/><stop offset="1.0000" stop-color="#0c000e"/></linearGradient><linearGradient id="b30" gradientUnits="userSpaceOnUse" x1="328.85" y1="0" x2="594.90" y2="0"><stop offset="0.0000" stop-color="#4c00a0"/><stop offset="0.0019" stop-color="#4c00a0"/><stop offset="0.0038" stop-color="#780089"/><stop offset="0.0056" stop-color="#100012"/><stop offset="0.1880" stop-color="#100012"/><stop offset="0.1955" stop-color="#18001c"/><stop offset="0.2030" stop-color="#2e0034"/><stop offset="0.2105" stop-color="#540060"/><stop offset="0.2162" stop-color="#780089"/><stop offset="0.2331" stop-color="#880099"/><stop offset="0.2368" stop-color="#69009d"/><stop offset="0.2444" stop-color="#2300a6"/><stop offset="0.2481" stop-color="#0900a9"/><stop offset="0.2500" stop-color="#0000aa"/><stop offset="0.2556" stop-color="#0000ae"/><stop offset="0.2707" stop-color="#0000ae"/><stop offset="0.2838" stop-color="#0000ba"/><stop offset="0.2989" stop-color="#0000be"/><stop offset="0.4098" stop-color="#0000be"/><stop offset="0.4568" stop-color="#0000dc"/><stop offset="0.5150" stop-color="#004ddd"/><stop offset="0.5376" stop-color="#0029dd"/><stop offset="0.5564" stop-color="#0000dc"/><stop offset="0.5846" stop-color="#0000c6"/><stop offset="0.6090" stop-color="#0000ac"/><stop offset="0.6109" stop-color="#0200aa"/><stop offset="0.6147" stop-color="#1000a8"/><stop offset="0.6241" stop-color="#3300a4"/><stop offset="0.6353" stop-color="#66009d"/><stop offset="0.6447" stop-color="#880099"/><stop offset="0.6560" stop-color="#850096"/><stop offset="0.7406" stop-color="#850096"/><stop offset="0.7425" stop-color="#7a009b"/><stop offset="0.7444" stop-color="#0092dd"/><stop offset="0.7481" stop-color="#0092dd"/><stop offset="0.7500" stop-color="#0000c9"/><stop offset="0.7519" stop-color="#0000d3"/><stop offset="0.7575" stop-color="#0000d3"/><stop offset="0.7594" stop-color="#0092dd"/><stop offset="0.7632" stop-color="#0092dd"/><stop offset="0.7650" stop-color="#0000c5"/><stop offset="0.7669" stop-color="#0000ce"/><stop offset="0.7820" stop-color="#0000ce"/><stop offset="0.7838" stop-color="#0060dd"/><stop offset="0.7857" stop-color="#007edd"/><stop offset="0.7876" stop-color="#007edd"/><stop offset="0.7895" stop-color="#0000ca"/><stop offset="0.7914" stop-color="#0000dd"/><stop offset="0.7951" stop-color="#0000dd"/><stop offset="0.7970" stop-color="#0076dd"/><stop offset="0.7989" stop-color="#0085dd"/><stop offset="0.8008" stop-color="#0085dd"/><stop offset="0.8026" stop-color="#0075dd"/><stop offset="0.8045" stop-color="#0000c9"/><stop offset="0.8177" stop-color="#0000c9"/><stop offset="0.8195" stop-color="#0000cc"/><stop offset="0.8214" stop-color="#007edd"/><stop offset="0.8233" stop-color="#007edd"/><stop offset="0.8252" stop-color="#860099"/><stop offset="0.8271" stop-color="#880099"/><stop offset="0.8289" stop-color="#860097"/><stop offset="0.8308" stop-color="#470051"/><stop offset="0.9154" stop-color="#2a0030"/><stop offset="0.9323" stop-color="#230028"/><stop offset="0.9586" stop-color="#0f0011"/><stop offset="1.0000" stop-color="#0c000e"/></linearGradient><linearGradient id="b31" gradientUnits="userSpaceOnUse" x1="328.85" y1="0" x2="594.90" y2="0"><stop offset="0.0000" stop-color="#4c00a0"/><stop offset="0.0019" stop-color="#4c00a0"/><stop offset="0.0038" stop-color="#780089"/><stop offset="0.0056" stop-color="#100013"/><stop offset="0.1880" stop-color="#100013"/><stop offset="0.1936" stop-color="#150018"/><stop offset="0.2030" stop-color="#2e0034"/><stop offset="0.2105" stop-color="#590065"/><stop offset="0.2143" stop-color="#740085"/><stop offset="0.2162" stop-color="#79008a"/><stop offset="0.2312" stop-color="#880099"/><stop offset="0.2331" stop-color="#5b009f"/><stop offset="0.2350" stop-color="#0c00a9"/><stop offset="0.2368" stop-color="#0000c0"/><stop offset="0.2481" stop-color="#0000d5"/><stop offset="0.2594" stop-color="#0000dd"/><stop offset="0.2688" stop-color="#000cdd"/><stop offset="0.2820" stop-color="#002fdd"/><stop offset="0.2970" stop-color="#0050dd"/><stop offset="0.3346" stop-color="#0051dd"/><stop offset="0.3590" stop-color="#0036dd"/><stop offset="0.3759" stop-color="#001add"/><stop offset="0.3872" stop-color="#0000dd"/><stop offset="0.4098" stop-color="#0000d0"/><stop offset="0.4662" stop-color="#0000dd"/><stop offset="0.4925" stop-color="#001bdd"/><stop offset="0.5150" stop-color="#002add"/><stop offset="0.5320" stop-color="#0020dd"/><stop offset="0.5564" stop-color="#0001dd"/><stop offset="0.5677" stop-color="#0000d8"/><stop offset="0.5865" stop-color="#0000c7"/><stop offset="0.6053" stop-color="#0000aa"/><stop offset="0.6241" stop-color="#63009e"/><stop offset="0.6353" stop-color="#7a009b"/><stop offset="0.6447" stop-color="#880099"/><stop offset="0.7406" stop-color="#860097"/><stop offset="0.7425" stop-color="#72009c"/><stop offset="0.7444" stop-color="#0092dd"/><stop offset="0.7481" stop-color="#0092dd"/><stop offset="0.7500" stop-color="#0000ca"/><stop offset="0.7519" stop-color="#0000d3"/><stop offset="0.7575" stop-color="#0000d4"/><stop offset="0.7594" stop-color="#0092dd"/><stop offset="0.7632" stop-color="#0092dd"/><stop offset="0.7650" stop-color="#0000c5"/><stop offset="0.7669" stop-color="#0000ce"/><stop offset="0.7820" stop-color="#0000ce"/><stop offset="0.7838" stop-color="#0061dd"/><stop offset="0.7857" stop-color="#007edd"/><stop offset="0.7876" stop-color="#007edd"/><stop offset="0.7895" stop-color="#0000cb"/><stop offset="0.7914" stop-color="#0000dd"/><stop offset="0.7951" stop-color="#0000dd"/><stop offset="0.7970" stop-color="#0077dd"/><stop offset="0.7989" stop-color="#0085dd"/><stop offset="0.8008" stop-color="#0085dd"/><stop offset="0.8026" stop-color="#0076dd"/><stop offset="0.8045" stop-color="#0000c9"/><stop offset="0.8177" stop-color="#0000c9"/><stop offset="0.8195" stop-color="#0000cd"/><stop offset="0.8214" stop-color="#007edd"/><stop offset="0.8233" stop-color="#007edd"/><stop offset="0.8252" stop-color="#850099"/><stop offset="0.8271" stop-color="#880099"/><stop offset="0.8289" stop-color="#860097"/><stop offset="0.8308" stop-color="#470051"/><stop offset="0.9154" stop-color="#2a0030"/><stop offset="0.9323" stop-color="#230028"/><stop offset="0.9586" stop-color="#0f0011"/><stop offset="1.0000" stop-color="#0c000e"/></linearGradient><linearGradient id="b32" gradientUnits="userSpaceOnUse" x1="328.85" y1="0" x2="594.90" y2="0"><stop offset="0.0000" stop-color="#4c00a0"/><stop offset="0.0019" stop-color="#4c00a0"/><stop offset="0.0038" stop-color="#780089"/><stop offset="0.0056" stop-color="#100013"/><stop offset="0.1917" stop-color="#110013"/><stop offset="0.2030" stop-color="#2e0035"/><stop offset="0.2105" stop-color="#5c0069"/><stop offset="0.2143" stop-color="#770088"/><stop offset="0.2293" stop-color="#870098"/><stop offset="0.2312" stop-color="#80009a"/><stop offset="0.2331" stop-color="#3900a3"/><stop offset="0.2350" stop-color="#0000c3"/><stop offset="0.2368" stop-color="#0024dd"/><stop offset="0.2669" stop-color="#005edd"/><stop offset="0.2763" stop-color="#0078dd"/><stop offset="0.2970" stop-color="#008bdd"/><stop offset="0.3346" stop-color="#008bdd"/><stop offset="0.3571" stop-color="#007fdd"/><stop offset="0.3684" stop-color="#0076dd"/><stop offset="0.3759" stop-color="#0061dd"/><stop offset="0.3910" stop-color="#0026dd"/><stop offset="0.4060" stop-color="#0001dd"/><stop offset="0.4079" stop-color="#0000dd"/><stop offset="0.4624" stop-color="#0000d8"/><stop offset="0.4774" stop-color="#0000dd"/><stop offset="0.4925" stop-color="#000cdd"/><stop offset="0.5301" stop-color="#0013dd"/><stop offset="0.5620" stop-color="#0000dd"/><stop offset="0.5677" stop-color="#0000db"/><stop offset="0.5865" stop-color="#0000c9"/><stop offset="0.6034" stop-color="#0000ab"/><stop offset="0.6053" stop-color="#0a00a9"/><stop offset="0.6128" stop-color="#4100a2"/><stop offset="0.6241" stop-color="#850099"/><stop offset="0.6259" stop-color="#880099"/><stop offset="0.7406" stop-color="#870098"/><stop offset="0.7425" stop-color="#6c009d"/><stop offset="0.7444" stop-color="#0092dd"/><stop offset="0.7481" stop-color="#0092dd"/><stop offset="0.7500" stop-color="#0000ca"/><stop offset="0.7519" stop-color="#0000d3"/><stop offset="0.7575" stop-color="#0000d4"/><stop offset="0.7594" stop-color="#0092dd"/><stop offset="0.7632" stop-color="#0092dd"/><stop offset="0.7650" stop-color="#0000c5"/><stop offset="0.7669" stop-color="#0000ce"/><stop offset="0.7820" stop-color="#0000ce"/><stop offset="0.7838" stop-color="#0062dd"/><stop offset="0.7857" stop-color="#007edd"/><stop offset="0.7876" stop-color="#007edd"/><stop offset="0.7895" stop-color="#0000cb"/><stop offset="0.7914" stop-color="#0000dd"/><stop offset="0.7951" stop-color="#0000dd"/><stop offset="0.7970" stop-color="#0077dd"/><stop offset="0.7989" stop-color="#0085dd"/><stop offset="0.8008" stop-color="#0085dd"/><stop offset="0.8026" stop-color="#0076dd"/><stop offset="0.8045" stop-color="#0000c9"/><stop offset="0.8177" stop-color="#0000c9"/><stop offset="0.8195" stop-color="#0000cd"/><stop offset="0.8214" stop-color="#007edd"/><stop offset="0.8233" stop-color="#007edd"/><stop offset="0.8252" stop-color="#850099"/><stop offset="0.8271" stop-color="#880099"/><stop offset="0.8289" stop-color="#860097"/><stop offset="0.8308" stop-color="#470051"/><stop offset="0.9154" stop-color="#2a0030"/><stop offset="0.9323" stop-color="#230028"/><stop offset="0.9586" stop-color="#0f0011"/><stop offset="1.0000" stop-color="#0c000e"/></linearGradient><linearGradient id="b33" gradientUnits="userSpaceOnUse" x1="328.85" y1="0" x2="594.90" y2="0"><stop offset="0.0000" stop-color="#4c00a0"/><stop offset="0.0019" stop-color="#4c00a0"/><stop offset="0.0038" stop-color="#780089"/><stop offset="0.0056" stop-color="#100012"/><stop offset="0.1880" stop-color="#100013"/><stop offset="0.1955" stop-color="#19001c"/><stop offset="0.2030" stop-color="#2e0034"/><stop offset="0.2105" stop-color="#560062"/><stop offset="0.2143" stop-color="#700080"/><stop offset="0.2162" stop-color="#780089"/><stop offset="0.2312" stop-color="#860097"/><stop offset="0.2331" stop-color="#7d009a"/><stop offset="0.2368" stop-color="#3a00a3"/><stop offset="0.2425" stop-color="#0b00a9"/><stop offset="0.2444" stop-color="#0000ab"/><stop offset="0.2519" stop-color="#0000b9"/><stop offset="0.2688" stop-color="#0000bc"/><stop offset="0.2820" stop-color="#0000c9"/><stop offset="0.2970" stop-color="#0000d0"/><stop offset="0.3365" stop-color="#0000d1"/><stop offset="0.4098" stop-color="#0000c3"/><stop offset="0.4586" stop-color="#0000dd"/><stop offset="0.4868" stop-color="#0024dd"/><stop offset="0.5150" stop-color="#0043dd"/><stop offset="0.5376" stop-color="#0025dd"/><stop offset="0.5564" stop-color="#0000dd"/><stop offset="0.5865" stop-color="#0000c5"/><stop offset="0.6071" stop-color="#0000ac"/><stop offset="0.6090" stop-color="#0300aa"/><stop offset="0.6353" stop-color="#6c009d"/><stop offset="0.6447" stop-color="#880099"/><stop offset="0.7406" stop-color="#850096"/><stop offset="0.7425" stop-color="#77009b"/><stop offset="0.7444" stop-color="#0092dd"/><stop offset="0.7481" stop-color="#0092dd"/><stop offset="0.7500" stop-color="#0000c9"/><stop offset="0.7519" stop-color="#0000d3"/><stop offset="0.7575" stop-color="#0000d3"/><stop offset="0.7594" stop-color="#0092dd"/><stop offset="0.7632" stop-color="#0092dd"/><stop offset="0.7650" stop-color="#0000c5"/><stop offset="0.7669" stop-color="#0000ce"/><stop offset="0.7820" stop-color="#0000ce"/><stop offset="0.7838" stop-color="#0061dd"/><stop offset="0.7857" stop-color="#007edd"/><stop offset="0.7876" stop-color="#007edd"/><stop offset="0.7895" stop-color="#0000cb"/><stop offset="0.7914" stop-color="#0000dd"/><stop offset="0.7951" stop-color="#0000dd"/><stop offset="0.7970" stop-color="#0076dd"/><stop offset="0.7989" stop-color="#0085dd"/><stop offset="0.8008" stop-color="#0085dd"/><stop offset="0.8026" stop-color="#0075dd"/><stop offset="0.8045" stop-color="#0000c9"/><stop offset="0.8177" stop-color="#0000c9"/><stop offset="0.8195" stop-color="#0000cc"/><stop offset="0.8214" stop-color="#007edd"/><stop offset="0.8233" stop-color="#007edd"/><stop offset="0.8252" stop-color="#860099"/><stop offset="0.8271" stop-color="#880099"/><stop offset="0.8289" stop-color="#860097"/><stop offset="0.8308" stop-color="#470051"/><stop offset="0.9154" stop-color="#2a0030"/><stop offset="0.9323" stop-color="#230028"/><stop offset="0.9586" stop-color="#0f0011"/><stop offset="1.0000" stop-color="#0c000e"/></linearGradient><linearGradient id="b34" gradientUnits="userSpaceOnUse" x1="328.85" y1="0" x2="594.90" y2="0"><stop offset="0.0000" stop-color="#4c00a0"/><stop offset="0.0019" stop-color="#4c00a0"/><stop offset="0.0038" stop-color="#780089"/><stop offset="0.0056" stop-color="#100012"/><stop offset="0.1880" stop-color="#100012"/><stop offset="0.1955" stop-color="#18001c"/><stop offset="0.2030" stop-color="#2e0034"/><stop offset="0.2105" stop-color="#540060"/><stop offset="0.2162" stop-color="#780089"/><stop offset="0.2331" stop-color="#880099"/><stop offset="0.2368" stop-color="#69009d"/><stop offset="0.2444" stop-color="#2300a6"/><stop offset="0.2481" stop-color="#0900a9"/><stop offset="0.2500" stop-color="#0000aa"/><stop offset="0.2556" stop-color="#0000ae"/><stop offset="0.2707" stop-color="#0000ae"/><stop offset="0.2838" stop-color="#0000ba"/><stop offset="0.2989" stop-color="#0000be"/><stop offset="0.4098" stop-color="#0000be"/><stop offset="0.4568" stop-color="#0000dc"/><stop offset="0.5150" stop-color="#004ddd"/><stop offset="0.5376" stop-color="#0029dd"/><stop offset="0.5564" stop-color="#0000dc"/><stop offset="0.5846" stop-color="#0000c6"/><stop offset="0.6090" stop-color="#0000ac"/><stop offset="0.6109" stop-color="#0200aa"/><stop offset="0.6147" stop-color="#1000a8"/><stop offset="0.6241" stop-color="#3300a4"/><stop offset="0.6353" stop-color="#66009d"/><stop offset="0.6447" stop-color="#880099"/><stop offset="0.6560" stop-color="#850096"/><stop offset="0.7406" stop-color="#850096"/><stop offset="0.7425" stop-color="#7a009b"/><stop offset="0.7444" stop-color="#0092dd"/><stop offset="0.7481" stop-color="#0092dd"/><stop offset="0.7500" stop-color="#0000c9"/><stop offset="0.7519" stop-color="#0000d3"/><stop offset="0.7575" stop-color="#0000d3"/><stop offset="0.7594" stop-color="#0092dd"/><stop offset="0.7632" stop-color="#0092dd"/><stop offset="0.7650" stop-color="#0000c5"/><stop offset="0.7669" stop-color="#0000ce"/><stop offset="0.7820" stop-color="#0000ce"/><stop offset="0.7838" stop-color="#0060dd"/><stop offset="0.7857" stop-color="#007edd"/><stop offset="0.7876" stop-color="#007edd"/><stop offset="0.7895" stop-color="#0000ca"/><stop offset="0.7914" stop-color="#0000dd"/><stop offset="0.7951" stop-color="#0000dd"/><stop offset="0.7970" stop-color="#0076dd"/><stop offset="0.7989" stop-color="#0085dd"/><stop offset="0.8008" stop-color="#0085dd"/><stop offset="0.8026" stop-color="#0075dd"/><stop offset="0.8045" stop-color="#0000c9"/><stop offset="0.8177" stop-color="#0000c9"/><stop offset="0.8195" stop-color="#0000cc"/><stop offset="0.8214" stop-color="#007edd"/><stop offset="0.8233" stop-color="#007edd"/><stop offset="0.8252" stop-color="#860099"/><stop offset="0.8271" stop-color="#880099"/><stop offset="0.8289" stop-color="#860097"/><stop offset="0.8308" stop-color="#470051"/><stop offset="0.9154" stop-color="#2a0030"/><stop offset="0.9323" stop-color="#230028"/><stop offset="0.9586" stop-color="#0f0011"/><stop offset="1.0000" stop-color="#0c000e"/></linearGradient><linearGradient id="b35" gradientUnits="userSpaceOnUse" x1="328.85" y1="0" x2="594.90" y2="0"><stop offset="0.0000" stop-color="#4c00a0"/><stop offset="0.0019" stop-color="#4c00a0"/><stop offset="0.0038" stop-color="#780089"/><stop offset="0.0056" stop-color="#100012"/><stop offset="0.1880" stop-color="#100012"/><stop offset="0.1955" stop-color="#19001c"/><stop offset="0.2030" stop-color="#2e0035"/><stop offset="0.2105" stop-color="#560062"/><stop offset="0.2143" stop-color="#700080"/><stop offset="0.2162" stop-color="#780089"/><stop offset="0.2312" stop-color="#860097"/><stop offset="0.2331" stop-color="#860099"/><stop offset="0.2425" stop-color="#2e00a4"/><stop offset="0.2481" stop-color="#0300aa"/><stop offset="0.2538" stop-color="#0000b0"/><stop offset="0.2688" stop-color="#0000b0"/><stop offset="0.2820" stop-color="#0000bc"/><stop offset="0.2970" stop-color="#0000c1"/><stop offset="0.4098" stop-color="#0000c1"/><stop offset="0.4511" stop-color="#0000dd"/><stop offset="0.4887" stop-color="#0041dd"/><stop offset="0.5150" stop-color="#0066dd"/><stop offset="0.5376" stop-color="#003add"/><stop offset="0.5526" stop-color="#0011dd"/><stop offset="0.5602" stop-color="#0001dd"/><stop offset="0.5977" stop-color="#0000bd"/><stop offset="0.6109" stop-color="#0000ac"/><stop offset="0.6128" stop-color="#0100aa"/><stop offset="0.6147" stop-color="#0800a9"/><stop offset="0.6241" stop-color="#2d00a4"/><stop offset="0.6372" stop-color="#68009d"/><stop offset="0.6447" stop-color="#850099"/><stop offset="0.6466" stop-color="#870098"/><stop offset="0.7406" stop-color="#850096"/><stop offset="0.7425" stop-color="#76009b"/><stop offset="0.7444" stop-color="#0092dd"/><stop offset="0.7481" stop-color="#0092dd"/><stop offset="0.7500" stop-color="#0000c9"/><stop offset="0.7519" stop-color="#0000d3"/><stop offset="0.7575" stop-color="#0000d3"/><stop offset="0.7594" stop-color="#0092dd"/><stop offset="0.7632" stop-color="#0092dd"/><stop offset="0.7650" stop-color="#0000c5"/><stop offset="0.7669" stop-color="#0000ce"/><stop offset="0.7820" stop-color="#0000ce"/><stop offset="0.7838" stop-color="#0061dd"/><stop offset="0.7857" stop-color="#007edd"/><stop offset="0.7876" stop-color="#007edd"/><stop offset="0.7895" stop-color="#0000cb"/><stop offset="0.7914" stop-color="#0000dd"/><stop offset="0.7951" stop-color="#0000dd"/><stop offset="0.7970" stop-color="#0077dd"/><stop offset="0.7989" stop-color="#0085dd"/><stop offset="0.8008" stop-color="#0085dd"/><stop offset="0.8026" stop-color="#0076dd"/><stop offset="0.8045" stop-color="#0000c9"/><stop offset="0.8177" stop-color="#0000c9"/><stop offset="0.8195" stop-color="#0000cd"/><stop offset="0.8214" stop-color="#007edd"/><stop offset="0.8233" stop-color="#007edd"/><stop offset="0.8252" stop-color="#860099"/><stop offset="0.8271" stop-color="#880099"/><stop offset="0.8289" stop-color="#860097"/><stop offset="0.8308" stop-color="#470051"/><stop offset="0.9154" stop-color="#2a0030"/><stop offset="0.9323" stop-color="#230028"/><stop offset="0.9586" stop-color="#0f0011"/><stop offset="1.0000" stop-color="#0c000e"/></linearGradient><linearGradient id="b36" gradientUnits="userSpaceOnUse" x1="328.85" y1="0" x2="594.90" y2="0"><stop offset="0.0000" stop-color="#4c00a0"/><stop offset="0.0019" stop-color="#4c00a0"/><stop offset="0.0038" stop-color="#780089"/><stop offset="0.0056" stop-color="#100012"/><stop offset="0.1880" stop-color="#100012"/><stop offset="0.1955" stop-color="#19001d"/><stop offset="0.2030" stop-color="#300037"/><stop offset="0.2105" stop-color="#590066"/><stop offset="0.2143" stop-color="#750086"/><stop offset="0.2312" stop-color="#880099"/><stop offset="0.2368" stop-color="#57009f"/><stop offset="0.2425" stop-color="#1e00a6"/><stop offset="0.2462" stop-color="#0000ab"/><stop offset="0.2538" stop-color="#0000b6"/><stop offset="0.2688" stop-color="#0000b8"/><stop offset="0.2820" stop-color="#0000c5"/><stop offset="0.2970" stop-color="#0000ca"/><stop offset="0.4098" stop-color="#0000ca"/><stop offset="0.4342" stop-color="#0000dd"/><stop offset="0.4568" stop-color="#0024dd"/><stop offset="0.4680" stop-color="#0042dd"/><stop offset="0.4850" stop-color="#0075dd"/><stop offset="0.5000" stop-color="#0081dd"/><stop offset="0.5150" stop-color="#0087dd"/><stop offset="0.5357" stop-color="#0073dd"/><stop offset="0.5545" stop-color="#002ddd"/><stop offset="0.5639" stop-color="#0013dd"/><stop offset="0.5733" stop-color="#0000dd"/><stop offset="0.5977" stop-color="#0000c6"/><stop offset="0.6165" stop-color="#0000ac"/><stop offset="0.6184" stop-color="#0300aa"/><stop offset="0.6241" stop-color="#1a00a7"/><stop offset="0.6353" stop-color="#5000a0"/><stop offset="0.6466" stop-color="#7f009a"/><stop offset="0.6504" stop-color="#880099"/><stop offset="0.7406" stop-color="#870098"/><stop offset="0.7425" stop-color="#6a009d"/><stop offset="0.7444" stop-color="#0092dd"/><stop offset="0.7481" stop-color="#0092dd"/><stop offset="0.7500" stop-color="#0000ca"/><stop offset="0.7519" stop-color="#0000d3"/><stop offset="0.7575" stop-color="#0000d4"/><stop offset="0.7594" stop-color="#0092dd"/><stop offset="0.7632" stop-color="#0092dd"/><stop offset="0.7650" stop-color="#0000c5"/><stop offset="0.7669" stop-color="#0000ce"/><stop offset="0.7820" stop-color="#0000ce"/><stop offset="0.7838" stop-color="#0062dd"/><stop offset="0.7857" stop-color="#007edd"/><stop offset="0.7876" stop-color="#007edd"/><stop offset="0.7895" stop-color="#0000cc"/><stop offset="0.7914" stop-color="#0000dd"/><stop offset="0.7951" stop-color="#0000dd"/><stop offset="0.7970" stop-color="#0077dd"/><stop offset="0.7989" stop-color="#0085dd"/><stop offset="0.8008" stop-color="#0085dd"/><stop offset="0.8026" stop-color="#0076dd"/><stop offset="0.8045" stop-color="#0000c9"/><stop offset="0.8177" stop-color="#0000c9"/><stop offset="0.8195" stop-color="#0000cd"/><stop offset="0.8214" stop-color="#007edd"/><stop offset="0.8233" stop-color="#007edd"/><stop offset="0.8252" stop-color="#840099"/><stop offset="0.8271" stop-color="#880099"/><stop offset="0.8289" stop-color="#870098"/><stop offset="0.8308" stop-color="#470051"/><stop offset="0.9154" stop-color="#2a0030"/><stop offset="0.9323" stop-color="#230028"/><stop offset="0.9586" stop-color="#0f0011"/><stop offset="1.0000" stop-color="#0c000e"/></linearGradient><linearGradient id="b37" gradientUnits="userSpaceOnUse" x1="328.85" y1="0" x2="594.90" y2="0"><stop offset="0.0000" stop-color="#4c00a0"/><stop offset="0.0019" stop-color="#4c00a0"/><stop offset="0.0038" stop-color="#780089"/><stop offset="0.0056" stop-color="#0d000f"/><stop offset="0.1917" stop-color="#110014"/><stop offset="0.1974" stop-color="#160019"/><stop offset="0.2049" stop-color="#240029"/><stop offset="0.2105" stop-color="#34003b"/><stop offset="0.2293" stop-color="#770088"/><stop offset="0.2500" stop-color="#820093"/><stop offset="0.2970" stop-color="#860097"/><stop offset="0.4248" stop-color="#870099"/><stop offset="0.4549" stop-color="#6e009c"/><stop offset="0.4756" stop-color="#4b00a1"/><stop offset="0.4774" stop-color="#4c00a1"/><stop offset="0.5000" stop-color="#2a00a5"/><stop offset="0.5019" stop-color="#2400a6"/><stop offset="0.5150" stop-color="#1a00a7"/><stop offset="0.5263" stop-color="#2b00a5"/><stop offset="0.5564" stop-color="#6a009d"/><stop offset="0.5677" stop-color="#79009b"/><stop offset="0.5827" stop-color="#880099"/><stop offset="0.6541" stop-color="#770088"/><stop offset="0.7425" stop-color="#7a008b"/><stop offset="0.7444" stop-color="#0800a9"/><stop offset="0.7481" stop-color="#0800a9"/><stop offset="0.7500" stop-color="#860097"/><stop offset="0.7575" stop-color="#880099"/><stop offset="0.7594" stop-color="#0500a9"/><stop offset="0.7632" stop-color="#0500a9"/><stop offset="0.7650" stop-color="#850096"/><stop offset="0.7669" stop-color="#870098"/><stop offset="0.7820" stop-color="#870098"/><stop offset="0.7838" stop-color="#4700a1"/><stop offset="0.7857" stop-color="#2d00a4"/><stop offset="0.7876" stop-color="#2d00a4"/><stop offset="0.7895" stop-color="#860097"/><stop offset="0.7914" stop-color="#7f009a"/><stop offset="0.7951" stop-color="#80009a"/><stop offset="0.7970" stop-color="#3b00a3"/><stop offset="0.7989" stop-color="#2100a6"/><stop offset="0.8008" stop-color="#2100a6"/><stop offset="0.8026" stop-color="#3c00a2"/><stop offset="0.8045" stop-color="#860097"/><stop offset="0.8195" stop-color="#870098"/><stop offset="0.8214" stop-color="#2d00a4"/><stop offset="0.8233" stop-color="#2e00a4"/><stop offset="0.8252" stop-color="#780089"/><stop offset="0.8271" stop-color="#780089"/><stop offset="0.8289" stop-color="#770088"/><stop offset="0.8308" stop-color="#2a0030"/><stop offset="0.9267" stop-color="#18001c"/><stop offset="0.9586" stop-color="#0d000e"/><stop offset="1.0000" stop-color="#0e0010"/></linearGradient><linearGradient id="b38" gradientUnits="userSpaceOnUse" x1="328.85" y1="0" x2="594.90" y2="0"><stop offset="0.0000" stop-color="#4c00a0"/><stop offset="0.0019" stop-color="#4c00a0"/><stop offset="0.0038" stop-color="#780088"/><stop offset="0.0056" stop-color="#0b000c"/><stop offset="0.0188" stop-color="#0b000c"/><stop offset="0.0207" stop-color="#0e0010"/><stop offset="0.0883" stop-color="#100012"/><stop offset="0.1617" stop-color="#0d000f"/><stop offset="0.1635" stop-color="#120015"/><stop offset="0.1898" stop-color="#120015"/><stop offset="0.1917" stop-color="#0e0011"/><stop offset="0.2801" stop-color="#0c000e"/><stop offset="0.2989" stop-color="#0f0011"/><stop offset="0.3008" stop-color="#0b000d"/><stop offset="0.3327" stop-color="#0b000d"/><stop offset="0.3346" stop-color="#100012"/><stop offset="0.3665" stop-color="#0b000d"/><stop offset="0.3684" stop-color="#0f0011"/><stop offset="0.3929" stop-color="#0f0011"/><stop offset="0.3947" stop-color="#120014"/><stop offset="0.4586" stop-color="#0e0010"/><stop offset="0.4605" stop-color="#120014"/><stop offset="0.4756" stop-color="#120014"/><stop offset="0.4774" stop-color="#0b000c"/><stop offset="0.5000" stop-color="#0b000c"/><stop offset="0.5019" stop-color="#120014"/><stop offset="0.5263" stop-color="#110014"/><stop offset="0.5282" stop-color="#0e0010"/><stop offset="0.5977" stop-color="#0f0012"/><stop offset="0.5996" stop-color="#0d000e"/><stop offset="0.6184" stop-color="#0a000c"/><stop offset="0.6429" stop-color="#0a000c"/><stop offset="0.6447" stop-color="#0e000f"/><stop offset="0.6711" stop-color="#0d000f"/><stop offset="0.6729" stop-color="#100012"/><stop offset="0.6805" stop-color="#100012"/><stop offset="0.6823" stop-color="#0a000c"/><stop offset="0.6992" stop-color="#0a000c"/><stop offset="0.7011" stop-color="#100013"/><stop offset="0.7105" stop-color="#100013"/><stop offset="0.7218" stop-color="#100012"/><stop offset="0.7237" stop-color="#0a000c"/><stop offset="0.7519" stop-color="#0a000c"/><stop offset="0.7538" stop-color="#100012"/><stop offset="0.7726" stop-color="#100013"/><stop offset="0.8214" stop-color="#100012"/><stop offset="0.8891" stop-color="#0a000c"/><stop offset="0.9699" stop-color="#0a000c"/><stop offset="0.9793" stop-color="#0d000e"/><stop offset="0.9812" stop-color="#100013"/><stop offset="1.0000" stop-color="#100013"/></linearGradient><linearGradient id="b39" gradientUnits="userSpaceOnUse" x1="328.85" y1="0" x2="594.90" y2="0"><stop offset="0.0000" stop-color="#4c00a0"/><stop offset="0.0019" stop-color="#4c00a0"/><stop offset="0.0038" stop-color="#780089"/><stop offset="0.0056" stop-color="#120014"/><stop offset="0.4173" stop-color="#130015"/><stop offset="0.4417" stop-color="#09000a"/><stop offset="0.4774" stop-color="#080009"/><stop offset="0.7331" stop-color="#080009"/><stop offset="0.7538" stop-color="#0f0011"/><stop offset="1.0000" stop-color="#0f0011"/></linearGradient><linearGradient id="b40" gradientUnits="userSpaceOnUse" x1="328.85" y1="0" x2="594.90" y2="0"><stop offset="0.0000" stop-color="#4c00a0"/><stop offset="0.0019" stop-color="#4c00a0"/><stop offset="0.0038" stop-color="#780089"/><stop offset="0.0056" stop-color="#140017"/><stop offset="0.4173" stop-color="#130016"/><stop offset="0.4417" stop-color="#070008"/><stop offset="0.7331" stop-color="#070008"/><stop offset="0.7500" stop-color="#0e0010"/><stop offset="1.0000" stop-color="#0e0010"/></linearGradient><linearGradient id="b41" gradientUnits="userSpaceOnUse" x1="328.85" y1="0" x2="594.90" y2="0"><stop offset="0.0000" stop-color="#4c00a0"/><stop offset="0.0019" stop-color="#4c00a0"/><stop offset="0.0038" stop-color="#780089"/><stop offset="0.0056" stop-color="#160019"/><stop offset="0.1917" stop-color="#140017"/><stop offset="0.1974" stop-color="#230028"/><stop offset="0.2068" stop-color="#51005d"/><stop offset="0.2180" stop-color="#770088"/><stop offset="0.2331" stop-color="#820093"/><stop offset="0.2782" stop-color="#840095"/><stop offset="0.5526" stop-color="#800091"/><stop offset="0.6278" stop-color="#7b008c"/><stop offset="0.6598" stop-color="#760087"/><stop offset="0.6842" stop-color="#640072"/><stop offset="0.6955" stop-color="#560062"/><stop offset="0.7331" stop-color="#53005f"/><stop offset="0.7425" stop-color="#590065"/><stop offset="0.7444" stop-color="#780089"/><stop offset="0.7481" stop-color="#79008a"/><stop offset="0.7500" stop-color="#5b0068"/><stop offset="0.7575" stop-color="#5e006b"/><stop offset="0.7594" stop-color="#79008a"/><stop offset="0.7632" stop-color="#79008a"/><stop offset="0.7650" stop-color="#590065"/><stop offset="0.7820" stop-color="#590066"/><stop offset="0.7838" stop-color="#750086"/><stop offset="0.7857" stop-color="#780089"/><stop offset="0.7876" stop-color="#780089"/><stop offset="0.7895" stop-color="#590066"/><stop offset="0.7951" stop-color="#5b0068"/><stop offset="0.7970" stop-color="#770088"/><stop offset="0.8026" stop-color="#770088"/><stop offset="0.8045" stop-color="#570064"/><stop offset="0.8177" stop-color="#570064"/><stop offset="0.8195" stop-color="#5b0068"/><stop offset="0.8214" stop-color="#780089"/><stop offset="0.8233" stop-color="#780089"/><stop offset="0.8252" stop-color="#3c0044"/><stop offset="0.8271" stop-color="#3c0044"/><stop offset="0.8308" stop-color="#32003a"/><stop offset="0.8383" stop-color="#2c0032"/><stop offset="0.9060" stop-color="#28002e"/><stop offset="0.9286" stop-color="#220027"/><stop offset="0.9624" stop-color="#110013"/><stop offset="1.0000" stop-color="#0e0010"/></linearGradient><linearGradient id="b42" gradientUnits="userSpaceOnUse" x1="328.85" y1="0" x2="594.90" y2="0"><stop offset="0.0000" stop-color="#4c00a0"/><stop offset="0.0019" stop-color="#4c00a0"/><stop offset="0.0038" stop-color="#79008a"/><stop offset="0.0056" stop-color="#1e0022"/><stop offset="0.1898" stop-color="#1e0022"/><stop offset="0.1917" stop-color="#150018"/><stop offset="0.1936" stop-color="#2d0034"/><stop offset="0.1974" stop-color="#720083"/><stop offset="0.2011" stop-color="#870098"/><stop offset="0.2030" stop-color="#5100a0"/><stop offset="0.2049" stop-color="#1600a7"/><stop offset="0.2068" stop-color="#0000b8"/><stop offset="0.2105" stop-color="#0000d9"/><stop offset="0.2124" stop-color="#001add"/><stop offset="0.2143" stop-color="#003ddd"/><stop offset="0.2162" stop-color="#006add"/><stop offset="0.2180" stop-color="#0081dd"/><stop offset="0.2199" stop-color="#008edd"/><stop offset="0.2218" stop-color="#009bd6"/><stop offset="0.2256" stop-color="#00aaa8"/><stop offset="0.2274" stop-color="#00aa95"/><stop offset="0.2293" stop-color="#00a76c"/><stop offset="0.2312" stop-color="#009e26"/><stop offset="0.2331" stop-color="#009c00"/><stop offset="0.2350" stop-color="#00a100"/><stop offset="0.2575" stop-color="#00b800"/><stop offset="0.2782" stop-color="#00b800"/><stop offset="0.3064" stop-color="#00aa00"/><stop offset="0.3609" stop-color="#00a300"/><stop offset="0.5526" stop-color="#009900"/><stop offset="0.5714" stop-color="#00a035"/><stop offset="0.5902" stop-color="#00aa86"/><stop offset="0.6090" stop-color="#00aa95"/><stop offset="0.6278" stop-color="#00aaaa"/><stop offset="0.6429" stop-color="#009dd2"/><stop offset="0.6504" stop-color="#0098dd"/><stop offset="0.6729" stop-color="#007edd"/><stop offset="0.6786" stop-color="#0073dd"/><stop offset="0.6842" stop-color="#0056dd"/><stop offset="0.6955" stop-color="#0003dd"/><stop offset="0.6974" stop-color="#0000dd"/><stop offset="0.7406" stop-color="#0000d6"/><stop offset="0.7425" stop-color="#0000dd"/><stop offset="0.7444" stop-color="#0099dd"/><stop offset="0.7481" stop-color="#0099dd"/><stop offset="0.7500" stop-color="#0000dd"/><stop offset="0.7556" stop-color="#0000dd"/><stop offset="0.7575" stop-color="#000edd"/><stop offset="0.7594" stop-color="#0099dd"/><stop offset="0.7632" stop-color="#0099dd"/><stop offset="0.7650" stop-color="#0000d7"/><stop offset="0.7820" stop-color="#0000d8"/><stop offset="0.7838" stop-color="#0081dd"/><stop offset="0.7857" stop-color="#008bdd"/><stop offset="0.7876" stop-color="#008bdd"/><stop offset="0.7895" stop-color="#0000d9"/><stop offset="0.7914" stop-color="#0000dd"/><stop offset="0.7951" stop-color="#0000dd"/><stop offset="0.7970" stop-color="#0086dd"/><stop offset="0.7989" stop-color="#0092dd"/><stop offset="0.8008" stop-color="#0092dd"/><stop offset="0.8026" stop-color="#0085dd"/><stop offset="0.8045" stop-color="#0000d3"/><stop offset="0.8177" stop-color="#0000d3"/><stop offset="0.8195" stop-color="#0000dc"/><stop offset="0.8214" stop-color="#008bdd"/><stop offset="0.8233" stop-color="#008bdd"/><stop offset="0.8252" stop-color="#5000a0"/><stop offset="0.8271" stop-color="#5200a0"/><stop offset="0.8308" stop-color="#870098"/><stop offset="0.8402" stop-color="#810092"/><stop offset="0.9060" stop-color="#7e008f"/><stop offset="0.9286" stop-color="#79008a"/><stop offset="0.9323" stop-color="#770088"/><stop offset="0.9342" stop-color="#720083"/><stop offset="0.9624" stop-color="#1e0022"/><stop offset="1.0000" stop-color="#0e0010"/></linearGradient><clipPath id="cR"><rect x="328.85" y="28.10" width="266.05" height="367.50"/></clipPath></defs><rect width="640" height="440" fill="#fff"/><g shape-rendering="crispEdges"><rect x="48.85" y="28.10" width="266.05" height="16.20" fill="url(#a0)"/><rect x="48.85" y="44.00" width="266.05" height="1.30" fill="url(#a1)"/><rect x="48.85" y="45.00" width="266.05" height="16.30" fill="url(#a2)"/><rect x="48.85" y="61.00" width="266.05" height="1.30" fill="url(#a3)"/><rect x="48.85" y="62.00" width="266.05" height="16.30" fill="url(#a4)"/><rect x="48.85" y="78.00" width="266.05" height="1.30" fill="url(#a5)"/><rect x="48.85" y="79.00" width="266.05" height="15.30" fill="url(#a6)"/><rect x="48.85" y="94.00" width="266.05" height="1.30" fill="url(#a7)"/><rect x="48.85" y="95.00" width="266.05" height="16.30" fill="url(#a8)"/><rect x="48.85" y="111.00" width="266.05" height="1.30" fill="url(#a9)"/><rect x="48.85" y="112.00" width="266.05" height="16.30" fill="url(#a10)"/><rect x="48.85" y="128.00" width="266.05" height="1.30" fill="url(#a11)"/><rect x="48.85" y="129.00" width="266.05" height="15.30" fill="url(#a12)"/><rect x="48.85" y="144.00" width="266.05" height="1.30" fill="url(#a13)"/><rect x="48.85" y="145.00" width="266.05" height="1.30" fill="url(#a14)"/><rect x="48.85" y="146.00" width="266.05" height="32.30" fill="url(#a15)"/><rect x="48.85" y="178.00" width="266.05" height="1.30" fill="url(#a16)"/><rect x="48.85" y="179.00" width="266.05" height="16.30" fill="url(#a17)"/><rect x="48.85" y="195.00" width="266.05" height="1.30" fill="url(#a18)"/><rect x="48.85" y="196.00" width="266.05" height="15.30" fill="url(#a19)"/><rect x="48.85" y="211.00" width="266.05" height="1.30" fill="url(#a20)"/><rect x="48.85" y="212.00" width="266.05" height="16.30" fill="url(#a21)"/><rect x="48.85" y="228.00" width="266.05" height="1.30" fill="url(#a22)"/><rect x="48.85" y="229.00" width="266.05" height="16.30" fill="url(#a23)"/><rect x="48.85" y="245.00" width="266.05" height="1.30" fill="url(#a24)"/><rect x="48.85" y="246.00" width="266.05" height="15.30" fill="url(#a25)"/><rect x="48.85" y="261.00" width="266.05" height="1.30" fill="url(#a26)"/><rect x="48.85" y="262.00" width="266.05" height="1.30" fill="url(#a27)"/><rect x="48.85" y="263.00" width="266.05" height="15.30" fill="url(#a28)"/><rect x="48.85" y="278.00" width="266.05" height="1.30" fill="url(#a29)"/><rect x="48.85" y="279.00" width="266.05" height="16.30" fill="url(#a30)"/><rect x="48.85" y="295.00" width="266.05" height="1.30" fill="url(#a31)"/><rect x="48.85" y="296.00" width="266.05" height="16.30" fill="url(#a32)"/><rect x="48.85" y="312.00" width="266.05" height="1.30" fill="url(#a33)"/><rect x="48.85" y="313.00" width="266.05" height="15.30" fill="url(#a34)"/><rect x="48.85" y="328.00" width="266.05" height="1.30" fill="url(#a35)"/><rect x="48.85" y="329.00" width="266.05" height="16.30" fill="url(#a36)"/><rect x="48.85" y="345.00" width="266.05" height="1.30" fill="url(#a37)"/><rect x="48.85" y="346.00" width="266.05" height="16.30" fill="url(#a38)"/><rect x="48.85" y="362.00" width="266.05" height="1.30" fill="url(#a39)"/><rect x="48.85" y="363.00" width="266.05" height="15.30" fill="url(#a40)"/><rect x="48.85" y="378.00" width="266.05" height="1.30" fill="url(#a41)"/><rect x="48.85" y="379.00" width="266.05" height="16.60" fill="url(#a42)"/></g><rect x="147.90" y="245.26" width="1.20" height="16.70" fill="#00e400"/><rect x="152.00" y="228.55" width="1.00" height="16.70" fill="#009cd3"/><rect x="155.00" y="312.08" width="1.00" height="16.70" fill="#00aaa3"/><g clip-path="url(#cL)"><polyline points="269.2,275.4 270.2,275.8 271.1,276.1 272.1,276.3 273.1,276.5 274.1,276.5 275.0,276.7 276.0,276.8 277.0,277.3 278.0,277.5 278.9,277.8 279.9,277.9 280.9,278.1 281.9,278.4 282.8,278.6 283.8,278.8 284.8,278.9 285.8,279.2 286.8,279.4 287.8,279.7 288.8,279.9 289.7,280.0 290.7,280.1 291.7,280.3 292.7,280.5 293.7,280.6 294.7,280.7 295.7,280.9 296.6,281.3 297.6,281.4 298.6,281.5 299.6,281.5 300.6,281.8 301.6,281.9 302.6,282.1 303.6,281.9 304.6,282.0 305.6,281.9 306.6,282.2 307.5,282.4 308.5,282.5 309.5,282.7 310.5,283.0 311.5,283.0 312.5,283.0 313.5,283.0 314.5,283.3" fill="none" stroke="#fff" stroke-width="2.78" stroke-linejoin="round" stroke-linecap="butt"/><polyline points="49.4,20.0 49.4,285.0" fill="none" stroke="#fff" stroke-width="2.78" stroke-linejoin="round" stroke-linecap="butt"/><polyline points="148.2,230.0 148.5,110.6 148.8,230.0" fill="none" stroke="#fff" stroke-width="2.78" stroke-linejoin="round" stroke-linecap="butt"/><polyline points="151.2,230.0 151.6,172.5 151.9,230.0" fill="none" stroke="#fff" stroke-width="2.78" stroke-linejoin="round" stroke-linecap="butt"/><polyline points="153.6,230.0 153.9,111.6 154.2,230.0" fill="none" stroke="#fff" stroke-width="2.78" stroke-linejoin="round" stroke-linecap="butt"/><polyline points="156.2,230.0 156.5,179.5 156.8,230.0" fill="none" stroke="#fff" stroke-width="2.78" stroke-linejoin="round" stroke-linecap="butt"/><polyline points="267.1,272.0 267.5,237.5 267.9,272.0" fill="none" stroke="#fff" stroke-width="2.78" stroke-linejoin="round" stroke-linecap="butt"/><polyline points="247.4,212.0 247.5,190.4 247.6,212.0" fill="none" stroke="#fff" stroke-width="2.78" stroke-linejoin="round" stroke-linecap="butt"/><polyline points="258.0,208.0 258.1,192.0 258.2,208.0" fill="none" stroke="#fff" stroke-width="2.78" stroke-linejoin="round" stroke-linecap="butt"/><polyline points="262.2,208.0 262.4,195.0 262.5,208.0" fill="none" stroke="#fff" stroke-width="2.78" stroke-linejoin="round" stroke-linecap="butt"/><polygon points="48.0,282.0 49.0,282.0 50.0,282.0 51.0,282.0 52.0,282.0 53.0,282.0 54.0,282.0 55.0,282.0 56.0,282.0 57.0,282.0 58.0,282.0 59.0,282.0 60.0,282.0 61.0,282.0 62.0,282.0 63.0,282.0 64.0,282.0 65.0,282.0 66.0,282.0 67.0,282.0 68.0,282.0 69.0,282.0 70.0,282.0 71.0,282.0 72.0,282.0 73.0,282.0 74.0,282.0 75.0,282.0 76.0,282.0 77.0,282.0 78.0,282.0 79.0,282.0 80.0,282.0 81.0,282.0 82.0,282.0 83.0,282.0 84.0,282.0 85.0,282.0 86.0,282.0 87.0,282.0 88.0,282.0 89.0,282.0 90.0,282.0 91.0,282.0 92.0,282.0 93.0,282.0 94.0,282.0 95.0,282.0 96.0,282.0 97.0,282.0 98.0,282.0 99.0,282.0 100.0,281.7 101.0,281.2 102.0,279.8 103.0,278.6 104.0,274.8 105.0,270.6 106.0,265.6 107.0,261.9 108.0,257.9 109.0,253.1 110.0,247.7 111.0,243.9 112.0,241.1 113.0,238.2 114.0,236.5 115.0,234.5 116.0,233.6 117.0,232.2 118.0,231.6 119.0,230.3 120.0,228.8 121.0,228.4 122.0,228.2 123.0,227.3 124.0,227.1 125.0,227.4 126.0,227.8 127.0,226.8 128.0,225.7 129.0,225.1 130.0,226.6 131.0,228.4 132.0,229.7 133.0,230.3 134.0,230.2 135.0,230.1 136.0,230.1 137.0,230.1 138.0,229.7 139.0,229.6 140.0,230.3 141.0,230.8 142.0,230.6 143.0,229.6 144.0,228.9 145.0,229.1 146.0,229.1 147.0,228.6 148.0,228.4 149.0,227.8 150.0,228.5 151.0,228.2 152.0,228.7 153.0,227.6 154.0,226.9 155.0,225.8 156.0,225.8 157.0,225.5 158.0,224.3 159.0,223.4 160.0,222.6 161.0,221.8 162.0,220.3 163.0,219.8 164.0,218.8 165.0,217.7 166.0,216.3 167.0,215.5 168.0,214.7 169.0,213.7 170.0,212.8 171.0,212.1 172.0,211.3 173.0,210.3 174.0,209.0 175.0,207.7 176.0,206.6 177.0,206.2 178.0,205.3 179.0,204.2 180.0,203.6 181.0,202.9 182.0,202.5 183.0,202.2 184.0,202.0 185.0,202.6 186.0,202.3 187.0,202.3 188.0,202.0 189.0,202.5 190.0,203.3 191.0,204.0 192.0,204.8 193.0,205.0 194.0,206.1 195.0,206.4 196.0,208.1 197.0,209.7 198.0,212.0 199.0,214.1 200.0,214.7 201.0,215.9 202.0,217.2 203.0,219.6 204.0,220.5 205.0,221.6 206.0,223.3 207.0,224.6 208.0,226.1 209.0,227.3 210.0,229.0 211.0,230.6 212.0,231.2 213.0,232.6 214.0,233.5 215.0,235.3 216.0,237.0 217.0,239.0 218.0,239.9 219.0,241.2 220.0,242.5 221.0,244.1 222.0,244.8 223.0,245.8 224.0,246.4 225.0,248.1 226.0,249.1 227.0,250.7 228.0,251.6 229.0,251.8 230.0,251.7 231.0,252.8 232.0,254.2 233.0,256.0 234.0,256.7 235.0,257.4 236.0,258.2 237.0,258.6 238.0,258.8 239.0,259.9 240.0,260.1 241.0,261.8 242.0,262.0 243.0,263.4 244.0,263.3 245.0,263.9 246.0,264.2 246.0,269.8 245.0,269.6 244.0,269.0 243.0,268.7 242.0,268.4 241.0,267.6 240.0,267.9 239.0,267.6 238.0,267.1 237.0,266.2 236.0,265.4 235.0,264.0 234.0,263.2 233.0,261.8 232.0,261.9 231.0,261.3 230.0,260.7 229.0,259.8 228.0,258.6 227.0,257.6 226.0,255.9 225.0,253.8 224.0,252.4 223.0,251.8 222.0,251.8 221.0,251.3 220.0,250.5 219.0,249.3 218.0,248.2 217.0,246.3 216.0,244.6 215.0,242.8 214.0,242.7 213.0,241.8 212.0,239.9 211.0,238.1 210.0,235.9 209.0,235.0 208.0,233.6 207.0,233.1 206.0,231.5 205.0,229.6 204.0,228.2 203.0,226.7 202.0,225.8 201.0,224.4 200.0,222.8 199.0,220.9 198.0,219.3 197.0,217.4 196.0,216.1 195.0,214.8 194.0,213.8 193.0,212.7 192.0,212.7 191.0,213.9 190.0,213.0 189.0,212.4 188.0,211.3 187.0,211.4 186.0,210.4 185.0,209.5 184.0,209.7 183.0,210.0 182.0,210.7 181.0,212.1 180.0,213.3 179.0,214.3 178.0,213.7 177.0,214.6 176.0,214.9 175.0,216.3 174.0,216.5 173.0,217.9 172.0,219.0 171.0,220.6 170.0,221.9 169.0,223.3 168.0,225.0 167.0,225.4 166.0,225.8 165.0,226.3 164.0,227.1 163.0,227.5 162.0,228.0 161.0,229.3 160.0,230.4 159.0,230.6 158.0,230.7 157.0,232.2 156.0,232.8 155.0,233.1 154.0,232.7 153.0,233.8 152.0,234.0 151.0,233.9 150.0,233.2 149.0,233.4 148.0,234.4 147.0,235.1 146.0,235.8 145.0,235.8 144.0,236.0 143.0,235.6 142.0,235.3 141.0,235.5 140.0,235.9 139.0,236.6 138.0,236.6 137.0,237.5 136.0,237.1 135.0,236.9 134.0,235.8 133.0,235.7 132.0,235.8 131.0,236.2 130.0,235.7 129.0,234.7 128.0,233.9 127.0,233.9 126.0,234.7 125.0,235.8 124.0,235.9 123.0,235.6 122.0,234.9 121.0,235.2 120.0,236.5 119.0,238.2 118.0,240.0 117.0,241.4 116.0,244.7 115.0,247.3 114.0,250.0 113.0,253.4 112.0,257.7 111.0,262.4 110.0,267.2 109.0,271.3 108.0,275.0 107.0,277.7 106.0,280.5 105.0,283.6 104.0,284.8 103.0,285.0 102.0,285.0 101.0,285.2 100.0,285.2 99.0,285.2 98.0,285.2 97.0,285.2 96.0,285.2 95.0,285.2 94.0,285.2 93.0,285.2 92.0,285.2 91.0,285.2 90.0,285.2 89.0,285.2 88.0,285.2 87.0,285.2 86.0,285.2 85.0,285.2 84.0,285.2 83.0,285.2 82.0,285.2 81.0,285.2 80.0,285.2 79.0,285.2 78.0,285.2 77.0,285.2 76.0,285.2 75.0,285.2 74.0,285.2 73.0,285.2 72.0,285.2 71.0,285.2 70.0,285.2 69.0,285.2 68.0,285.2 67.0,285.2 66.0,285.2 65.0,285.2 64.0,285.2 63.0,285.2 62.0,285.2 61.0,285.2 60.0,285.2 59.0,285.2 58.0,285.2 57.0,285.2 56.0,285.2 55.0,285.2 54.0,285.2 53.0,285.2 52.0,285.2 51.0,285.2 50.0,285.2 49.0,285.2 48.0,285.2" fill="#fff"/><polygon points="158.5,230.0 158.6,114.0 159.2,111.2 159.9,110.6 160.8,111.4 161.6,117.0 163.1,134.0 163.3,160.0 163.3,226.0" fill="#fff"/><polygon points="245.9,272.0 246.1,206.0 248.9,205.0 250.5,208.0 251.9,210.5 253.0,218.0 254.2,226.0 255.0,231.5 255.8,226.0 256.5,212.0 256.7,201.0 259.5,201.0 259.9,203.5 260.3,205.5 260.8,203.5 261.0,201.0 263.7,201.0 264.0,208.0 264.6,216.0 265.5,240.0 266.3,245.0 268.8,245.0 269.3,262.0 270.0,276.5 268.0,273.0 266.0,267.0 264.0,262.0 262.0,259.0 261.0,262.0 259.5,268.5 258.0,268.5 257.0,263.0 255.0,261.0 253.5,263.0 252.0,262.0 250.5,267.5 248.0,268.0 245.9,270.0" fill="#fff"/></g><g shape-rendering="crispEdges"><rect x="328.85" y="28.10" width="266.05" height="33.20" fill="url(#b0)"/><rect x="328.85" y="61.00" width="266.05" height="1.30" fill="url(#b1)"/><rect x="328.85" y="62.00" width="266.05" height="16.30" fill="url(#b2)"/><rect x="328.85" y="78.00" width="266.05" height="1.30" fill="url(#b3)"/><rect x="328.85" y="79.00" width="266.05" height="15.30" fill="url(#b4)"/><rect x="328.85" y="94.00" width="266.05" height="1.30" fill="url(#b5)"/><rect x="328.85" y="95.00" width="266.05" height="16.30" fill="url(#b6)"/><rect x="328.85" y="111.00" width="266.05" height="1.30" fill="url(#b7)"/><rect x="328.85" y="112.00" width="266.05" height="16.30" fill="url(#b8)"/><rect x="328.85" y="128.00" width="266.05" height="1.30" fill="url(#b9)"/><rect x="328.85" y="129.00" width="266.05" height="15.30" fill="url(#b10)"/><rect x="328.85" y="144.00" width="266.05" height="1.30" fill="url(#b11)"/><rect x="328.85" y="145.00" width="266.05" height="1.30" fill="url(#b12)"/><rect x="328.85" y="146.00" width="266.05" height="15.30" fill="url(#b13)"/><rect x="328.85" y="161.00" width="266.05" height="1.30" fill="url(#b14)"/><rect x="328.85" y="162.00" width="266.05" height="16.30" fill="url(#b15)"/><rect x="328.85" y="178.00" width="266.05" height="1.30" fill="url(#b16)"/><rect x="328.85" y="179.00" width="266.05" height="16.30" fill="url(#b17)"/><rect x="328.85" y="195.00" width="266.05" height="1.30" fill="url(#b18)"/><rect x="328.85" y="196.00" width="266.05" height="15.30" fill="url(#b19)"/><rect x="328.85" y="211.00" width="266.05" height="1.30" fill="url(#b20)"/><rect x="328.85" y="212.00" width="266.05" height="16.30" fill="url(#b21)"/><rect x="328.85" y="228.00" width="266.05" height="1.30" fill="url(#b22)"/><rect x="328.85" y="229.00" width="266.05" height="16.30" fill="url(#b23)"/><rect x="328.85" y="245.00" width="266.05" height="1.30" fill="url(#b24)"/><rect x="328.85" y="246.00" width="266.05" height="15.30" fill="url(#b25)"/><rect x="328.85" y="261.00" width="266.05" height="1.30" fill="url(#b26)"/><rect x="328.85" y="262.00" width="266.05" height="1.30" fill="url(#b27)"/><rect x="328.85" y="263.00" width="266.05" height="15.30" fill="url(#b28)"/><rect x="328.85" y="278.00" width="266.05" height="1.30" fill="url(#b29)"/><rect x="328.85" y="279.00" width="266.05" height="16.30" fill="url(#b30)"/><rect x="328.85" y="295.00" width="266.05" height="1.30" fill="url(#b31)"/><rect x="328.85" y="296.00" width="266.05" height="16.30" fill="url(#b32)"/><rect x="328.85" y="312.00" width="266.05" height="1.30" fill="url(#b33)"/><rect x="328.85" y="313.00" width="266.05" height="15.30" fill="url(#b34)"/><rect x="328.85" y="328.00" width="266.05" height="1.30" fill="url(#b35)"/><rect x="328.85" y="329.00" width="266.05" height="16.30" fill="url(#b36)"/><rect x="328.85" y="345.00" width="266.05" height="1.30" fill="url(#b37)"/><rect x="328.85" y="346.00" width="266.05" height="16.30" fill="url(#b38)"/><rect x="328.85" y="362.00" width="266.05" height="1.30" fill="url(#b39)"/><rect x="328.85" y="363.00" width="266.05" height="15.30" fill="url(#b40)"/><rect x="328.85" y="378.00" width="266.05" height="1.30" fill="url(#b41)"/><rect x="328.85" y="379.00" width="266.05" height="16.60" fill="url(#b42)"/></g><rect x="428.30" y="245.26" width="1.00" height="16.70" fill="#00a3be"/><rect x="440.30" y="94.92" width="1.20" height="16.70" fill="#00aa96"/><g clip-path="url(#cR)"><polyline points="549.5,278.3 550.5,278.6 551.5,278.7 552.5,278.7 553.4,278.9 554.4,279.2 555.4,279.4 556.4,279.5 557.4,279.8 558.4,279.8 559.4,279.9 560.4,279.7 561.3,280.0 562.3,280.2 563.3,280.4 564.3,280.5 565.3,280.7 566.3,280.9 567.3,281.1 568.3,281.3 569.3,281.3 570.3,281.4 571.2,281.7 572.2,281.9 573.2,282.1 574.2,281.9 575.2,282.1 576.2,282.3 577.2,282.5 578.2,282.6 579.2,282.6 580.2,282.5 581.2,282.5 582.2,282.8 583.2,283.1 584.2,283.1 585.2,283.1 586.2,283.1 587.2,283.1 588.2,283.1 589.2,283.1 590.2,283.2 591.2,283.4 592.2,283.6 593.2,283.8 594.1,284.0" fill="none" stroke="#fff" stroke-width="2.78" stroke-linejoin="round" stroke-linecap="butt"/><polyline points="329.4,20.0 329.4,285.0" fill="none" stroke="#fff" stroke-width="2.78" stroke-linejoin="round" stroke-linecap="butt"/><polyline points="388.8,262.1 388.9,261.1 389.1,260.1 389.3,259.1 389.5,258.0 389.7,257.2 389.8,256.3 390.0,255.3 390.2,254.1 390.4,253.0 390.6,252.0 390.8,251.2 390.9,250.4 391.1,249.5 391.3,248.5 391.5,247.5 391.6,246.5 391.8,245.5 392.0,244.4 392.2,243.2 392.3,242.2 392.5,241.3 392.7,240.4 392.8,239.4 393.0,238.4 393.1,237.4 393.2,236.4 393.3,235.5 393.4,234.5 393.4,233.6 393.5,232.5 393.6,231.5 393.7,230.4 393.9,229.6 394.3,228.7 394.8,227.9 395.2,227.0 395.7,226.0 396.1,225.0 396.6,224.1 397.2,223.3 397.7,222.5 398.2,221.5 398.8,220.6 399.3,219.7 399.8,218.9 400.3,218.1 400.7,217.2 401.2,216.3 401.7,215.5 402.1,214.8 402.6,214.0 403.1,213.1 404.1,213.3 405.0,213.4 405.5,214.4 406.1,215.4 406.6,216.4 407.0,216.7 407.3,215.6 407.5,214.4 407.8,213.3 408.0,212.2 408.3,211.5 408.6,210.7 408.8,209.7 409.1,208.6 409.4,207.5 410.0,208.0 410.7,208.6 411.5,209.2 412.1,210.1 412.7,210.9 413.2,211.8 413.8,212.6 414.3,213.6 415.1,214.3 415.9,214.8 416.7,215.3 417.4,215.9 418.2,216.5 418.9,217.2 419.6,217.9 420.3,218.7 421.0,219.4 421.7,220.0 422.5,220.7 423.3,221.6 424.0,222.1 424.8,222.8 425.6,223.4 426.3,224.1 427.1,224.5 427.9,225.1 428.6,225.9 429.3,226.7 430.0,227.5 430.7,228.2 431.4,228.9 432.1,229.6 432.8,230.3 433.6,231.1 434.3,231.9 435.1,232.5 435.8,233.0 436.7,233.6 437.5,234.2 438.4,234.8 439.2,235.0" fill="none" stroke="#fff" stroke-width="2.60" stroke-linejoin="round" stroke-linecap="butt"/><polyline points="391.0,257.8 391.1,256.8 391.3,255.8 391.4,254.8 391.5,253.8 391.7,252.8 391.8,251.8 391.9,250.9 392.1,249.9 392.2,249.1 392.3,248.1 392.5,247.1 392.6,246.1 392.7,245.0 392.9,244.0 393.1,243.0 393.2,242.0 393.4,241.2 393.5,240.3 393.7,239.2 393.8,238.2 394.0,237.1 394.2,236.3 394.4,235.2 394.6,234.3 394.8,233.2 395.1,232.6 395.3,231.4 395.5,230.4 395.9,229.4 396.3,228.6 396.7,227.7 397.1,226.6 397.9,225.9 398.7,225.2 399.1,226.1 399.5,226.8 399.9,227.7 400.3,228.6 400.8,229.5 401.3,230.4 401.8,231.4 402.4,232.3 403.2,232.8 404.1,233.2 404.8,232.9 405.4,232.3 406.0,231.5 406.7,231.4 407.5,232.0 408.2,232.8 408.8,233.7 409.3,234.4 409.9,235.1 410.4,236.0 411.0,236.9 411.5,237.9 412.3,238.3 413.0,238.9 413.7,239.2" fill="none" stroke="#fff" stroke-width="2.50" stroke-linejoin="round" stroke-linecap="butt"/><polyline points="392.5,254.2 392.7,253.1 392.8,252.2 393.0,251.2 393.2,250.1 393.3,249.0 393.5,248.1 393.7,247.1 393.8,246.2 394.0,245.2 394.3,244.3 394.6,243.3 394.9,242.2 395.3,241.2 395.6,240.3 395.9,239.4 396.6,238.7 397.5,238.2 398.4,237.9 399.4,237.9 400.4,238.1 401.3,238.7 402.2,239.0 403.1,238.8 403.9,237.9 404.7,237.5 405.5,237.0 406.4,236.6 407.2,236.3 407.9,236.9 408.6,237.6 409.3,238.3 410.1,239.0 410.9,239.5 411.7,240.2 412.5,240.8" fill="none" stroke="#fff" stroke-width="2.40" stroke-linejoin="round" stroke-linecap="butt"/><polyline points="444.0,238.0 444.9,237.6 445.9,237.4 446.8,236.8 447.7,236.3 448.7,235.8 449.7,235.7 450.6,235.4 451.6,235.4 452.6,235.2 453.4,234.9 454.3,234.3 455.2,233.8 456.0,233.3 457.0,233.3 458.0,233.4 459.0,233.5 460.0,233.4 460.9,233.4 461.9,232.8 462.9,232.6 463.8,232.2 464.5,233.3 465.3,233.9 466.0,234.9 466.5,235.4 467.0,236.7 467.5,237.4 467.9,238.5 468.4,239.2 468.9,240.2 469.5,241.1 470.1,241.6 470.8,242.3 471.5,242.9 472.3,243.4 473.2,243.9 474.0,244.3 474.8,245.1 475.5,245.8 476.2,246.5 476.9,247.3 477.7,247.8 478.4,248.6 479.2,249.0 480.1,249.5 481.1,250.0 482.0,250.4 483.0,250.6 483.9,250.7 484.9,251.0 485.8,251.4 486.7,251.8 487.6,252.3 488.5,252.7 489.4,253.1 490.3,253.6 491.2,254.1 492.1,254.5 493.0,254.9 493.9,255.2 494.8,255.9 495.7,256.5 496.6,256.9" fill="none" stroke="#fff" stroke-width="2.40" stroke-linejoin="round" stroke-linecap="butt"/><polyline points="454.0,231.6 455.0,231.6 456.0,231.7 457.0,231.8 458.0,232.1 458.9,232.2 459.9,232.0 460.9,231.8 461.9,231.7 462.8,231.4 463.8,231.3 464.8,231.0 465.8,231.3 466.8,231.6 467.7,231.9 468.7,232.1 469.7,232.3 470.5,232.8 471.4,233.6 472.2,234.0 473.0,234.5 473.9,234.9 474.6,235.5 475.3,236.4 476.0,237.0 476.7,237.7 477.5,238.2 478.2,239.1 479.0,239.9 479.7,240.6 480.4,241.1 481.2,241.7 481.9,242.5 482.7,243.0 483.4,243.7 484.2,244.3 484.9,245.0 485.7,245.6 486.4,246.3 487.2,247.2 487.9,248.0 488.5,248.7 489.2,249.2 489.8,250.0 490.5,250.8 491.2,251.5 491.9,252.0 492.7,252.7 493.4,253.3" fill="none" stroke="#fff" stroke-width="2.40" stroke-linejoin="round" stroke-linecap="butt"/><polyline points="428.7,242.0 428.9,189.6 429.1,242.0" fill="none" stroke="#fff" stroke-width="2.00" stroke-linejoin="round" stroke-linecap="butt"/><polyline points="433.7,240.0 434.6,76.8 435.6,240.0" fill="none" stroke="#fff" stroke-width="2.50" stroke-linejoin="round" stroke-linecap="butt"/><polyline points="439.4,238.0 440.0,110.4 440.6,238.0" fill="none" stroke="#fff" stroke-width="2.78" stroke-linejoin="round" stroke-linecap="butt"/><polyline points="441.1,238.0 441.6,150.0 442.1,238.0" fill="none" stroke="#fff" stroke-width="2.78" stroke-linejoin="round" stroke-linecap="butt"/><polyline points="431.0,241.0 431.2,226.0 431.4,241.0" fill="none" stroke="#fff" stroke-width="2.00" stroke-linejoin="round" stroke-linecap="butt"/><polyline points="527.6,208.0 527.8,191.6 527.9,208.0" fill="none" stroke="#fff" stroke-width="2.78" stroke-linejoin="round" stroke-linecap="butt"/><polyline points="531.8,208.0 531.9,186.6 532.0,208.0" fill="none" stroke="#fff" stroke-width="2.78" stroke-linejoin="round" stroke-linecap="butt"/><polyline points="537.9,212.0 538.0,199.8 538.1,212.0" fill="none" stroke="#fff" stroke-width="2.78" stroke-linejoin="round" stroke-linecap="butt"/><polyline points="541.4,208.0 541.5,191.6 541.6,208.0" fill="none" stroke="#fff" stroke-width="2.78" stroke-linejoin="round" stroke-linecap="butt"/><polygon points="328.0,281.8 329.0,281.8 330.0,281.8 331.0,281.8 332.0,281.8 333.0,281.8 334.0,281.8 335.0,281.8 336.0,281.8 337.0,281.8 338.0,281.8 339.0,281.8 340.0,281.8 341.0,281.8 342.0,281.8 343.0,281.8 344.0,281.8 345.0,281.8 346.0,281.8 347.0,281.8 348.0,281.8 349.0,281.8 350.0,281.8 351.0,281.8 352.0,281.8 353.0,281.8 354.0,281.8 355.0,281.8 356.0,281.8 357.0,281.8 358.0,281.8 359.0,281.8 360.0,281.8 361.0,281.8 362.0,281.8 363.0,281.8 364.0,281.8 365.0,281.8 366.0,281.8 367.0,281.8 368.0,281.8 369.0,281.8 370.0,281.8 371.0,281.8 372.0,281.8 373.0,281.8 374.0,281.8 375.0,281.8 376.0,281.8 377.0,281.8 378.0,281.8 379.0,281.8 380.0,281.8 381.0,281.3 382.0,281.0 383.0,279.6 384.0,277.7 385.0,274.6 386.0,271.9 387.0,269.1 388.0,263.1 389.0,257.4 390.0,253.0 391.0,250.1 392.0,247.6 393.0,245.2 394.0,243.0 395.0,241.8 396.0,240.9 397.0,242.0 398.0,242.5 399.0,243.1 400.0,242.7 401.0,242.6 402.0,243.1 403.0,243.4 404.0,242.6 405.0,241.6 406.0,240.9 407.0,240.7 408.0,240.9 409.0,240.3 410.0,239.7 411.0,238.8 412.0,237.9 413.0,238.3 414.0,238.0 415.0,238.3 416.0,238.7 417.0,239.4 418.0,239.3 419.0,238.9 420.0,239.0 421.0,239.9 422.0,239.9 423.0,239.5 424.0,238.4 425.0,239.3 426.0,239.3 427.0,239.8 428.0,238.8 429.0,238.7 430.0,238.3 431.0,237.6 432.0,237.1 433.0,236.5 434.0,236.8 435.0,235.8 436.0,235.0 437.0,234.1 438.0,234.3 439.0,233.9 440.0,232.8 441.0,231.2 442.0,230.0 443.0,230.0 444.0,229.3 445.0,229.0 446.0,227.5 447.0,226.1 448.0,225.2 449.0,224.8 450.0,224.5 451.0,223.2 452.0,222.2 453.0,221.0 454.0,220.3 455.0,218.6 456.0,217.4 457.0,217.1 458.0,217.5 459.0,218.5 460.0,218.2 461.0,218.1 462.0,216.6 463.0,215.4 464.0,214.2 465.0,214.3 466.0,214.0 467.0,215.3 468.0,216.2 469.0,217.1 470.0,217.8 471.0,217.9 472.0,219.1 473.0,219.0 474.0,219.9 475.0,219.7 476.0,220.7 477.0,220.9 478.0,222.1 479.0,222.9 480.0,224.0 481.0,225.5 482.0,227.1 483.0,228.8 484.0,229.8 485.0,231.1 486.0,232.3 487.0,233.9 488.0,235.1 489.0,235.5 490.0,237.5 491.0,238.4 492.0,240.2 493.0,241.4 494.0,242.8 495.0,244.4 496.0,244.8 497.0,245.9 498.0,246.4 499.0,248.0 500.0,249.8 501.0,251.6 502.0,253.3 503.0,253.8 504.0,254.6 505.0,255.4 506.0,256.8 507.0,258.1 508.0,259.1 509.0,260.0 510.0,260.7 511.0,261.3 512.0,262.2 513.0,262.7 514.0,263.4 515.0,264.2 516.0,265.1 517.0,265.9 518.0,265.8 519.0,267.1 520.0,266.7 521.0,267.0 522.0,266.4 523.0,268.4 524.0,269.5 525.0,270.3 526.0,269.8 526.0,275.8 525.0,275.0 524.0,273.8 523.0,274.4 522.0,274.4 521.0,274.7 520.0,273.7 519.0,273.4 518.0,273.4 517.0,273.4 516.0,272.6 515.0,271.4 514.0,269.7 513.0,269.1 512.0,268.5 511.0,268.4 510.0,268.3 509.0,267.5 508.0,266.7 507.0,266.1 506.0,265.5 505.0,264.3 504.0,263.1 503.0,262.2 502.0,261.7 501.0,259.5 500.0,258.0 499.0,256.6 498.0,255.9 497.0,255.0 496.0,254.0 495.0,252.2 494.0,250.4 493.0,248.8 492.0,247.4 491.0,245.5 490.0,244.3 489.0,243.2 488.0,241.7 487.0,239.9 486.0,238.4 485.0,237.5 484.0,237.2 483.0,236.1 482.0,234.6 481.0,232.2 480.0,231.3 479.0,229.9 478.0,229.6 477.0,228.2 476.0,228.1 475.0,227.9 474.0,227.8 473.0,226.7 472.0,226.0 471.0,225.4 470.0,225.2 469.0,224.7 468.0,224.1 467.0,224.0 466.0,223.9 465.0,224.2 464.0,224.6 463.0,225.4 462.0,226.4 461.0,227.3 460.0,227.0 459.0,227.1 458.0,227.3 457.0,228.5 456.0,229.1 455.0,230.5 454.0,231.8 453.0,233.1 452.0,234.0 451.0,234.3 450.0,235.2 449.0,236.3 448.0,237.2 447.0,237.9 446.0,238.0 445.0,238.3 444.0,238.9 443.0,239.2 442.0,240.0 441.0,240.5 440.0,242.2 439.0,242.6 438.0,243.2 437.0,243.6 436.0,244.4 435.0,244.8 434.0,244.9 433.0,245.4 432.0,245.2 431.0,245.4 430.0,245.4 429.0,246.1 428.0,246.4 427.0,246.2 426.0,246.2 425.0,246.4 424.0,247.6 423.0,248.3 422.0,248.2 421.0,247.8 420.0,247.9 419.0,248.5 418.0,248.2 417.0,248.7 416.0,248.3 415.0,248.4 414.0,247.8 413.0,248.6 412.0,248.5 411.0,248.4 410.0,247.9 409.0,248.5 408.0,249.9 407.0,249.7 406.0,249.7 405.0,249.9 404.0,250.9 403.0,251.1 402.0,249.7 401.0,249.5 400.0,250.4 399.0,250.9 398.0,252.1 397.0,252.5 396.0,254.4 395.0,256.1 394.0,258.2 393.0,261.0 392.0,264.5 391.0,267.4 390.0,270.8 389.0,273.3 388.0,276.0 387.0,277.8 386.0,280.7 385.0,283.7 384.0,284.6 383.0,284.7 382.0,284.9 381.0,285.0 380.0,285.0 379.0,285.0 378.0,285.0 377.0,285.0 376.0,285.0 375.0,285.0 374.0,285.0 373.0,285.0 372.0,285.0 371.0,285.0 370.0,285.0 369.0,285.0 368.0,285.0 367.0,285.0 366.0,285.0 365.0,285.0 364.0,285.0 363.0,285.0 362.0,285.0 361.0,285.0 360.0,285.0 359.0,285.0 358.0,285.0 357.0,285.0 356.0,285.0 355.0,285.0 354.0,285.0 353.0,285.0 352.0,285.0 351.0,285.0 350.0,285.0 349.0,285.0 348.0,285.0 347.0,285.0 346.0,285.0 345.0,285.0 344.0,285.0 343.0,285.0 342.0,285.0 341.0,285.0 340.0,285.0 339.0,285.0 338.0,285.0 337.0,285.0 336.0,285.0 335.0,285.0 334.0,285.0 333.0,285.0 332.0,285.0 331.0,285.0 330.0,285.0 329.0,285.0 328.0,285.0" fill="#fff"/><polygon points="526.2,276.0 526.3,202.0 529.2,202.0 529.6,204.0 530.0,205.5 530.4,203.0 530.5,200.0 533.3,200.0 533.8,204.0 534.6,211.0 535.6,216.5 536.3,212.0 536.6,206.0 539.4,204.0 539.8,200.5 540.2,199.5 543.0,201.0 543.8,207.5 545.5,218.0 547.0,225.0 548.8,230.0 549.6,245.0 550.4,279.5 548.0,277.0 546.5,262.0 545.0,255.0 543.0,252.0 542.0,262.0 540.5,268.5 538.0,268.5 537.0,262.0 535.0,258.0 533.0,259.0 532.0,262.0 531.0,268.5 527.5,268.5 526.2,278.0" fill="#fff"/></g><text x="181.9" y="15.0" font-size="16.67" text-anchor="middle" fill="#000">14.2 (LBC2=2018) X</text><text x="461.9" y="15.0" font-size="16.67" text-anchor="middle" fill="#000">14.2 (LBC2=2018) Y</text><text transform="translate(3.3,218.8) rotate(-90)" font-size="13.89" text-anchor="middle" fill="#000">Dipole</text><text x="32.3" y="41.70" font-size="13.89" text-anchor="end" fill="#000">On</text><text x="611.8" y="41.70" font-size="13.89" fill="#000">On</text><text x="32.3" y="58.36" font-size="13.89" text-anchor="end" fill="#000">Y</text><text x="611.8" y="58.36" font-size="13.89" fill="#000">Y</text><text x="32.3" y="75.02" font-size="13.89" text-anchor="end" fill="#000">Off</text><text x="611.8" y="75.02" font-size="13.89" fill="#000">Off</text><text x="32.3" y="91.69" font-size="13.89" text-anchor="end" fill="#000">P</text><text x="611.8" y="91.69" font-size="13.89" fill="#000">P</text><text x="32.3" y="108.35" font-size="13.89" text-anchor="end" fill="#000">O</text><text x="611.8" y="108.35" font-size="13.89" fill="#000">O</text><text x="32.3" y="125.01" font-size="13.89" text-anchor="end" fill="#000">N</text><text x="611.8" y="125.01" font-size="13.89" fill="#000">N</text><text x="32.3" y="141.67" font-size="13.89" text-anchor="end" fill="#000">M</text><text x="611.8" y="141.67" font-size="13.89" fill="#000">M</text><text x="32.3" y="158.33" font-size="13.89" text-anchor="end" fill="#000">L</text><text x="611.8" y="158.33" font-size="13.89" fill="#000">L</text><text x="32.3" y="175.00" font-size="13.89" text-anchor="end" fill="#000">K</text><text x="611.8" y="175.00" font-size="13.89" fill="#000">K</text><text x="32.3" y="191.66" font-size="13.89" text-anchor="end" fill="#000">J</text><text x="611.8" y="191.66" font-size="13.89" fill="#000">J</text><text x="32.3" y="208.32" font-size="13.89" text-anchor="end" fill="#000">I</text><text x="611.8" y="208.32" font-size="13.89" fill="#000">I</text><text x="32.3" y="224.98" font-size="13.89" text-anchor="end" fill="#000">H</text><text x="611.8" y="224.98" font-size="13.89" fill="#000">H</text><text x="32.3" y="241.64" font-size="13.89" text-anchor="end" fill="#000">G</text><text x="611.8" y="241.64" font-size="13.89" fill="#000">G</text><text x="32.3" y="258.31" font-size="13.89" text-anchor="end" fill="#000">F</text><text x="611.8" y="258.31" font-size="13.89" fill="#000">F</text><text x="32.3" y="274.97" font-size="13.89" text-anchor="end" fill="#000">E</text><text x="611.8" y="274.97" font-size="13.89" fill="#000">E</text><text x="32.3" y="291.63" font-size="13.89" text-anchor="end" fill="#000">D</text><text x="611.8" y="291.63" font-size="13.89" fill="#000">D</text><text x="32.3" y="308.29" font-size="13.89" text-anchor="end" fill="#000">C</text><text x="611.8" y="308.29" font-size="13.89" fill="#000">C **</text><text x="32.3" y="324.95" font-size="13.89" text-anchor="end" fill="#000">B</text><text x="611.8" y="324.95" font-size="13.89" fill="#000">B</text><text x="32.3" y="341.62" font-size="13.89" text-anchor="end" fill="#000">A</text><text x="611.8" y="341.62" font-size="13.89" fill="#000">A</text><text x="32.3" y="358.28" font-size="13.89" text-anchor="end" fill="#000">Off</text><text x="611.8" y="358.28" font-size="13.89" fill="#000">Off</text><text x="32.3" y="374.94" font-size="13.89" text-anchor="end" fill="#000">X</text><text x="611.8" y="374.94" font-size="13.89" fill="#000">X</text><text x="32.3" y="391.60" font-size="13.89" text-anchor="end" fill="#000">On</text><text x="611.8" y="391.60" font-size="13.89" fill="#000">On</text><text x="38.75" y="289.25" font-size="13.89" text-anchor="end" fill="#fff">0</text><text x="38.75" y="241.25" font-size="13.89" text-anchor="end" fill="#fff">5</text><text x="38.75" y="193.25" font-size="13.89" text-anchor="end" fill="#fff">10</text><text x="38.75" y="145.25" font-size="13.89" text-anchor="end" fill="#fff">15</text><text x="38.75" y="97.25" font-size="13.89" text-anchor="end" fill="#fff">20</text><text x="38.75" y="49.25" font-size="13.89" text-anchor="end" fill="#fff">25</text><text x="318.75" y="289.25" font-size="13.89" text-anchor="end" fill="#fff">0</text><text x="318.75" y="241.25" font-size="13.89" text-anchor="end" fill="#fff">5</text><text x="318.75" y="193.25" font-size="13.89" text-anchor="end" fill="#fff">10</text><text x="318.75" y="145.25" font-size="13.89" text-anchor="end" fill="#fff">15</text><text x="318.75" y="97.25" font-size="13.89" text-anchor="end" fill="#fff">20</text><text x="318.75" y="49.25" font-size="13.89" text-anchor="end" fill="#fff">25</text><rect x="70.05" y="282.50" width="5.4" height="1.2" fill="#fff"/><text x="79.15" y="289.25" font-size="13.89" fill="#fff">0</text><rect x="70.05" y="234.50" width="5.4" height="1.2" fill="#fff"/><text x="79.15" y="241.25" font-size="13.89" fill="#fff">5</text><rect x="70.05" y="186.50" width="5.4" height="1.2" fill="#fff"/><text x="79.15" y="193.25" font-size="13.89" fill="#fff">10</text><rect x="70.05" y="138.50" width="5.4" height="1.2" fill="#fff"/><text x="79.15" y="145.25" font-size="13.89" fill="#fff">15</text><rect x="70.05" y="90.50" width="5.4" height="1.2" fill="#fff"/><text x="79.15" y="97.25" font-size="13.89" fill="#fff">20</text><rect x="70.05" y="42.50" width="5.4" height="1.2" fill="#fff"/><text x="79.15" y="49.25" font-size="13.89" fill="#fff">25</text><rect x="350.05" y="282.50" width="5.4" height="1.2" fill="#fff"/><text x="359.15" y="289.25" font-size="13.89" fill="#fff">0</text><rect x="350.05" y="234.50" width="5.4" height="1.2" fill="#fff"/><text x="359.15" y="241.25" font-size="13.89" fill="#fff">5</text><rect x="350.05" y="186.50" width="5.4" height="1.2" fill="#fff"/><text x="359.15" y="193.25" font-size="13.89" fill="#fff">10</text><rect x="350.05" y="138.50" width="5.4" height="1.2" fill="#fff"/><text x="359.15" y="145.25" font-size="13.89" fill="#fff">15</text><rect x="350.05" y="90.50" width="5.4" height="1.2" fill="#fff"/><text x="359.15" y="97.25" font-size="13.89" fill="#fff">20</text><rect x="350.05" y="42.50" width="5.4" height="1.2" fill="#fff"/><text x="359.15" y="49.25" font-size="13.89" fill="#fff">25</text><rect x="48.70" y="408.2" width="1.1" height="5.2" fill="#000"/><text transform="translate(49.25,426.3) scale(0.85,1)" font-size="10.4" text-anchor="middle" fill="#000">0</text><rect x="89.37" y="408.2" width="1.1" height="5.2" fill="#000"/><text transform="translate(89.92,426.3) scale(0.85,1)" font-size="10.4" text-anchor="middle" fill="#000">50</text><rect x="130.03" y="408.2" width="1.1" height="5.2" fill="#000"/><text transform="translate(130.58,426.3) scale(0.85,1)" font-size="10.4" text-anchor="middle" fill="#000">100</text><rect x="170.70" y="408.2" width="1.1" height="5.2" fill="#000"/><text transform="translate(171.25,426.3) scale(0.85,1)" font-size="10.4" text-anchor="middle" fill="#000">150</text><rect x="211.37" y="408.2" width="1.1" height="5.2" fill="#000"/><text transform="translate(211.92,426.3) scale(0.85,1)" font-size="10.4" text-anchor="middle" fill="#000">200</text><rect x="252.03" y="408.2" width="1.1" height="5.2" fill="#000"/><text transform="translate(252.59,426.3) scale(0.85,1)" font-size="10.4" text-anchor="middle" fill="#000">250</text><rect x="292.70" y="408.2" width="1.1" height="5.2" fill="#000"/><text transform="translate(293.25,426.3) scale(0.85,1)" font-size="10.4" text-anchor="middle" fill="#000">300</text><rect x="328.70" y="408.2" width="1.1" height="5.2" fill="#000"/><text transform="translate(329.25,426.3) scale(0.85,1)" font-size="10.4" text-anchor="middle" fill="#000">0</text><rect x="369.37" y="408.2" width="1.1" height="5.2" fill="#000"/><text transform="translate(369.92,426.3) scale(0.85,1)" font-size="10.4" text-anchor="middle" fill="#000">50</text><rect x="410.03" y="408.2" width="1.1" height="5.2" fill="#000"/><text transform="translate(410.58,426.3) scale(0.85,1)" font-size="10.4" text-anchor="middle" fill="#000">100</text><rect x="450.70" y="408.2" width="1.1" height="5.2" fill="#000"/><text transform="translate(451.25,426.3) scale(0.85,1)" font-size="10.4" text-anchor="middle" fill="#000">150</text><rect x="491.37" y="408.2" width="1.1" height="5.2" fill="#000"/><text transform="translate(491.92,426.3) scale(0.85,1)" font-size="10.4" text-anchor="middle" fill="#000">200</text><rect x="532.04" y="408.2" width="1.1" height="5.2" fill="#000"/><text transform="translate(532.59,426.3) scale(0.85,1)" font-size="10.4" text-anchor="middle" fill="#000">250</text><rect x="572.70" y="408.2" width="1.1" height="5.2" fill="#000"/><text transform="translate(573.25,426.3) scale(0.85,1)" font-size="10.4" text-anchor="middle" fill="#000">300</text></svg>
</body></html>
